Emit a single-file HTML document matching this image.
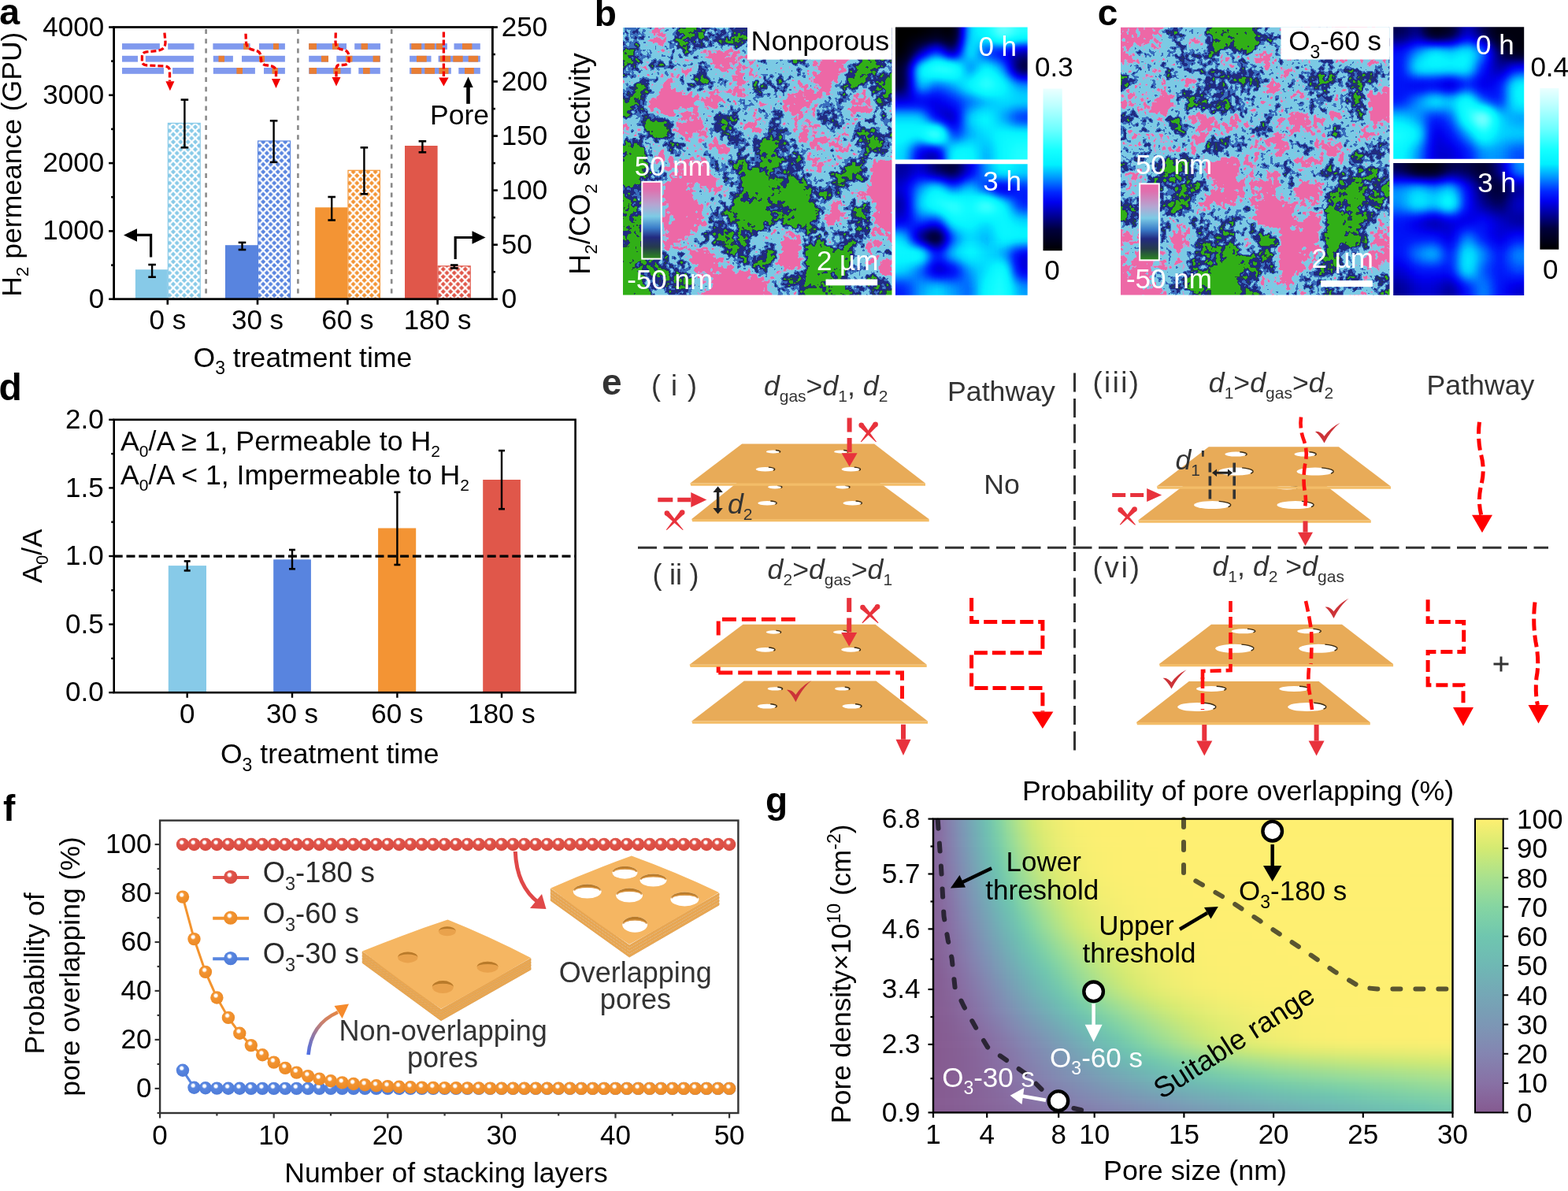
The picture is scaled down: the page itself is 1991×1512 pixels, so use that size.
<!DOCTYPE html>
<html><head><meta charset="utf-8"><title>Figure</title>
<style>html,body{margin:0;padding:0;background:#fff;} svg{display:block;} text{font-family:"Liberation Sans", Arial, sans-serif;}</style>
</head><body>
<svg width="1991" height="1512" viewBox="0 0 1991 1512">
<defs>
<pattern id="hLB" patternUnits="userSpaceOnUse" width="9.33" height="9.5" x="220.00" y="379.70"><rect width="9.33" height="9.5" fill="#fff"/><path d="M-3.15,0.00 L0.00,-3.05 L3.15,0.00 L0.00,3.05 Z M6.18,0.00 L9.33,-3.05 L12.48,0.00 L9.33,3.05 Z M-3.15,9.50 L0.00,6.45 L3.15,9.50 L0.00,12.55 Z M6.18,9.50 L9.33,6.45 L12.48,9.50 L9.33,12.55 Z M1.52,4.75 L4.67,1.70 L7.81,4.75 L4.67,7.80 Z" fill="#87cae8"/></pattern><pattern id="hBL" patternUnits="userSpaceOnUse" width="9.33" height="9.5" x="334.20" y="379.70"><rect width="9.33" height="9.5" fill="#fff"/><path d="M-3.15,0.00 L0.00,-3.05 L3.15,0.00 L0.00,3.05 Z M6.18,0.00 L9.33,-3.05 L12.48,0.00 L9.33,3.05 Z M-3.15,9.50 L0.00,6.45 L3.15,9.50 L0.00,12.55 Z M6.18,9.50 L9.33,6.45 L12.48,9.50 L9.33,12.55 Z M1.52,4.75 L4.67,1.70 L7.81,4.75 L4.67,7.80 Z" fill="#5884df"/></pattern><pattern id="hOR" patternUnits="userSpaceOnUse" width="9.33" height="9.5" x="448.60" y="379.70"><rect width="9.33" height="9.5" fill="#fff"/><path d="M-3.15,0.00 L0.00,-3.05 L3.15,0.00 L0.00,3.05 Z M6.18,0.00 L9.33,-3.05 L12.48,0.00 L9.33,3.05 Z M-3.15,9.50 L0.00,6.45 L3.15,9.50 L0.00,12.55 Z M6.18,9.50 L9.33,6.45 L12.48,9.50 L9.33,12.55 Z M1.52,4.75 L4.67,1.70 L7.81,4.75 L4.67,7.80 Z" fill="#f39434"/></pattern><pattern id="hRD" patternUnits="userSpaceOnUse" width="9.33" height="9.5" x="562.80" y="379.70"><rect width="9.33" height="9.5" fill="#fff"/><path d="M-3.15,0.00 L0.00,-3.05 L3.15,0.00 L0.00,3.05 Z M6.18,0.00 L9.33,-3.05 L12.48,0.00 L9.33,3.05 Z M-3.15,9.50 L0.00,6.45 L3.15,9.50 L0.00,12.55 Z M6.18,9.50 L9.33,6.45 L12.48,9.50 L9.33,12.55 Z M1.52,4.75 L4.67,1.70 L7.81,4.75 L4.67,7.80 Z" fill="#e0574a"/></pattern><filter id="afmb" filterUnits="userSpaceOnUse" x="791" y="35" width="341.5" height="339.5" color-interpolation-filters="sRGB">
<feGaussianBlur in="SourceGraphic" stdDeviation="7" result="base"/>
<feTurbulence type="fractalNoise" baseFrequency="0.035" numOctaves="3" seed="7" result="n0"/>
<feColorMatrix in="n0" type="matrix" values="1 0 0 0 0  0 1 0 0 0  0 0 1 0 0  0 0 0 0 1" result="n1"/>
<feComposite in="base" in2="n1" operator="arithmetic" k1="0" k2="1" k3="0.45" k4="-0.225" result="h1"/>
<feTurbulence type="fractalNoise" baseFrequency="0.16" numOctaves="2" seed="12" result="m0"/>
<feColorMatrix in="m0" type="matrix" values="1 0 0 0 0  0 1 0 0 0  0 0 1 0 0  0 0 0 0 1" result="m1"/>
<feComposite in="h1" in2="m1" operator="arithmetic" k1="0" k2="1" k3="0.3" k4="-0.15" result="hh"/>
<feColorMatrix in="hh" type="matrix" values="1 0 0 0 0  1 0 0 0 0  1 0 0 0 0  0 0 0 0 1"/>
<feComponentTransfer>
<feFuncR type="discrete" tableValues="0.196 0.196 0.196 0.196 0.196 0.196 0.196 0.196 0.196 0.196 0.196 0.196 0.196 0.196 0.196 0.196 0.133 0.129 0.129 0.129 0.227 0.227 0.486 0.486 0.486 0.486 0.486 0.769 0.933 0.933 0.933 0.933 0.933 0.933 0.933 0.933 0.933 0.933 0.933 0.933 0.933 0.933 0.933 0.933 0.933 0.933 0.933 0.933 0.933 0.933"/>
<feFuncG type="discrete" tableValues="0.690 0.690 0.690 0.690 0.690 0.690 0.690 0.690 0.690 0.690 0.690 0.690 0.690 0.690 0.690 0.690 0.275 0.165 0.165 0.165 0.431 0.431 0.796 0.796 0.796 0.796 0.796 0.627 0.408 0.408 0.408 0.408 0.408 0.408 0.408 0.408 0.408 0.408 0.408 0.408 0.408 0.408 0.408 0.408 0.408 0.408 0.408 0.408 0.408 0.408"/>
<feFuncB type="discrete" tableValues="0.094 0.094 0.094 0.094 0.094 0.094 0.094 0.094 0.094 0.094 0.094 0.094 0.094 0.094 0.094 0.094 0.275 0.510 0.510 0.510 0.745 0.745 0.898 0.898 0.898 0.898 0.898 0.824 0.651 0.651 0.651 0.651 0.651 0.651 0.651 0.651 0.651 0.651 0.651 0.651 0.651 0.651 0.651 0.651 0.651 0.651 0.651 0.651 0.651 0.651"/>
</feComponentTransfer>
</filter><clipPath id="afmb_clip"><rect x="791" y="35" width="341.5" height="339.5"/></clipPath><filter id="afmc" filterUnits="userSpaceOnUse" x="1423" y="34.7" width="341.5" height="339.7" color-interpolation-filters="sRGB">
<feGaussianBlur in="SourceGraphic" stdDeviation="7" result="base"/>
<feTurbulence type="fractalNoise" baseFrequency="0.035" numOctaves="3" seed="11" result="n0"/>
<feColorMatrix in="n0" type="matrix" values="1 0 0 0 0  0 1 0 0 0  0 0 1 0 0  0 0 0 0 1" result="n1"/>
<feComposite in="base" in2="n1" operator="arithmetic" k1="0" k2="1" k3="0.45" k4="-0.225" result="h1"/>
<feTurbulence type="fractalNoise" baseFrequency="0.16" numOctaves="2" seed="16" result="m0"/>
<feColorMatrix in="m0" type="matrix" values="1 0 0 0 0  0 1 0 0 0  0 0 1 0 0  0 0 0 0 1" result="m1"/>
<feComposite in="h1" in2="m1" operator="arithmetic" k1="0" k2="1" k3="0.3" k4="-0.15" result="hh"/>
<feColorMatrix in="hh" type="matrix" values="1 0 0 0 0  1 0 0 0 0  1 0 0 0 0  0 0 0 0 1"/>
<feComponentTransfer>
<feFuncR type="discrete" tableValues="0.196 0.196 0.196 0.196 0.196 0.196 0.196 0.196 0.196 0.196 0.196 0.196 0.196 0.196 0.196 0.196 0.133 0.129 0.129 0.129 0.227 0.227 0.486 0.486 0.486 0.486 0.486 0.769 0.933 0.933 0.933 0.933 0.933 0.933 0.933 0.933 0.933 0.933 0.933 0.933 0.933 0.933 0.933 0.933 0.933 0.933 0.933 0.933 0.933 0.933"/>
<feFuncG type="discrete" tableValues="0.690 0.690 0.690 0.690 0.690 0.690 0.690 0.690 0.690 0.690 0.690 0.690 0.690 0.690 0.690 0.690 0.275 0.165 0.165 0.165 0.431 0.431 0.796 0.796 0.796 0.796 0.796 0.627 0.408 0.408 0.408 0.408 0.408 0.408 0.408 0.408 0.408 0.408 0.408 0.408 0.408 0.408 0.408 0.408 0.408 0.408 0.408 0.408 0.408 0.408"/>
<feFuncB type="discrete" tableValues="0.094 0.094 0.094 0.094 0.094 0.094 0.094 0.094 0.094 0.094 0.094 0.094 0.094 0.094 0.094 0.094 0.275 0.510 0.510 0.510 0.745 0.745 0.898 0.898 0.898 0.898 0.898 0.824 0.651 0.651 0.651 0.651 0.651 0.651 0.651 0.651 0.651 0.651 0.651 0.651 0.651 0.651 0.651 0.651 0.651 0.651 0.651 0.651 0.651 0.651"/>
</feComponentTransfer>
</filter><clipPath id="afmc_clip"><rect x="1423" y="34.7" width="341.5" height="339.7"/></clipPath><filter id="k0b" filterUnits="userSpaceOnUse" x="1137" y="34.6" width="167.7" height="167.8" color-interpolation-filters="sRGB">
<feGaussianBlur in="SourceGraphic" stdDeviation="8.5"/>
<feComponentTransfer>
<feFuncR type="table" tableValues="0.000 0.000 0.000 0.000 0.000 0.000 0.000 0.000 0.000 0.000 0.000 0.017 0.061 0.160 0.296 0.431 0.536 0.641 0.745 0.833 0.922"/>
<feFuncG type="table" tableValues="0.000 0.000 0.000 0.000 0.000 0.000 0.000 0.131 0.349 0.588 0.809 0.954 0.987 1.000 1.000 1.000 1.000 1.000 1.000 1.000 1.000"/>
<feFuncB type="table" tableValues="0.000 0.090 0.181 0.318 0.526 0.734 0.941 0.990 1.000 1.000 1.000 1.000 1.000 1.000 1.000 1.000 1.000 1.000 1.000 1.000 1.000"/>
</feComponentTransfer>
</filter><clipPath id="k0b_clip"><rect x="1137" y="34.6" width="167.7" height="167.8"/></clipPath><filter id="k3b" filterUnits="userSpaceOnUse" x="1137" y="208.2" width="167.7" height="166.5" color-interpolation-filters="sRGB">
<feGaussianBlur in="SourceGraphic" stdDeviation="8.5"/>
<feComponentTransfer>
<feFuncR type="table" tableValues="0.000 0.000 0.000 0.000 0.000 0.000 0.000 0.000 0.000 0.000 0.000 0.017 0.061 0.160 0.296 0.431 0.536 0.641 0.745 0.833 0.922"/>
<feFuncG type="table" tableValues="0.000 0.000 0.000 0.000 0.000 0.000 0.000 0.131 0.349 0.588 0.809 0.954 0.987 1.000 1.000 1.000 1.000 1.000 1.000 1.000 1.000"/>
<feFuncB type="table" tableValues="0.000 0.090 0.181 0.318 0.526 0.734 0.941 0.990 1.000 1.000 1.000 1.000 1.000 1.000 1.000 1.000 1.000 1.000 1.000 1.000 1.000"/>
</feComponentTransfer>
</filter><clipPath id="k3b_clip"><rect x="1137" y="208.2" width="167.7" height="166.5"/></clipPath><filter id="k0c" filterUnits="userSpaceOnUse" x="1769.2" y="34.2" width="166" height="167.6" color-interpolation-filters="sRGB">
<feGaussianBlur in="SourceGraphic" stdDeviation="8.5"/>
<feComponentTransfer>
<feFuncR type="table" tableValues="0.000 0.000 0.000 0.000 0.000 0.000 0.000 0.000 0.000 0.000 0.000 0.017 0.061 0.160 0.296 0.431 0.536 0.641 0.745 0.833 0.922"/>
<feFuncG type="table" tableValues="0.000 0.000 0.000 0.000 0.000 0.000 0.000 0.131 0.349 0.588 0.809 0.954 0.987 1.000 1.000 1.000 1.000 1.000 1.000 1.000 1.000"/>
<feFuncB type="table" tableValues="0.000 0.090 0.181 0.318 0.526 0.734 0.941 0.990 1.000 1.000 1.000 1.000 1.000 1.000 1.000 1.000 1.000 1.000 1.000 1.000 1.000"/>
</feComponentTransfer>
</filter><clipPath id="k0c_clip"><rect x="1769.2" y="34.2" width="166" height="167.6"/></clipPath><filter id="k3c" filterUnits="userSpaceOnUse" x="1769.2" y="207.1" width="166" height="167.9" color-interpolation-filters="sRGB">
<feGaussianBlur in="SourceGraphic" stdDeviation="8.5"/>
<feComponentTransfer>
<feFuncR type="table" tableValues="0.000 0.000 0.000 0.000 0.000 0.000 0.000 0.000 0.000 0.000 0.000 0.017 0.061 0.160 0.296 0.431 0.536 0.641 0.745 0.833 0.922"/>
<feFuncG type="table" tableValues="0.000 0.000 0.000 0.000 0.000 0.000 0.000 0.131 0.349 0.588 0.809 0.954 0.987 1.000 1.000 1.000 1.000 1.000 1.000 1.000 1.000"/>
<feFuncB type="table" tableValues="0.000 0.090 0.181 0.318 0.526 0.734 0.941 0.990 1.000 1.000 1.000 1.000 1.000 1.000 1.000 1.000 1.000 1.000 1.000 1.000 1.000"/>
</feComponentTransfer>
</filter><clipPath id="k3c_clip"><rect x="1769.2" y="207.1" width="166" height="167.9"/></clipPath><linearGradient id="afmcb" x1="0" y1="0" x2="0" y2="1"><stop offset="0" stop-color="#ee68a6"/><stop offset="0.1" stop-color="#e06fae"/><stop offset="0.3" stop-color="#b4a6d2"/><stop offset="0.45" stop-color="#7ccbe5"/><stop offset="0.6" stop-color="#3a7cc8"/><stop offset="0.72" stop-color="#222a80"/><stop offset="0.85" stop-color="#263c4c"/><stop offset="1" stop-color="#2c8a1e"/></linearGradient><linearGradient id="kcb" x1="0" y1="0" x2="0" y2="1"><stop offset="0.000" stop-color="#ebffff"/><stop offset="0.100" stop-color="#beffff"/><stop offset="0.250" stop-color="#6effff"/><stop offset="0.380" stop-color="#14ffff"/><stop offset="0.470" stop-color="#00f0ff"/><stop offset="0.550" stop-color="#0096ff"/><stop offset="0.640" stop-color="#0028ff"/><stop offset="0.700" stop-color="#0000f0"/><stop offset="0.870" stop-color="#00003c"/><stop offset="1.000" stop-color="#000000"/></linearGradient><linearGradient id="kfade" x1="0" y1="0" x2="0" y2="1"><stop offset="0" stop-color="#fff" stop-opacity="1"/><stop offset="0.08" stop-color="#fff" stop-opacity="0"/></linearGradient><radialGradient id="sR" cx="0.42" cy="0.36" r="0.62" fx="0.42" fy="0.34"><stop offset="0" stop-color="#fff"/><stop offset="0.16" stop-color="#fff" stop-opacity="0.95"/><stop offset="0.34" stop-color="#e0554b"/><stop offset="1" stop-color="#d84a40"/></radialGradient><radialGradient id="sO" cx="0.42" cy="0.36" r="0.62" fx="0.42" fy="0.34"><stop offset="0" stop-color="#fff"/><stop offset="0.16" stop-color="#fff" stop-opacity="0.95"/><stop offset="0.34" stop-color="#f39431"/><stop offset="1" stop-color="#ec8a26"/></radialGradient><radialGradient id="sB" cx="0.42" cy="0.36" r="0.62" fx="0.42" fy="0.34"><stop offset="0" stop-color="#fff"/><stop offset="0.16" stop-color="#fff" stop-opacity="0.95"/><stop offset="0.34" stop-color="#5886e0"/><stop offset="1" stop-color="#4e7bd8"/></radialGradient><linearGradient id="garr" gradientUnits="userSpaceOnUse" x1="391" y1="1340" x2="440" y2="1278"><stop offset="0" stop-color="#4a6ee8"/><stop offset="0.55" stop-color="#c88070"/><stop offset="1" stop-color="#f58a2c"/></linearGradient><filter id="hblur" filterUnits="userSpaceOnUse" x="1185.0" y="1039.6" width="659.5" height="372.8000000000002" color-interpolation-filters="sRGB"><feGaussianBlur stdDeviation="6"/></filter><clipPath id="hclip"><rect x="1185.0" y="1039.6" width="659.5" height="372.8000000000002"/></clipPath><linearGradient id="vcb" x1="0" y1="0" x2="0" y2="1"><stop offset="0.000" stop-color="#feef71"/><stop offset="0.050" stop-color="#e9ed72"/><stop offset="0.100" stop-color="#d4ea72"/><stop offset="0.150" stop-color="#bee680"/><stop offset="0.200" stop-color="#a9e18e"/><stop offset="0.250" stop-color="#97db98"/><stop offset="0.300" stop-color="#85d5a2"/><stop offset="0.350" stop-color="#7acea9"/><stop offset="0.400" stop-color="#6fc6af"/><stop offset="0.450" stop-color="#6fbfb2"/><stop offset="0.500" stop-color="#6fb8b4"/><stop offset="0.550" stop-color="#72afb5"/><stop offset="0.600" stop-color="#75a7b6"/><stop offset="0.650" stop-color="#789fb5"/><stop offset="0.700" stop-color="#7c97b5"/><stop offset="0.750" stop-color="#808eb3"/><stop offset="0.800" stop-color="#8485b1"/><stop offset="0.850" stop-color="#867bab"/><stop offset="0.900" stop-color="#8871a5"/><stop offset="0.950" stop-color="#87659b"/><stop offset="1.000" stop-color="#855a90"/></linearGradient>
</defs>
<rect width="1991" height="1512" fill="#fff"/>
<line x1="261.6" y1="37.0" x2="261.6" y2="378.0" stroke="#8a8a8a" stroke-width="2.6" stroke-dasharray="6,6.2"/>
<line x1="378.4" y1="37.0" x2="378.4" y2="378.0" stroke="#8a8a8a" stroke-width="2.6" stroke-dasharray="6,6.2"/>
<line x1="497.2" y1="37.0" x2="497.2" y2="378.0" stroke="#8a8a8a" stroke-width="2.6" stroke-dasharray="6,6.2"/>
<rect x="171.9" y="342.2" width="40.9" height="37.5" fill="#87cae8" />
<rect x="213.4" y="156.4" width="40.8" height="223.3" fill="url(#hLB)" stroke="#87cae8" stroke-width="1.2"/>
<rect x="286.0" y="311.2" width="41.0" height="68.5" fill="#5884df" />
<rect x="327.6" y="179.0" width="40.9" height="200.7" fill="url(#hBL)" stroke="#5884df" stroke-width="1.2"/>
<rect x="400.2" y="263.3" width="41.2" height="116.4" fill="#f39434" />
<rect x="442.0" y="216.3" width="40.4" height="163.4" fill="url(#hOR)" stroke="#f39434" stroke-width="1.2"/>
<rect x="514.0" y="185.0" width="41.6" height="194.7" fill="#e0574a" />
<rect x="556.2" y="337.8" width="41.0" height="41.9" fill="url(#hRD)" stroke="#e0574a" stroke-width="1.2"/>
<line x1="193.1" y1="336.0" x2="193.1" y2="351.7" stroke="#000" stroke-width="2.4" />
<line x1="188.3" y1="336.0" x2="197.9" y2="336.0" stroke="#000" stroke-width="2.6" />
<line x1="188.3" y1="351.7" x2="197.9" y2="351.7" stroke="#000" stroke-width="2.6" />
<line x1="234.4" y1="126.6" x2="234.4" y2="187.3" stroke="#000" stroke-width="2.4" />
<line x1="229.6" y1="126.6" x2="239.2" y2="126.6" stroke="#000" stroke-width="2.6" />
<line x1="229.6" y1="187.3" x2="239.2" y2="187.3" stroke="#000" stroke-width="2.6" />
<line x1="307.5" y1="307.9" x2="307.5" y2="317.0" stroke="#000" stroke-width="2.4" />
<line x1="302.7" y1="307.9" x2="312.3" y2="307.9" stroke="#000" stroke-width="2.6" />
<line x1="302.7" y1="317.0" x2="312.3" y2="317.0" stroke="#000" stroke-width="2.6" />
<line x1="347.6" y1="153.3" x2="347.6" y2="205.9" stroke="#000" stroke-width="2.4" />
<line x1="342.8" y1="153.3" x2="352.4" y2="153.3" stroke="#000" stroke-width="2.6" />
<line x1="342.8" y1="205.9" x2="352.4" y2="205.9" stroke="#000" stroke-width="2.6" />
<line x1="421.2" y1="250.0" x2="421.2" y2="279.5" stroke="#000" stroke-width="2.4" />
<line x1="416.4" y1="250.0" x2="426.0" y2="250.0" stroke="#000" stroke-width="2.6" />
<line x1="416.4" y1="279.5" x2="426.0" y2="279.5" stroke="#000" stroke-width="2.6" />
<line x1="462.4" y1="187.3" x2="462.4" y2="246.3" stroke="#000" stroke-width="2.4" />
<line x1="457.6" y1="187.3" x2="467.2" y2="187.3" stroke="#000" stroke-width="2.6" />
<line x1="457.6" y1="246.3" x2="467.2" y2="246.3" stroke="#000" stroke-width="2.6" />
<line x1="536.4" y1="179.3" x2="536.4" y2="193.3" stroke="#000" stroke-width="2.4" />
<line x1="531.6" y1="179.3" x2="541.2" y2="179.3" stroke="#000" stroke-width="2.6" />
<line x1="531.6" y1="193.3" x2="541.2" y2="193.3" stroke="#000" stroke-width="2.6" />
<line x1="576.8" y1="336.5" x2="576.8" y2="340.4" stroke="#000" stroke-width="2.4" />
<line x1="572.0" y1="336.5" x2="581.6" y2="336.5" stroke="#000" stroke-width="2.6" />
<line x1="572.0" y1="340.4" x2="581.6" y2="340.4" stroke="#000" stroke-width="2.6" />
<rect x="144.6" y="34.5" width="480.79999999999995" height="345.2" fill="none" stroke="#000" stroke-width="2.8"/>
<line x1="138.1" y1="379.7" x2="144.6" y2="379.7" stroke="#000" stroke-width="2.6" />
<text x="132.2" y="390.7" font-size="35" text-anchor="end" fill="#000" font-weight="normal" >0</text>
<line x1="141.1" y1="336.6" x2="144.6" y2="336.6" stroke="#000" stroke-width="2.6" />
<line x1="138.1" y1="293.4" x2="144.6" y2="293.4" stroke="#000" stroke-width="2.6" />
<text x="132.2" y="304.4" font-size="35" text-anchor="end" fill="#000" font-weight="normal" >1000</text>
<line x1="141.1" y1="250.2" x2="144.6" y2="250.2" stroke="#000" stroke-width="2.6" />
<line x1="138.1" y1="207.1" x2="144.6" y2="207.1" stroke="#000" stroke-width="2.6" />
<text x="132.2" y="218.1" font-size="35" text-anchor="end" fill="#000" font-weight="normal" >2000</text>
<line x1="141.1" y1="163.9" x2="144.6" y2="163.9" stroke="#000" stroke-width="2.6" />
<line x1="138.1" y1="120.8" x2="144.6" y2="120.8" stroke="#000" stroke-width="2.6" />
<text x="132.2" y="131.8" font-size="35" text-anchor="end" fill="#000" font-weight="normal" >3000</text>
<line x1="141.1" y1="77.6" x2="144.6" y2="77.6" stroke="#000" stroke-width="2.6" />
<line x1="138.1" y1="34.5" x2="144.6" y2="34.5" stroke="#000" stroke-width="2.6" />
<text x="132.2" y="45.5" font-size="35" text-anchor="end" fill="#000" font-weight="normal" >4000</text>
<line x1="625.4" y1="379.7" x2="631.9" y2="379.7" stroke="#000" stroke-width="2.6" />
<text x="636.8" y="390.7" font-size="35" text-anchor="start" fill="#000" font-weight="normal" >0</text>
<line x1="625.4" y1="345.2" x2="628.9" y2="345.2" stroke="#000" stroke-width="2.6" />
<line x1="625.4" y1="310.7" x2="631.9" y2="310.7" stroke="#000" stroke-width="2.6" />
<text x="636.8" y="321.7" font-size="35" text-anchor="start" fill="#000" font-weight="normal" >50</text>
<line x1="625.4" y1="276.1" x2="628.9" y2="276.1" stroke="#000" stroke-width="2.6" />
<line x1="625.4" y1="241.6" x2="631.9" y2="241.6" stroke="#000" stroke-width="2.6" />
<text x="636.8" y="252.6" font-size="35" text-anchor="start" fill="#000" font-weight="normal" >100</text>
<line x1="625.4" y1="207.1" x2="628.9" y2="207.1" stroke="#000" stroke-width="2.6" />
<line x1="625.4" y1="172.6" x2="631.9" y2="172.6" stroke="#000" stroke-width="2.6" />
<text x="636.8" y="183.6" font-size="35" text-anchor="start" fill="#000" font-weight="normal" >150</text>
<line x1="625.4" y1="138.1" x2="628.9" y2="138.1" stroke="#000" stroke-width="2.6" />
<line x1="625.4" y1="103.5" x2="631.9" y2="103.5" stroke="#000" stroke-width="2.6" />
<text x="636.8" y="114.5" font-size="35" text-anchor="start" fill="#000" font-weight="normal" >200</text>
<line x1="625.4" y1="69.0" x2="628.9" y2="69.0" stroke="#000" stroke-width="2.6" />
<line x1="625.4" y1="34.5" x2="631.9" y2="34.5" stroke="#000" stroke-width="2.6" />
<text x="636.8" y="45.5" font-size="35" text-anchor="start" fill="#000" font-weight="normal" >250</text>
<line x1="212.8" y1="379.7" x2="212.8" y2="386.7" stroke="#000" stroke-width="2.6" />
<text x="212.8" y="417.8" font-size="35" text-anchor="middle" fill="#000" font-weight="normal" >0 s</text>
<line x1="327.0" y1="379.7" x2="327.0" y2="386.7" stroke="#000" stroke-width="2.6" />
<text x="327.0" y="417.8" font-size="35" text-anchor="middle" fill="#000" font-weight="normal" >30 s</text>
<line x1="441.4" y1="379.7" x2="441.4" y2="386.7" stroke="#000" stroke-width="2.6" />
<text x="441.4" y="417.8" font-size="35" text-anchor="middle" fill="#000" font-weight="normal" >60 s</text>
<line x1="555.6" y1="379.7" x2="555.6" y2="386.7" stroke="#000" stroke-width="2.6" />
<text x="555.6" y="417.8" font-size="35" text-anchor="middle" fill="#000" font-weight="normal" >180 s</text>
<text x="245.5" y="465.7" font-size="35.6" text-anchor="start" fill="#000" font-weight="normal" >O<tspan dy="9.5" font-size="23">3</tspan><tspan dy="-9.5">​</tspan> treatment time</text>
<text transform="translate(26.5,208.75) rotate(-90)" font-size="35.5" text-anchor="middle">H<tspan dy="9.5" font-size="22.8">2</tspan><tspan dy="-9.5">​</tspan> permeance (GPU)</text>
<text transform="translate(748.6,208) rotate(-90)" font-size="36" text-anchor="middle">H<tspan dy="9.5" font-size="22.8">2</tspan><tspan dy="-9.5">​</tspan>/CO<tspan dy="9.5" font-size="22.8">2</tspan><tspan dy="-9.5">​</tspan> selectivity</text>
<text x="-0.8" y="30.9" font-size="46.5" text-anchor="start" fill="#000" font-weight="bold" >a</text>
<path d="M191.6,326.5 V298.3 H172" fill="none" stroke="#000" stroke-width="3.2"/>
<path d="M157,298.5 L174,290.2 L174,306.8 Z" fill="#000"/>
<path d="M578.2,329 V301.5 H600" fill="none" stroke="#000" stroke-width="3.2"/>
<path d="M616.5,301.5 L599.5,293.2 L599.5,309.8 Z" fill="#000"/>
<text x="546.0" y="158.2" font-size="35.5" text-anchor="start" fill="#000" font-weight="normal" >Pore</text>
<path d="M594.5,131.8 V108" stroke="#000" stroke-width="4.6"/>
<path d="M594.5,97.5 L588.3,111 L600.7,111 Z" fill="#000"/>
<rect x="155.0" y="55.1" width="47.9" height="7.7" fill="#8099ee" />
<rect x="213.2" y="55.1" width="33.3" height="7.7" fill="#8099ee" />
<rect x="155.0" y="70.8" width="20.0" height="7.8" fill="#8099ee" />
<rect x="184.8" y="70.8" width="61.1" height="7.8" fill="#8099ee" />
<rect x="155.0" y="86.0" width="53.0" height="7.8" fill="#8099ee" />
<rect x="219.1" y="86.0" width="26.8" height="7.8" fill="#8099ee" />
<rect x="270.4" y="55.1" width="47.2" height="7.7" fill="#8099ee" />
<rect x="309.2" y="55.1" width="6.9" height="7.7" fill="#e87e34" />
<rect x="329.0" y="55.1" width="32.9" height="7.7" fill="#8099ee" />
<rect x="347.0" y="55.1" width="7.0" height="7.7" fill="#e87e34" />
<rect x="270.8" y="70.8" width="25.1" height="7.8" fill="#8099ee" />
<rect x="277.5" y="70.8" width="7.5" height="7.8" fill="#e87e34" />
<rect x="307.0" y="70.8" width="54.9" height="7.8" fill="#8099ee" />
<rect x="329.0" y="70.8" width="7.0" height="7.8" fill="#e87e34" />
<rect x="270.8" y="86.0" width="53.1" height="7.8" fill="#8099ee" />
<rect x="300.4" y="86.0" width="7.6" height="7.8" fill="#e87e34" />
<rect x="335.0" y="86.0" width="26.9" height="7.8" fill="#8099ee" />
<rect x="345.6" y="86.0" width="7.2" height="7.8" fill="#e87e34" />
<rect x="392.2" y="55.1" width="47.8" height="7.7" fill="#8099ee" />
<rect x="392.2" y="55.1" width="9.8" height="7.7" fill="#e87e34" />
<rect x="422.0" y="55.1" width="8.0" height="7.7" fill="#e87e34" />
<rect x="450.2" y="55.1" width="32.8" height="7.7" fill="#8099ee" />
<rect x="458.6" y="55.1" width="8.4" height="7.7" fill="#e87e34" />
<rect x="392.2" y="70.8" width="24.8" height="7.8" fill="#8099ee" />
<rect x="408.0" y="70.8" width="9.0" height="7.8" fill="#e87e34" />
<rect x="427.3" y="70.8" width="55.7" height="7.8" fill="#8099ee" />
<rect x="439.0" y="70.8" width="8.4" height="7.8" fill="#e87e34" />
<rect x="473.6" y="70.8" width="8.8" height="7.8" fill="#e87e34" />
<rect x="392.2" y="86.0" width="53.4" height="7.8" fill="#8099ee" />
<rect x="392.6" y="86.0" width="9.4" height="7.8" fill="#e87e34" />
<rect x="423.3" y="86.0" width="9.1" height="7.8" fill="#e87e34" />
<rect x="455.3" y="86.0" width="27.5" height="7.8" fill="#8099ee" />
<rect x="461.0" y="86.0" width="8.7" height="7.8" fill="#e87e34" />
<rect x="520.1" y="55.1" width="47.8" height="7.7" fill="#8099ee" />
<rect x="522.3" y="55.1" width="12.9" height="7.7" fill="#e87e34" />
<rect x="539.3" y="55.1" width="12.5" height="7.7" fill="#e87e34" />
<rect x="554.1" y="55.1" width="7.9" height="7.7" fill="#e87e34" />
<rect x="576.5" y="55.1" width="33.3" height="7.7" fill="#8099ee" />
<rect x="587.0" y="55.1" width="12.4" height="7.7" fill="#e87e34" />
<rect x="520.1" y="70.8" width="27.4" height="7.8" fill="#8099ee" />
<rect x="529.0" y="70.8" width="12.7" height="7.8" fill="#e87e34" />
<rect x="556.6" y="70.8" width="53.2" height="7.8" fill="#8099ee" />
<rect x="558.7" y="70.8" width="13.3" height="7.8" fill="#e87e34" />
<rect x="575.3" y="70.8" width="12.4" height="7.8" fill="#e87e34" />
<rect x="594.7" y="70.8" width="12.4" height="7.8" fill="#e87e34" />
<rect x="520.1" y="86.0" width="52.7" height="7.8" fill="#8099ee" />
<rect x="522.3" y="86.0" width="12.9" height="7.8" fill="#e87e34" />
<rect x="539.3" y="86.0" width="12.7" height="7.8" fill="#e87e34" />
<rect x="557.4" y="86.0" width="12.1" height="7.8" fill="#e87e34" />
<rect x="582.3" y="86.0" width="27.5" height="7.8" fill="#8099ee" />
<rect x="590.0" y="86.0" width="11.8" height="7.8" fill="#e87e34" />
<path d="M208.9,41.7 L210,53 Q210.5,63 200,64.5 L186,65.8 Q180.4,66.5 180.4,72 L180.4,78 Q180.4,83 188,83 L209,84 Q215.5,84.5 215.5,90 L215.5,103" fill="none" stroke="#f20000" stroke-width="3.3" stroke-dasharray="7,3" stroke-linejoin="round"/>
<path d="M210.4,103.2 L221.4,103.2 L215.9,115.3 Z" fill="#f20000"/>
<path d="M312,42.7 L312.5,54 Q313,62 322,63.5 Q331,64.5 331,72 L332,78 Q333,83 340,83 Q350,83.5 350.5,90 L350.5,100" fill="none" stroke="#f20000" stroke-width="3.3" stroke-dasharray="7,3" stroke-linejoin="round"/>
<path d="M345.0,100.0 L356.0,100.0 L350.5,112.0 Z" fill="#f20000"/>
<path d="M426.3,41.5 L426,53 Q426,62 435,63 Q443,64 443,72 L443,78 Q443,82.5 435,82.5 L430,82.5 Q427,83 427,88 L427,98" fill="none" stroke="#f20000" stroke-width="3.3" stroke-dasharray="7,3" stroke-linejoin="round"/>
<path d="M421.5,98.0 L432.5,98.0 L427.0,109.6 Z" fill="#f20000"/>
<path d="M563.4,40.6 L563.4,97" fill="none" stroke="#f20000" stroke-width="3.3" stroke-dasharray="7,3" stroke-linejoin="round"/>
<path d="M557.2,98.6 L569.6,98.6 L563.4,109.4 Z" fill="#f20000"/>
<g clip-path="url(#afmb_clip)"><g filter="url(#afmb)"><rect x="762.5" y="6.7" width="29.1" height="28.9" fill="rgb(107,107,107)"/><rect x="791.0" y="6.7" width="29.1" height="28.9" fill="rgb(107,107,107)"/><rect x="819.5" y="6.7" width="29.1" height="28.9" fill="rgb(133,133,133)"/><rect x="847.9" y="6.7" width="29.1" height="28.9" fill="rgb(102,102,102)"/><rect x="876.4" y="6.7" width="29.1" height="28.9" fill="rgb(97,97,97)"/><rect x="904.8" y="6.7" width="29.1" height="28.9" fill="rgb(102,102,102)"/><rect x="933.3" y="6.7" width="29.1" height="28.9" fill="rgb(89,89,89)"/><rect x="961.8" y="6.7" width="29.1" height="28.9" fill="rgb(115,115,115)"/><rect x="990.2" y="6.7" width="29.1" height="28.9" fill="rgb(128,128,128)"/><rect x="1018.7" y="6.7" width="29.1" height="28.9" fill="rgb(128,128,128)"/><rect x="1047.1" y="6.7" width="29.1" height="28.9" fill="rgb(128,128,128)"/><rect x="1075.6" y="6.7" width="29.1" height="28.9" fill="rgb(102,102,102)"/><rect x="1104.0" y="6.7" width="29.1" height="28.9" fill="rgb(89,89,89)"/><rect x="1132.5" y="6.7" width="29.1" height="28.9" fill="rgb(89,89,89)"/><rect x="762.5" y="35.0" width="29.1" height="28.9" fill="rgb(107,107,107)"/><rect x="791.0" y="35.0" width="29.1" height="28.9" fill="rgb(107,107,107)"/><rect x="819.5" y="35.0" width="29.1" height="28.9" fill="rgb(133,133,133)"/><rect x="847.9" y="35.0" width="29.1" height="28.9" fill="rgb(102,102,102)"/><rect x="876.4" y="35.0" width="29.1" height="28.9" fill="rgb(97,97,97)"/><rect x="904.8" y="35.0" width="29.1" height="28.9" fill="rgb(102,102,102)"/><rect x="933.3" y="35.0" width="29.1" height="28.9" fill="rgb(89,89,89)"/><rect x="961.8" y="35.0" width="29.1" height="28.9" fill="rgb(115,115,115)"/><rect x="990.2" y="35.0" width="29.1" height="28.9" fill="rgb(128,128,128)"/><rect x="1018.7" y="35.0" width="29.1" height="28.9" fill="rgb(128,128,128)"/><rect x="1047.1" y="35.0" width="29.1" height="28.9" fill="rgb(128,128,128)"/><rect x="1075.6" y="35.0" width="29.1" height="28.9" fill="rgb(102,102,102)"/><rect x="1104.0" y="35.0" width="29.1" height="28.9" fill="rgb(89,89,89)"/><rect x="1132.5" y="35.0" width="29.1" height="28.9" fill="rgb(89,89,89)"/><rect x="762.5" y="63.3" width="29.1" height="28.9" fill="rgb(102,102,102)"/><rect x="791.0" y="63.3" width="29.1" height="28.9" fill="rgb(102,102,102)"/><rect x="819.5" y="63.3" width="29.1" height="28.9" fill="rgb(107,107,107)"/><rect x="847.9" y="63.3" width="29.1" height="28.9" fill="rgb(122,122,122)"/><rect x="876.4" y="63.3" width="29.1" height="28.9" fill="rgb(115,115,115)"/><rect x="904.8" y="63.3" width="29.1" height="28.9" fill="rgb(153,153,153)"/><rect x="933.3" y="63.3" width="29.1" height="28.9" fill="rgb(140,140,140)"/><rect x="961.8" y="63.3" width="29.1" height="28.9" fill="rgb(122,122,122)"/><rect x="990.2" y="63.3" width="29.1" height="28.9" fill="rgb(140,140,140)"/><rect x="1018.7" y="63.3" width="29.1" height="28.9" fill="rgb(115,115,115)"/><rect x="1047.1" y="63.3" width="29.1" height="28.9" fill="rgb(166,166,166)"/><rect x="1075.6" y="63.3" width="29.1" height="28.9" fill="rgb(89,89,89)"/><rect x="1104.0" y="63.3" width="29.1" height="28.9" fill="rgb(89,89,89)"/><rect x="1132.5" y="63.3" width="29.1" height="28.9" fill="rgb(89,89,89)"/><rect x="762.5" y="91.6" width="29.1" height="28.9" fill="rgb(102,102,102)"/><rect x="791.0" y="91.6" width="29.1" height="28.9" fill="rgb(102,102,102)"/><rect x="819.5" y="91.6" width="29.1" height="28.9" fill="rgb(117,117,117)"/><rect x="847.9" y="91.6" width="29.1" height="28.9" fill="rgb(133,133,133)"/><rect x="876.4" y="91.6" width="29.1" height="28.9" fill="rgb(107,107,107)"/><rect x="904.8" y="91.6" width="29.1" height="28.9" fill="rgb(140,140,140)"/><rect x="933.3" y="91.6" width="29.1" height="28.9" fill="rgb(148,148,148)"/><rect x="961.8" y="91.6" width="29.1" height="28.9" fill="rgb(97,97,97)"/><rect x="990.2" y="91.6" width="29.1" height="28.9" fill="rgb(115,115,115)"/><rect x="1018.7" y="91.6" width="29.1" height="28.9" fill="rgb(148,148,148)"/><rect x="1047.1" y="91.6" width="29.1" height="28.9" fill="rgb(140,140,140)"/><rect x="1075.6" y="91.6" width="29.1" height="28.9" fill="rgb(84,84,84)"/><rect x="1104.0" y="91.6" width="29.1" height="28.9" fill="rgb(84,84,84)"/><rect x="1132.5" y="91.6" width="29.1" height="28.9" fill="rgb(84,84,84)"/><rect x="762.5" y="119.9" width="29.1" height="28.9" fill="rgb(76,76,76)"/><rect x="791.0" y="119.9" width="29.1" height="28.9" fill="rgb(76,76,76)"/><rect x="819.5" y="119.9" width="29.1" height="28.9" fill="rgb(148,148,148)"/><rect x="847.9" y="119.9" width="29.1" height="28.9" fill="rgb(153,153,153)"/><rect x="876.4" y="119.9" width="29.1" height="28.9" fill="rgb(140,140,140)"/><rect x="904.8" y="119.9" width="29.1" height="28.9" fill="rgb(115,115,115)"/><rect x="933.3" y="119.9" width="29.1" height="28.9" fill="rgb(122,122,122)"/><rect x="961.8" y="119.9" width="29.1" height="28.9" fill="rgb(115,115,115)"/><rect x="990.2" y="119.9" width="29.1" height="28.9" fill="rgb(133,133,133)"/><rect x="1018.7" y="119.9" width="29.1" height="28.9" fill="rgb(140,140,140)"/><rect x="1047.1" y="119.9" width="29.1" height="28.9" fill="rgb(102,102,102)"/><rect x="1075.6" y="119.9" width="29.1" height="28.9" fill="rgb(153,153,153)"/><rect x="1104.0" y="119.9" width="29.1" height="28.9" fill="rgb(115,115,115)"/><rect x="1132.5" y="119.9" width="29.1" height="28.9" fill="rgb(115,115,115)"/><rect x="762.5" y="148.2" width="29.1" height="28.9" fill="rgb(140,140,140)"/><rect x="791.0" y="148.2" width="29.1" height="28.9" fill="rgb(140,140,140)"/><rect x="819.5" y="148.2" width="29.1" height="28.9" fill="rgb(64,64,64)"/><rect x="847.9" y="148.2" width="29.1" height="28.9" fill="rgb(128,128,128)"/><rect x="876.4" y="148.2" width="29.1" height="28.9" fill="rgb(140,140,140)"/><rect x="904.8" y="148.2" width="29.1" height="28.9" fill="rgb(102,102,102)"/><rect x="933.3" y="148.2" width="29.1" height="28.9" fill="rgb(115,115,115)"/><rect x="961.8" y="148.2" width="29.1" height="28.9" fill="rgb(128,128,128)"/><rect x="990.2" y="148.2" width="29.1" height="28.9" fill="rgb(115,115,115)"/><rect x="1018.7" y="148.2" width="29.1" height="28.9" fill="rgb(148,148,148)"/><rect x="1047.1" y="148.2" width="29.1" height="28.9" fill="rgb(122,122,122)"/><rect x="1075.6" y="148.2" width="29.1" height="28.9" fill="rgb(107,107,107)"/><rect x="1104.0" y="148.2" width="29.1" height="28.9" fill="rgb(89,89,89)"/><rect x="1132.5" y="148.2" width="29.1" height="28.9" fill="rgb(89,89,89)"/><rect x="762.5" y="176.5" width="29.1" height="28.9" fill="rgb(76,76,76)"/><rect x="791.0" y="176.5" width="29.1" height="28.9" fill="rgb(76,76,76)"/><rect x="819.5" y="176.5" width="29.1" height="28.9" fill="rgb(140,140,140)"/><rect x="847.9" y="176.5" width="29.1" height="28.9" fill="rgb(115,115,115)"/><rect x="876.4" y="176.5" width="29.1" height="28.9" fill="rgb(133,133,133)"/><rect x="904.8" y="176.5" width="29.1" height="28.9" fill="rgb(128,128,128)"/><rect x="933.3" y="176.5" width="29.1" height="28.9" fill="rgb(97,97,97)"/><rect x="961.8" y="176.5" width="29.1" height="28.9" fill="rgb(76,76,76)"/><rect x="990.2" y="176.5" width="29.1" height="28.9" fill="rgb(107,107,107)"/><rect x="1018.7" y="176.5" width="29.1" height="28.9" fill="rgb(140,140,140)"/><rect x="1047.1" y="176.5" width="29.1" height="28.9" fill="rgb(133,133,133)"/><rect x="1075.6" y="176.5" width="29.1" height="28.9" fill="rgb(115,115,115)"/><rect x="1104.0" y="176.5" width="29.1" height="28.9" fill="rgb(102,102,102)"/><rect x="1132.5" y="176.5" width="29.1" height="28.9" fill="rgb(102,102,102)"/><rect x="762.5" y="204.8" width="29.1" height="28.9" fill="rgb(56,56,56)"/><rect x="791.0" y="204.8" width="29.1" height="28.9" fill="rgb(56,56,56)"/><rect x="819.5" y="204.8" width="29.1" height="28.9" fill="rgb(115,115,115)"/><rect x="847.9" y="204.8" width="29.1" height="28.9" fill="rgb(153,153,153)"/><rect x="876.4" y="204.8" width="29.1" height="28.9" fill="rgb(178,178,178)"/><rect x="904.8" y="204.8" width="29.1" height="28.9" fill="rgb(115,115,115)"/><rect x="933.3" y="204.8" width="29.1" height="28.9" fill="rgb(76,76,76)"/><rect x="961.8" y="204.8" width="29.1" height="28.9" fill="rgb(56,56,56)"/><rect x="990.2" y="204.8" width="29.1" height="28.9" fill="rgb(97,97,97)"/><rect x="1018.7" y="204.8" width="29.1" height="28.9" fill="rgb(115,115,115)"/><rect x="1047.1" y="204.8" width="29.1" height="28.9" fill="rgb(89,89,89)"/><rect x="1075.6" y="204.8" width="29.1" height="28.9" fill="rgb(89,89,89)"/><rect x="1104.0" y="204.8" width="29.1" height="28.9" fill="rgb(178,178,178)"/><rect x="1132.5" y="204.8" width="29.1" height="28.9" fill="rgb(178,178,178)"/><rect x="762.5" y="233.0" width="29.1" height="28.9" fill="rgb(76,76,76)"/><rect x="791.0" y="233.0" width="29.1" height="28.9" fill="rgb(76,76,76)"/><rect x="819.5" y="233.0" width="29.1" height="28.9" fill="rgb(115,115,115)"/><rect x="847.9" y="233.0" width="29.1" height="28.9" fill="rgb(184,184,184)"/><rect x="876.4" y="233.0" width="29.1" height="28.9" fill="rgb(140,140,140)"/><rect x="904.8" y="233.0" width="29.1" height="28.9" fill="rgb(115,115,115)"/><rect x="933.3" y="233.0" width="29.1" height="28.9" fill="rgb(76,76,76)"/><rect x="961.8" y="233.0" width="29.1" height="28.9" fill="rgb(64,64,64)"/><rect x="990.2" y="233.0" width="29.1" height="28.9" fill="rgb(76,76,76)"/><rect x="1018.7" y="233.0" width="29.1" height="28.9" fill="rgb(82,82,82)"/><rect x="1047.1" y="233.0" width="29.1" height="28.9" fill="rgb(128,128,128)"/><rect x="1075.6" y="233.0" width="29.1" height="28.9" fill="rgb(115,115,115)"/><rect x="1104.0" y="233.0" width="29.1" height="28.9" fill="rgb(178,178,178)"/><rect x="1132.5" y="233.0" width="29.1" height="28.9" fill="rgb(178,178,178)"/><rect x="762.5" y="261.3" width="29.1" height="28.9" fill="rgb(76,76,76)"/><rect x="791.0" y="261.3" width="29.1" height="28.9" fill="rgb(76,76,76)"/><rect x="819.5" y="261.3" width="29.1" height="28.9" fill="rgb(115,115,115)"/><rect x="847.9" y="261.3" width="29.1" height="28.9" fill="rgb(184,184,184)"/><rect x="876.4" y="261.3" width="29.1" height="28.9" fill="rgb(153,153,153)"/><rect x="904.8" y="261.3" width="29.1" height="28.9" fill="rgb(97,97,97)"/><rect x="933.3" y="261.3" width="29.1" height="28.9" fill="rgb(76,76,76)"/><rect x="961.8" y="261.3" width="29.1" height="28.9" fill="rgb(76,76,76)"/><rect x="990.2" y="261.3" width="29.1" height="28.9" fill="rgb(64,64,64)"/><rect x="1018.7" y="261.3" width="29.1" height="28.9" fill="rgb(76,76,76)"/><rect x="1047.1" y="261.3" width="29.1" height="28.9" fill="rgb(148,148,148)"/><rect x="1075.6" y="261.3" width="29.1" height="28.9" fill="rgb(107,107,107)"/><rect x="1104.0" y="261.3" width="29.1" height="28.9" fill="rgb(158,158,158)"/><rect x="1132.5" y="261.3" width="29.1" height="28.9" fill="rgb(158,158,158)"/><rect x="762.5" y="289.6" width="29.1" height="28.9" fill="rgb(76,76,76)"/><rect x="791.0" y="289.6" width="29.1" height="28.9" fill="rgb(76,76,76)"/><rect x="819.5" y="289.6" width="29.1" height="28.9" fill="rgb(115,115,115)"/><rect x="847.9" y="289.6" width="29.1" height="28.9" fill="rgb(153,153,153)"/><rect x="876.4" y="289.6" width="29.1" height="28.9" fill="rgb(115,115,115)"/><rect x="904.8" y="289.6" width="29.1" height="28.9" fill="rgb(97,97,97)"/><rect x="933.3" y="289.6" width="29.1" height="28.9" fill="rgb(76,76,76)"/><rect x="961.8" y="289.6" width="29.1" height="28.9" fill="rgb(115,115,115)"/><rect x="990.2" y="289.6" width="29.1" height="28.9" fill="rgb(173,173,173)"/><rect x="1018.7" y="289.6" width="29.1" height="28.9" fill="rgb(76,76,76)"/><rect x="1047.1" y="289.6" width="29.1" height="28.9" fill="rgb(107,107,107)"/><rect x="1075.6" y="289.6" width="29.1" height="28.9" fill="rgb(89,89,89)"/><rect x="1104.0" y="289.6" width="29.1" height="28.9" fill="rgb(140,140,140)"/><rect x="1132.5" y="289.6" width="29.1" height="28.9" fill="rgb(140,140,140)"/><rect x="762.5" y="317.9" width="29.1" height="28.9" fill="rgb(56,56,56)"/><rect x="791.0" y="317.9" width="29.1" height="28.9" fill="rgb(56,56,56)"/><rect x="819.5" y="317.9" width="29.1" height="28.9" fill="rgb(76,76,76)"/><rect x="847.9" y="317.9" width="29.1" height="28.9" fill="rgb(107,107,107)"/><rect x="876.4" y="317.9" width="29.1" height="28.9" fill="rgb(166,166,166)"/><rect x="904.8" y="317.9" width="29.1" height="28.9" fill="rgb(128,128,128)"/><rect x="933.3" y="317.9" width="29.1" height="28.9" fill="rgb(107,107,107)"/><rect x="961.8" y="317.9" width="29.1" height="28.9" fill="rgb(76,76,76)"/><rect x="990.2" y="317.9" width="29.1" height="28.9" fill="rgb(166,166,166)"/><rect x="1018.7" y="317.9" width="29.1" height="28.9" fill="rgb(56,56,56)"/><rect x="1047.1" y="317.9" width="29.1" height="28.9" fill="rgb(76,76,76)"/><rect x="1075.6" y="317.9" width="29.1" height="28.9" fill="rgb(115,115,115)"/><rect x="1104.0" y="317.9" width="29.1" height="28.9" fill="rgb(148,148,148)"/><rect x="1132.5" y="317.9" width="29.1" height="28.9" fill="rgb(148,148,148)"/><rect x="762.5" y="346.2" width="29.1" height="28.9" fill="rgb(64,64,64)"/><rect x="791.0" y="346.2" width="29.1" height="28.9" fill="rgb(64,64,64)"/><rect x="819.5" y="346.2" width="29.1" height="28.9" fill="rgb(102,102,102)"/><rect x="847.9" y="346.2" width="29.1" height="28.9" fill="rgb(107,107,107)"/><rect x="876.4" y="346.2" width="29.1" height="28.9" fill="rgb(128,128,128)"/><rect x="904.8" y="346.2" width="29.1" height="28.9" fill="rgb(184,184,184)"/><rect x="933.3" y="346.2" width="29.1" height="28.9" fill="rgb(178,178,178)"/><rect x="961.8" y="346.2" width="29.1" height="28.9" fill="rgb(153,153,153)"/><rect x="990.2" y="346.2" width="29.1" height="28.9" fill="rgb(102,102,102)"/><rect x="1018.7" y="346.2" width="29.1" height="28.9" fill="rgb(64,64,64)"/><rect x="1047.1" y="346.2" width="29.1" height="28.9" fill="rgb(76,76,76)"/><rect x="1075.6" y="346.2" width="29.1" height="28.9" fill="rgb(102,102,102)"/><rect x="1104.0" y="346.2" width="29.1" height="28.9" fill="rgb(97,97,97)"/><rect x="1132.5" y="346.2" width="29.1" height="28.9" fill="rgb(97,97,97)"/><rect x="762.5" y="374.5" width="29.1" height="28.9" fill="rgb(64,64,64)"/><rect x="791.0" y="374.5" width="29.1" height="28.9" fill="rgb(64,64,64)"/><rect x="819.5" y="374.5" width="29.1" height="28.9" fill="rgb(102,102,102)"/><rect x="847.9" y="374.5" width="29.1" height="28.9" fill="rgb(107,107,107)"/><rect x="876.4" y="374.5" width="29.1" height="28.9" fill="rgb(128,128,128)"/><rect x="904.8" y="374.5" width="29.1" height="28.9" fill="rgb(184,184,184)"/><rect x="933.3" y="374.5" width="29.1" height="28.9" fill="rgb(178,178,178)"/><rect x="961.8" y="374.5" width="29.1" height="28.9" fill="rgb(153,153,153)"/><rect x="990.2" y="374.5" width="29.1" height="28.9" fill="rgb(102,102,102)"/><rect x="1018.7" y="374.5" width="29.1" height="28.9" fill="rgb(64,64,64)"/><rect x="1047.1" y="374.5" width="29.1" height="28.9" fill="rgb(76,76,76)"/><rect x="1075.6" y="374.5" width="29.1" height="28.9" fill="rgb(102,102,102)"/><rect x="1104.0" y="374.5" width="29.1" height="28.9" fill="rgb(97,97,97)"/><rect x="1132.5" y="374.5" width="29.1" height="28.9" fill="rgb(97,97,97)"/></g></g>
<g clip-path="url(#afmc_clip)"><g filter="url(#afmc)"><rect x="1394.5" y="6.4" width="29.1" height="28.9" fill="rgb(156,156,156)"/><rect x="1423.0" y="6.4" width="29.1" height="28.9" fill="rgb(156,156,156)"/><rect x="1451.5" y="6.4" width="29.1" height="28.9" fill="rgb(135,135,135)"/><rect x="1479.9" y="6.4" width="29.1" height="28.9" fill="rgb(125,125,125)"/><rect x="1508.4" y="6.4" width="29.1" height="28.9" fill="rgb(143,143,143)"/><rect x="1536.8" y="6.4" width="29.1" height="28.9" fill="rgb(46,46,46)"/><rect x="1565.3" y="6.4" width="29.1" height="28.9" fill="rgb(51,51,51)"/><rect x="1593.8" y="6.4" width="29.1" height="28.9" fill="rgb(111,111,111)"/><rect x="1622.2" y="6.4" width="29.1" height="28.9" fill="rgb(130,130,130)"/><rect x="1650.7" y="6.4" width="29.1" height="28.9" fill="rgb(130,130,130)"/><rect x="1679.1" y="6.4" width="29.1" height="28.9" fill="rgb(130,130,130)"/><rect x="1707.6" y="6.4" width="29.1" height="28.9" fill="rgb(130,130,130)"/><rect x="1736.0" y="6.4" width="29.1" height="28.9" fill="rgb(130,130,130)"/><rect x="1764.5" y="6.4" width="29.1" height="28.9" fill="rgb(130,130,130)"/><rect x="1394.5" y="34.7" width="29.1" height="28.9" fill="rgb(156,156,156)"/><rect x="1423.0" y="34.7" width="29.1" height="28.9" fill="rgb(156,156,156)"/><rect x="1451.5" y="34.7" width="29.1" height="28.9" fill="rgb(135,135,135)"/><rect x="1479.9" y="34.7" width="29.1" height="28.9" fill="rgb(125,125,125)"/><rect x="1508.4" y="34.7" width="29.1" height="28.9" fill="rgb(143,143,143)"/><rect x="1536.8" y="34.7" width="29.1" height="28.9" fill="rgb(46,46,46)"/><rect x="1565.3" y="34.7" width="29.1" height="28.9" fill="rgb(51,51,51)"/><rect x="1593.8" y="34.7" width="29.1" height="28.9" fill="rgb(111,111,111)"/><rect x="1622.2" y="34.7" width="29.1" height="28.9" fill="rgb(130,130,130)"/><rect x="1650.7" y="34.7" width="29.1" height="28.9" fill="rgb(130,130,130)"/><rect x="1679.1" y="34.7" width="29.1" height="28.9" fill="rgb(130,130,130)"/><rect x="1707.6" y="34.7" width="29.1" height="28.9" fill="rgb(130,130,130)"/><rect x="1736.0" y="34.7" width="29.1" height="28.9" fill="rgb(130,130,130)"/><rect x="1764.5" y="34.7" width="29.1" height="28.9" fill="rgb(130,130,130)"/><rect x="1394.5" y="63.0" width="29.1" height="28.9" fill="rgb(135,135,135)"/><rect x="1423.0" y="63.0" width="29.1" height="28.9" fill="rgb(135,135,135)"/><rect x="1451.5" y="63.0" width="29.1" height="28.9" fill="rgb(125,125,125)"/><rect x="1479.9" y="63.0" width="29.1" height="28.9" fill="rgb(110,110,110)"/><rect x="1508.4" y="63.0" width="29.1" height="28.9" fill="rgb(110,110,110)"/><rect x="1536.8" y="63.0" width="29.1" height="28.9" fill="rgb(111,111,111)"/><rect x="1565.3" y="63.0" width="29.1" height="28.9" fill="rgb(117,117,117)"/><rect x="1593.8" y="63.0" width="29.1" height="28.9" fill="rgb(125,125,125)"/><rect x="1622.2" y="63.0" width="29.1" height="28.9" fill="rgb(130,130,130)"/><rect x="1650.7" y="63.0" width="29.1" height="28.9" fill="rgb(130,130,130)"/><rect x="1679.1" y="63.0" width="29.1" height="28.9" fill="rgb(98,98,98)"/><rect x="1707.6" y="63.0" width="29.1" height="28.9" fill="rgb(110,110,110)"/><rect x="1736.0" y="63.0" width="29.1" height="28.9" fill="rgb(143,143,143)"/><rect x="1764.5" y="63.0" width="29.1" height="28.9" fill="rgb(143,143,143)"/><rect x="1394.5" y="91.3" width="29.1" height="28.9" fill="rgb(110,110,110)"/><rect x="1423.0" y="91.3" width="29.1" height="28.9" fill="rgb(110,110,110)"/><rect x="1451.5" y="91.3" width="29.1" height="28.9" fill="rgb(130,130,130)"/><rect x="1479.9" y="91.3" width="29.1" height="28.9" fill="rgb(117,117,117)"/><rect x="1508.4" y="91.3" width="29.1" height="28.9" fill="rgb(111,111,111)"/><rect x="1536.8" y="91.3" width="29.1" height="28.9" fill="rgb(101,101,101)"/><rect x="1565.3" y="91.3" width="29.1" height="28.9" fill="rgb(110,110,110)"/><rect x="1593.8" y="91.3" width="29.1" height="28.9" fill="rgb(125,125,125)"/><rect x="1622.2" y="91.3" width="29.1" height="28.9" fill="rgb(130,130,130)"/><rect x="1650.7" y="91.3" width="29.1" height="28.9" fill="rgb(125,125,125)"/><rect x="1679.1" y="91.3" width="29.1" height="28.9" fill="rgb(93,93,93)"/><rect x="1707.6" y="91.3" width="29.1" height="28.9" fill="rgb(106,106,106)"/><rect x="1736.0" y="91.3" width="29.1" height="28.9" fill="rgb(117,117,117)"/><rect x="1764.5" y="91.3" width="29.1" height="28.9" fill="rgb(117,117,117)"/><rect x="1394.5" y="119.6" width="29.1" height="28.9" fill="rgb(117,117,117)"/><rect x="1423.0" y="119.6" width="29.1" height="28.9" fill="rgb(117,117,117)"/><rect x="1451.5" y="119.6" width="29.1" height="28.9" fill="rgb(143,143,143)"/><rect x="1479.9" y="119.6" width="29.1" height="28.9" fill="rgb(122,122,122)"/><rect x="1508.4" y="119.6" width="29.1" height="28.9" fill="rgb(106,106,106)"/><rect x="1536.8" y="119.6" width="29.1" height="28.9" fill="rgb(93,93,93)"/><rect x="1565.3" y="119.6" width="29.1" height="28.9" fill="rgb(117,117,117)"/><rect x="1593.8" y="119.6" width="29.1" height="28.9" fill="rgb(130,130,130)"/><rect x="1622.2" y="119.6" width="29.1" height="28.9" fill="rgb(125,125,125)"/><rect x="1650.7" y="119.6" width="29.1" height="28.9" fill="rgb(130,130,130)"/><rect x="1679.1" y="119.6" width="29.1" height="28.9" fill="rgb(122,122,122)"/><rect x="1707.6" y="119.6" width="29.1" height="28.9" fill="rgb(106,106,106)"/><rect x="1736.0" y="119.6" width="29.1" height="28.9" fill="rgb(168,168,168)"/><rect x="1764.5" y="119.6" width="29.1" height="28.9" fill="rgb(168,168,168)"/><rect x="1394.5" y="147.9" width="29.1" height="28.9" fill="rgb(110,110,110)"/><rect x="1423.0" y="147.9" width="29.1" height="28.9" fill="rgb(110,110,110)"/><rect x="1451.5" y="147.9" width="29.1" height="28.9" fill="rgb(135,135,135)"/><rect x="1479.9" y="147.9" width="29.1" height="28.9" fill="rgb(117,117,117)"/><rect x="1508.4" y="147.9" width="29.1" height="28.9" fill="rgb(143,143,143)"/><rect x="1536.8" y="147.9" width="29.1" height="28.9" fill="rgb(125,125,125)"/><rect x="1565.3" y="147.9" width="29.1" height="28.9" fill="rgb(117,117,117)"/><rect x="1593.8" y="147.9" width="29.1" height="28.9" fill="rgb(111,111,111)"/><rect x="1622.2" y="147.9" width="29.1" height="28.9" fill="rgb(143,143,143)"/><rect x="1650.7" y="147.9" width="29.1" height="28.9" fill="rgb(122,122,122)"/><rect x="1679.1" y="147.9" width="29.1" height="28.9" fill="rgb(117,117,117)"/><rect x="1707.6" y="147.9" width="29.1" height="28.9" fill="rgb(130,130,130)"/><rect x="1736.0" y="147.9" width="29.1" height="28.9" fill="rgb(150,150,150)"/><rect x="1764.5" y="147.9" width="29.1" height="28.9" fill="rgb(150,150,150)"/><rect x="1394.5" y="176.2" width="29.1" height="28.9" fill="rgb(117,117,117)"/><rect x="1423.0" y="176.2" width="29.1" height="28.9" fill="rgb(117,117,117)"/><rect x="1451.5" y="176.2" width="29.1" height="28.9" fill="rgb(110,110,110)"/><rect x="1479.9" y="176.2" width="29.1" height="28.9" fill="rgb(117,117,117)"/><rect x="1508.4" y="176.2" width="29.1" height="28.9" fill="rgb(111,111,111)"/><rect x="1536.8" y="176.2" width="29.1" height="28.9" fill="rgb(117,117,117)"/><rect x="1565.3" y="176.2" width="29.1" height="28.9" fill="rgb(130,130,130)"/><rect x="1593.8" y="176.2" width="29.1" height="28.9" fill="rgb(117,117,117)"/><rect x="1622.2" y="176.2" width="29.1" height="28.9" fill="rgb(143,143,143)"/><rect x="1650.7" y="176.2" width="29.1" height="28.9" fill="rgb(130,130,130)"/><rect x="1679.1" y="176.2" width="29.1" height="28.9" fill="rgb(135,135,135)"/><rect x="1707.6" y="176.2" width="29.1" height="28.9" fill="rgb(106,106,106)"/><rect x="1736.0" y="176.2" width="29.1" height="28.9" fill="rgb(106,106,106)"/><rect x="1764.5" y="176.2" width="29.1" height="28.9" fill="rgb(106,106,106)"/><rect x="1394.5" y="204.6" width="29.1" height="28.9" fill="rgb(128,128,128)"/><rect x="1423.0" y="204.6" width="29.1" height="28.9" fill="rgb(128,128,128)"/><rect x="1451.5" y="204.6" width="29.1" height="28.9" fill="rgb(115,115,115)"/><rect x="1479.9" y="204.6" width="29.1" height="28.9" fill="rgb(82,82,82)"/><rect x="1508.4" y="204.6" width="29.1" height="28.9" fill="rgb(107,107,107)"/><rect x="1536.8" y="204.6" width="29.1" height="28.9" fill="rgb(153,153,153)"/><rect x="1565.3" y="204.6" width="29.1" height="28.9" fill="rgb(153,153,153)"/><rect x="1593.8" y="204.6" width="29.1" height="28.9" fill="rgb(133,133,133)"/><rect x="1622.2" y="204.6" width="29.1" height="28.9" fill="rgb(107,107,107)"/><rect x="1650.7" y="204.6" width="29.1" height="28.9" fill="rgb(140,140,140)"/><rect x="1679.1" y="204.6" width="29.1" height="28.9" fill="rgb(115,115,115)"/><rect x="1707.6" y="204.6" width="29.1" height="28.9" fill="rgb(97,97,97)"/><rect x="1736.0" y="204.6" width="29.1" height="28.9" fill="rgb(89,89,89)"/><rect x="1764.5" y="204.6" width="29.1" height="28.9" fill="rgb(89,89,89)"/><rect x="1394.5" y="232.9" width="29.1" height="28.9" fill="rgb(97,97,97)"/><rect x="1423.0" y="232.9" width="29.1" height="28.9" fill="rgb(97,97,97)"/><rect x="1451.5" y="232.9" width="29.1" height="28.9" fill="rgb(107,107,107)"/><rect x="1479.9" y="232.9" width="29.1" height="28.9" fill="rgb(76,76,76)"/><rect x="1508.4" y="232.9" width="29.1" height="28.9" fill="rgb(115,115,115)"/><rect x="1536.8" y="232.9" width="29.1" height="28.9" fill="rgb(166,166,166)"/><rect x="1565.3" y="232.9" width="29.1" height="28.9" fill="rgb(153,153,153)"/><rect x="1593.8" y="232.9" width="29.1" height="28.9" fill="rgb(153,153,153)"/><rect x="1622.2" y="232.9" width="29.1" height="28.9" fill="rgb(133,133,133)"/><rect x="1650.7" y="232.9" width="29.1" height="28.9" fill="rgb(148,148,148)"/><rect x="1679.1" y="232.9" width="29.1" height="28.9" fill="rgb(76,76,76)"/><rect x="1707.6" y="232.9" width="29.1" height="28.9" fill="rgb(76,76,76)"/><rect x="1736.0" y="232.9" width="29.1" height="28.9" fill="rgb(89,89,89)"/><rect x="1764.5" y="232.9" width="29.1" height="28.9" fill="rgb(89,89,89)"/><rect x="1394.5" y="261.2" width="29.1" height="28.9" fill="rgb(107,107,107)"/><rect x="1423.0" y="261.2" width="29.1" height="28.9" fill="rgb(107,107,107)"/><rect x="1451.5" y="261.2" width="29.1" height="28.9" fill="rgb(115,115,115)"/><rect x="1479.9" y="261.2" width="29.1" height="28.9" fill="rgb(102,102,102)"/><rect x="1508.4" y="261.2" width="29.1" height="28.9" fill="rgb(115,115,115)"/><rect x="1536.8" y="261.2" width="29.1" height="28.9" fill="rgb(133,133,133)"/><rect x="1565.3" y="261.2" width="29.1" height="28.9" fill="rgb(102,102,102)"/><rect x="1593.8" y="261.2" width="29.1" height="28.9" fill="rgb(153,153,153)"/><rect x="1622.2" y="261.2" width="29.1" height="28.9" fill="rgb(178,178,178)"/><rect x="1650.7" y="261.2" width="29.1" height="28.9" fill="rgb(153,153,153)"/><rect x="1679.1" y="261.2" width="29.1" height="28.9" fill="rgb(76,76,76)"/><rect x="1707.6" y="261.2" width="29.1" height="28.9" fill="rgb(64,64,64)"/><rect x="1736.0" y="261.2" width="29.1" height="28.9" fill="rgb(115,115,115)"/><rect x="1764.5" y="261.2" width="29.1" height="28.9" fill="rgb(115,115,115)"/><rect x="1394.5" y="289.5" width="29.1" height="28.9" fill="rgb(133,133,133)"/><rect x="1423.0" y="289.5" width="29.1" height="28.9" fill="rgb(133,133,133)"/><rect x="1451.5" y="289.5" width="29.1" height="28.9" fill="rgb(128,128,128)"/><rect x="1479.9" y="289.5" width="29.1" height="28.9" fill="rgb(133,133,133)"/><rect x="1508.4" y="289.5" width="29.1" height="28.9" fill="rgb(107,107,107)"/><rect x="1536.8" y="289.5" width="29.1" height="28.9" fill="rgb(89,89,89)"/><rect x="1565.3" y="289.5" width="29.1" height="28.9" fill="rgb(115,115,115)"/><rect x="1593.8" y="289.5" width="29.1" height="28.9" fill="rgb(97,97,97)"/><rect x="1622.2" y="289.5" width="29.1" height="28.9" fill="rgb(178,178,178)"/><rect x="1650.7" y="289.5" width="29.1" height="28.9" fill="rgb(148,148,148)"/><rect x="1679.1" y="289.5" width="29.1" height="28.9" fill="rgb(76,76,76)"/><rect x="1707.6" y="289.5" width="29.1" height="28.9" fill="rgb(82,82,82)"/><rect x="1736.0" y="289.5" width="29.1" height="28.9" fill="rgb(140,140,140)"/><rect x="1764.5" y="289.5" width="29.1" height="28.9" fill="rgb(140,140,140)"/><rect x="1394.5" y="317.8" width="29.1" height="28.9" fill="rgb(140,140,140)"/><rect x="1423.0" y="317.8" width="29.1" height="28.9" fill="rgb(140,140,140)"/><rect x="1451.5" y="317.8" width="29.1" height="28.9" fill="rgb(153,153,153)"/><rect x="1479.9" y="317.8" width="29.1" height="28.9" fill="rgb(128,128,128)"/><rect x="1508.4" y="317.8" width="29.1" height="28.9" fill="rgb(89,89,89)"/><rect x="1536.8" y="317.8" width="29.1" height="28.9" fill="rgb(64,64,64)"/><rect x="1565.3" y="317.8" width="29.1" height="28.9" fill="rgb(56,56,56)"/><rect x="1593.8" y="317.8" width="29.1" height="28.9" fill="rgb(107,107,107)"/><rect x="1622.2" y="317.8" width="29.1" height="28.9" fill="rgb(173,173,173)"/><rect x="1650.7" y="317.8" width="29.1" height="28.9" fill="rgb(140,140,140)"/><rect x="1679.1" y="317.8" width="29.1" height="28.9" fill="rgb(64,64,64)"/><rect x="1707.6" y="317.8" width="29.1" height="28.9" fill="rgb(115,115,115)"/><rect x="1736.0" y="317.8" width="29.1" height="28.9" fill="rgb(153,153,153)"/><rect x="1764.5" y="317.8" width="29.1" height="28.9" fill="rgb(153,153,153)"/><rect x="1394.5" y="346.1" width="29.1" height="28.9" fill="rgb(173,173,173)"/><rect x="1423.0" y="346.1" width="29.1" height="28.9" fill="rgb(173,173,173)"/><rect x="1451.5" y="346.1" width="29.1" height="28.9" fill="rgb(153,153,153)"/><rect x="1479.9" y="346.1" width="29.1" height="28.9" fill="rgb(115,115,115)"/><rect x="1508.4" y="346.1" width="29.1" height="28.9" fill="rgb(82,82,82)"/><rect x="1536.8" y="346.1" width="29.1" height="28.9" fill="rgb(64,64,64)"/><rect x="1565.3" y="346.1" width="29.1" height="28.9" fill="rgb(76,76,76)"/><rect x="1593.8" y="346.1" width="29.1" height="28.9" fill="rgb(102,102,102)"/><rect x="1622.2" y="346.1" width="29.1" height="28.9" fill="rgb(133,133,133)"/><rect x="1650.7" y="346.1" width="29.1" height="28.9" fill="rgb(122,122,122)"/><rect x="1679.1" y="346.1" width="29.1" height="28.9" fill="rgb(89,89,89)"/><rect x="1707.6" y="346.1" width="29.1" height="28.9" fill="rgb(128,128,128)"/><rect x="1736.0" y="346.1" width="29.1" height="28.9" fill="rgb(115,115,115)"/><rect x="1764.5" y="346.1" width="29.1" height="28.9" fill="rgb(115,115,115)"/><rect x="1394.5" y="374.4" width="29.1" height="28.9" fill="rgb(173,173,173)"/><rect x="1423.0" y="374.4" width="29.1" height="28.9" fill="rgb(173,173,173)"/><rect x="1451.5" y="374.4" width="29.1" height="28.9" fill="rgb(153,153,153)"/><rect x="1479.9" y="374.4" width="29.1" height="28.9" fill="rgb(115,115,115)"/><rect x="1508.4" y="374.4" width="29.1" height="28.9" fill="rgb(82,82,82)"/><rect x="1536.8" y="374.4" width="29.1" height="28.9" fill="rgb(64,64,64)"/><rect x="1565.3" y="374.4" width="29.1" height="28.9" fill="rgb(76,76,76)"/><rect x="1593.8" y="374.4" width="29.1" height="28.9" fill="rgb(102,102,102)"/><rect x="1622.2" y="374.4" width="29.1" height="28.9" fill="rgb(133,133,133)"/><rect x="1650.7" y="374.4" width="29.1" height="28.9" fill="rgb(122,122,122)"/><rect x="1679.1" y="374.4" width="29.1" height="28.9" fill="rgb(89,89,89)"/><rect x="1707.6" y="374.4" width="29.1" height="28.9" fill="rgb(128,128,128)"/><rect x="1736.0" y="374.4" width="29.1" height="28.9" fill="rgb(115,115,115)"/><rect x="1764.5" y="374.4" width="29.1" height="28.9" fill="rgb(115,115,115)"/></g></g>
<g clip-path="url(#k0b_clip)"><g filter="url(#k0b)"><rect x="1116.0" y="13.6" width="21.6" height="21.6" fill="rgb(0,0,0)"/><rect x="1137.0" y="13.6" width="21.6" height="21.6" fill="rgb(0,0,0)"/><rect x="1158.0" y="13.6" width="21.6" height="21.6" fill="rgb(0,0,0)"/><rect x="1178.9" y="13.6" width="21.6" height="21.6" fill="rgb(10,10,10)"/><rect x="1199.9" y="13.6" width="21.6" height="21.6" fill="rgb(0,0,0)"/><rect x="1220.8" y="13.6" width="21.6" height="21.6" fill="rgb(133,133,133)"/><rect x="1241.8" y="13.6" width="21.6" height="21.6" fill="rgb(148,148,148)"/><rect x="1262.8" y="13.6" width="21.6" height="21.6" fill="rgb(194,194,194)"/><rect x="1283.7" y="13.6" width="21.6" height="21.6" fill="rgb(163,163,163)"/><rect x="1304.7" y="13.6" width="21.6" height="21.6" fill="rgb(163,163,163)"/><rect x="1116.0" y="34.6" width="21.6" height="21.6" fill="rgb(0,0,0)"/><rect x="1137.0" y="34.6" width="21.6" height="21.6" fill="rgb(0,0,0)"/><rect x="1158.0" y="34.6" width="21.6" height="21.6" fill="rgb(0,0,0)"/><rect x="1178.9" y="34.6" width="21.6" height="21.6" fill="rgb(10,10,10)"/><rect x="1199.9" y="34.6" width="21.6" height="21.6" fill="rgb(0,0,0)"/><rect x="1220.8" y="34.6" width="21.6" height="21.6" fill="rgb(133,133,133)"/><rect x="1241.8" y="34.6" width="21.6" height="21.6" fill="rgb(148,148,148)"/><rect x="1262.8" y="34.6" width="21.6" height="21.6" fill="rgb(194,194,194)"/><rect x="1283.7" y="34.6" width="21.6" height="21.6" fill="rgb(163,163,163)"/><rect x="1304.7" y="34.6" width="21.6" height="21.6" fill="rgb(163,163,163)"/><rect x="1116.0" y="55.6" width="21.6" height="21.6" fill="rgb(0,0,0)"/><rect x="1137.0" y="55.6" width="21.6" height="21.6" fill="rgb(0,0,0)"/><rect x="1158.0" y="55.6" width="21.6" height="21.6" fill="rgb(56,56,56)"/><rect x="1178.9" y="55.6" width="21.6" height="21.6" fill="rgb(102,102,102)"/><rect x="1199.9" y="55.6" width="21.6" height="21.6" fill="rgb(41,41,41)"/><rect x="1220.8" y="55.6" width="21.6" height="21.6" fill="rgb(148,148,148)"/><rect x="1241.8" y="55.6" width="21.6" height="21.6" fill="rgb(87,87,87)"/><rect x="1262.8" y="55.6" width="21.6" height="21.6" fill="rgb(71,71,71)"/><rect x="1283.7" y="55.6" width="21.6" height="21.6" fill="rgb(56,56,56)"/><rect x="1304.7" y="55.6" width="21.6" height="21.6" fill="rgb(56,56,56)"/><rect x="1116.0" y="76.6" width="21.6" height="21.6" fill="rgb(26,26,26)"/><rect x="1137.0" y="76.6" width="21.6" height="21.6" fill="rgb(26,26,26)"/><rect x="1158.0" y="76.6" width="21.6" height="21.6" fill="rgb(148,148,148)"/><rect x="1178.9" y="76.6" width="21.6" height="21.6" fill="rgb(178,178,178)"/><rect x="1199.9" y="76.6" width="21.6" height="21.6" fill="rgb(178,178,178)"/><rect x="1220.8" y="76.6" width="21.6" height="21.6" fill="rgb(102,102,102)"/><rect x="1241.8" y="76.6" width="21.6" height="21.6" fill="rgb(148,148,148)"/><rect x="1262.8" y="76.6" width="21.6" height="21.6" fill="rgb(117,117,117)"/><rect x="1283.7" y="76.6" width="21.6" height="21.6" fill="rgb(26,26,26)"/><rect x="1304.7" y="76.6" width="21.6" height="21.6" fill="rgb(26,26,26)"/><rect x="1116.0" y="97.5" width="21.6" height="21.6" fill="rgb(26,26,26)"/><rect x="1137.0" y="97.5" width="21.6" height="21.6" fill="rgb(26,26,26)"/><rect x="1158.0" y="97.5" width="21.6" height="21.6" fill="rgb(133,133,133)"/><rect x="1178.9" y="97.5" width="21.6" height="21.6" fill="rgb(102,102,102)"/><rect x="1199.9" y="97.5" width="21.6" height="21.6" fill="rgb(117,117,117)"/><rect x="1220.8" y="97.5" width="21.6" height="21.6" fill="rgb(148,148,148)"/><rect x="1241.8" y="97.5" width="21.6" height="21.6" fill="rgb(178,178,178)"/><rect x="1262.8" y="97.5" width="21.6" height="21.6" fill="rgb(148,148,148)"/><rect x="1283.7" y="97.5" width="21.6" height="21.6" fill="rgb(117,117,117)"/><rect x="1304.7" y="97.5" width="21.6" height="21.6" fill="rgb(117,117,117)"/><rect x="1116.0" y="118.5" width="21.6" height="21.6" fill="rgb(71,71,71)"/><rect x="1137.0" y="118.5" width="21.6" height="21.6" fill="rgb(71,71,71)"/><rect x="1158.0" y="118.5" width="21.6" height="21.6" fill="rgb(71,71,71)"/><rect x="1178.9" y="118.5" width="21.6" height="21.6" fill="rgb(71,71,71)"/><rect x="1199.9" y="118.5" width="21.6" height="21.6" fill="rgb(87,87,87)"/><rect x="1220.8" y="118.5" width="21.6" height="21.6" fill="rgb(102,102,102)"/><rect x="1241.8" y="118.5" width="21.6" height="21.6" fill="rgb(117,117,117)"/><rect x="1262.8" y="118.5" width="21.6" height="21.6" fill="rgb(133,133,133)"/><rect x="1283.7" y="118.5" width="21.6" height="21.6" fill="rgb(133,133,133)"/><rect x="1304.7" y="118.5" width="21.6" height="21.6" fill="rgb(133,133,133)"/><rect x="1116.0" y="139.5" width="21.6" height="21.6" fill="rgb(133,133,133)"/><rect x="1137.0" y="139.5" width="21.6" height="21.6" fill="rgb(133,133,133)"/><rect x="1158.0" y="139.5" width="21.6" height="21.6" fill="rgb(133,133,133)"/><rect x="1178.9" y="139.5" width="21.6" height="21.6" fill="rgb(71,71,71)"/><rect x="1199.9" y="139.5" width="21.6" height="21.6" fill="rgb(56,56,56)"/><rect x="1220.8" y="139.5" width="21.6" height="21.6" fill="rgb(133,133,133)"/><rect x="1241.8" y="139.5" width="21.6" height="21.6" fill="rgb(148,148,148)"/><rect x="1262.8" y="139.5" width="21.6" height="21.6" fill="rgb(117,117,117)"/><rect x="1283.7" y="139.5" width="21.6" height="21.6" fill="rgb(87,87,87)"/><rect x="1304.7" y="139.5" width="21.6" height="21.6" fill="rgb(87,87,87)"/><rect x="1116.0" y="160.5" width="21.6" height="21.6" fill="rgb(148,148,148)"/><rect x="1137.0" y="160.5" width="21.6" height="21.6" fill="rgb(148,148,148)"/><rect x="1158.0" y="160.5" width="21.6" height="21.6" fill="rgb(148,148,148)"/><rect x="1178.9" y="160.5" width="21.6" height="21.6" fill="rgb(209,209,209)"/><rect x="1199.9" y="160.5" width="21.6" height="21.6" fill="rgb(87,87,87)"/><rect x="1220.8" y="160.5" width="21.6" height="21.6" fill="rgb(117,117,117)"/><rect x="1241.8" y="160.5" width="21.6" height="21.6" fill="rgb(133,133,133)"/><rect x="1262.8" y="160.5" width="21.6" height="21.6" fill="rgb(148,148,148)"/><rect x="1283.7" y="160.5" width="21.6" height="21.6" fill="rgb(148,148,148)"/><rect x="1304.7" y="160.5" width="21.6" height="21.6" fill="rgb(148,148,148)"/><rect x="1116.0" y="181.4" width="21.6" height="21.6" fill="rgb(133,133,133)"/><rect x="1137.0" y="181.4" width="21.6" height="21.6" fill="rgb(133,133,133)"/><rect x="1158.0" y="181.4" width="21.6" height="21.6" fill="rgb(71,71,71)"/><rect x="1178.9" y="181.4" width="21.6" height="21.6" fill="rgb(56,56,56)"/><rect x="1199.9" y="181.4" width="21.6" height="21.6" fill="rgb(148,148,148)"/><rect x="1220.8" y="181.4" width="21.6" height="21.6" fill="rgb(148,148,148)"/><rect x="1241.8" y="181.4" width="21.6" height="21.6" fill="rgb(117,117,117)"/><rect x="1262.8" y="181.4" width="21.6" height="21.6" fill="rgb(148,148,148)"/><rect x="1283.7" y="181.4" width="21.6" height="21.6" fill="rgb(163,163,163)"/><rect x="1304.7" y="181.4" width="21.6" height="21.6" fill="rgb(163,163,163)"/><rect x="1116.0" y="202.4" width="21.6" height="21.6" fill="rgb(133,133,133)"/><rect x="1137.0" y="202.4" width="21.6" height="21.6" fill="rgb(133,133,133)"/><rect x="1158.0" y="202.4" width="21.6" height="21.6" fill="rgb(71,71,71)"/><rect x="1178.9" y="202.4" width="21.6" height="21.6" fill="rgb(56,56,56)"/><rect x="1199.9" y="202.4" width="21.6" height="21.6" fill="rgb(148,148,148)"/><rect x="1220.8" y="202.4" width="21.6" height="21.6" fill="rgb(148,148,148)"/><rect x="1241.8" y="202.4" width="21.6" height="21.6" fill="rgb(117,117,117)"/><rect x="1262.8" y="202.4" width="21.6" height="21.6" fill="rgb(148,148,148)"/><rect x="1283.7" y="202.4" width="21.6" height="21.6" fill="rgb(163,163,163)"/><rect x="1304.7" y="202.4" width="21.6" height="21.6" fill="rgb(163,163,163)"/></g></g>
<g clip-path="url(#k3b_clip)"><g filter="url(#k3b)"><rect x="1116.0" y="187.4" width="21.6" height="21.4" fill="rgb(56,56,56)"/><rect x="1137.0" y="187.4" width="21.6" height="21.4" fill="rgb(56,56,56)"/><rect x="1158.0" y="187.4" width="21.6" height="21.4" fill="rgb(71,71,71)"/><rect x="1178.9" y="187.4" width="21.6" height="21.4" fill="rgb(41,41,41)"/><rect x="1199.9" y="187.4" width="21.6" height="21.4" fill="rgb(26,26,26)"/><rect x="1220.8" y="187.4" width="21.6" height="21.4" fill="rgb(71,71,71)"/><rect x="1241.8" y="187.4" width="21.6" height="21.4" fill="rgb(117,117,117)"/><rect x="1262.8" y="187.4" width="21.6" height="21.4" fill="rgb(148,148,148)"/><rect x="1283.7" y="187.4" width="21.6" height="21.4" fill="rgb(133,133,133)"/><rect x="1304.7" y="187.4" width="21.6" height="21.4" fill="rgb(133,133,133)"/><rect x="1116.0" y="208.2" width="21.6" height="21.4" fill="rgb(56,56,56)"/><rect x="1137.0" y="208.2" width="21.6" height="21.4" fill="rgb(56,56,56)"/><rect x="1158.0" y="208.2" width="21.6" height="21.4" fill="rgb(71,71,71)"/><rect x="1178.9" y="208.2" width="21.6" height="21.4" fill="rgb(41,41,41)"/><rect x="1199.9" y="208.2" width="21.6" height="21.4" fill="rgb(26,26,26)"/><rect x="1220.8" y="208.2" width="21.6" height="21.4" fill="rgb(71,71,71)"/><rect x="1241.8" y="208.2" width="21.6" height="21.4" fill="rgb(117,117,117)"/><rect x="1262.8" y="208.2" width="21.6" height="21.4" fill="rgb(148,148,148)"/><rect x="1283.7" y="208.2" width="21.6" height="21.4" fill="rgb(133,133,133)"/><rect x="1304.7" y="208.2" width="21.6" height="21.4" fill="rgb(133,133,133)"/><rect x="1116.0" y="229.0" width="21.6" height="21.4" fill="rgb(71,71,71)"/><rect x="1137.0" y="229.0" width="21.6" height="21.4" fill="rgb(71,71,71)"/><rect x="1158.0" y="229.0" width="21.6" height="21.4" fill="rgb(117,117,117)"/><rect x="1178.9" y="229.0" width="21.6" height="21.4" fill="rgb(148,148,148)"/><rect x="1199.9" y="229.0" width="21.6" height="21.4" fill="rgb(102,102,102)"/><rect x="1220.8" y="229.0" width="21.6" height="21.4" fill="rgb(133,133,133)"/><rect x="1241.8" y="229.0" width="21.6" height="21.4" fill="rgb(87,87,87)"/><rect x="1262.8" y="229.0" width="21.6" height="21.4" fill="rgb(56,56,56)"/><rect x="1283.7" y="229.0" width="21.6" height="21.4" fill="rgb(87,87,87)"/><rect x="1304.7" y="229.0" width="21.6" height="21.4" fill="rgb(87,87,87)"/><rect x="1116.0" y="249.8" width="21.6" height="21.4" fill="rgb(56,56,56)"/><rect x="1137.0" y="249.8" width="21.6" height="21.4" fill="rgb(56,56,56)"/><rect x="1158.0" y="249.8" width="21.6" height="21.4" fill="rgb(133,133,133)"/><rect x="1178.9" y="249.8" width="21.6" height="21.4" fill="rgb(163,163,163)"/><rect x="1199.9" y="249.8" width="21.6" height="21.4" fill="rgb(178,178,178)"/><rect x="1220.8" y="249.8" width="21.6" height="21.4" fill="rgb(148,148,148)"/><rect x="1241.8" y="249.8" width="21.6" height="21.4" fill="rgb(194,194,194)"/><rect x="1262.8" y="249.8" width="21.6" height="21.4" fill="rgb(148,148,148)"/><rect x="1283.7" y="249.8" width="21.6" height="21.4" fill="rgb(87,87,87)"/><rect x="1304.7" y="249.8" width="21.6" height="21.4" fill="rgb(87,87,87)"/><rect x="1116.0" y="270.6" width="21.6" height="21.4" fill="rgb(71,71,71)"/><rect x="1137.0" y="270.6" width="21.6" height="21.4" fill="rgb(71,71,71)"/><rect x="1158.0" y="270.6" width="21.6" height="21.4" fill="rgb(102,102,102)"/><rect x="1178.9" y="270.6" width="21.6" height="21.4" fill="rgb(87,87,87)"/><rect x="1199.9" y="270.6" width="21.6" height="21.4" fill="rgb(148,148,148)"/><rect x="1220.8" y="270.6" width="21.6" height="21.4" fill="rgb(148,148,148)"/><rect x="1241.8" y="270.6" width="21.6" height="21.4" fill="rgb(133,133,133)"/><rect x="1262.8" y="270.6" width="21.6" height="21.4" fill="rgb(148,148,148)"/><rect x="1283.7" y="270.6" width="21.6" height="21.4" fill="rgb(133,133,133)"/><rect x="1304.7" y="270.6" width="21.6" height="21.4" fill="rgb(133,133,133)"/><rect x="1116.0" y="291.4" width="21.6" height="21.4" fill="rgb(133,133,133)"/><rect x="1137.0" y="291.4" width="21.6" height="21.4" fill="rgb(133,133,133)"/><rect x="1158.0" y="291.4" width="21.6" height="21.4" fill="rgb(41,41,41)"/><rect x="1178.9" y="291.4" width="21.6" height="21.4" fill="rgb(0,0,0)"/><rect x="1199.9" y="291.4" width="21.6" height="21.4" fill="rgb(102,102,102)"/><rect x="1220.8" y="291.4" width="21.6" height="21.4" fill="rgb(133,133,133)"/><rect x="1241.8" y="291.4" width="21.6" height="21.4" fill="rgb(117,117,117)"/><rect x="1262.8" y="291.4" width="21.6" height="21.4" fill="rgb(148,148,148)"/><rect x="1283.7" y="291.4" width="21.6" height="21.4" fill="rgb(148,148,148)"/><rect x="1304.7" y="291.4" width="21.6" height="21.4" fill="rgb(148,148,148)"/><rect x="1116.0" y="312.3" width="21.6" height="21.4" fill="rgb(148,148,148)"/><rect x="1137.0" y="312.3" width="21.6" height="21.4" fill="rgb(148,148,148)"/><rect x="1158.0" y="312.3" width="21.6" height="21.4" fill="rgb(163,163,163)"/><rect x="1178.9" y="312.3" width="21.6" height="21.4" fill="rgb(87,87,87)"/><rect x="1199.9" y="312.3" width="21.6" height="21.4" fill="rgb(133,133,133)"/><rect x="1220.8" y="312.3" width="21.6" height="21.4" fill="rgb(148,148,148)"/><rect x="1241.8" y="312.3" width="21.6" height="21.4" fill="rgb(133,133,133)"/><rect x="1262.8" y="312.3" width="21.6" height="21.4" fill="rgb(117,117,117)"/><rect x="1283.7" y="312.3" width="21.6" height="21.4" fill="rgb(71,71,71)"/><rect x="1304.7" y="312.3" width="21.6" height="21.4" fill="rgb(71,71,71)"/><rect x="1116.0" y="333.1" width="21.6" height="21.4" fill="rgb(133,133,133)"/><rect x="1137.0" y="333.1" width="21.6" height="21.4" fill="rgb(133,133,133)"/><rect x="1158.0" y="333.1" width="21.6" height="21.4" fill="rgb(102,102,102)"/><rect x="1178.9" y="333.1" width="21.6" height="21.4" fill="rgb(56,56,56)"/><rect x="1199.9" y="333.1" width="21.6" height="21.4" fill="rgb(71,71,71)"/><rect x="1220.8" y="333.1" width="21.6" height="21.4" fill="rgb(117,117,117)"/><rect x="1241.8" y="333.1" width="21.6" height="21.4" fill="rgb(133,133,133)"/><rect x="1262.8" y="333.1" width="21.6" height="21.4" fill="rgb(163,163,163)"/><rect x="1283.7" y="333.1" width="21.6" height="21.4" fill="rgb(71,71,71)"/><rect x="1304.7" y="333.1" width="21.6" height="21.4" fill="rgb(71,71,71)"/><rect x="1116.0" y="353.9" width="21.6" height="21.4" fill="rgb(87,87,87)"/><rect x="1137.0" y="353.9" width="21.6" height="21.4" fill="rgb(87,87,87)"/><rect x="1158.0" y="353.9" width="21.6" height="21.4" fill="rgb(117,117,117)"/><rect x="1178.9" y="353.9" width="21.6" height="21.4" fill="rgb(133,133,133)"/><rect x="1199.9" y="353.9" width="21.6" height="21.4" fill="rgb(117,117,117)"/><rect x="1220.8" y="353.9" width="21.6" height="21.4" fill="rgb(102,102,102)"/><rect x="1241.8" y="353.9" width="21.6" height="21.4" fill="rgb(148,148,148)"/><rect x="1262.8" y="353.9" width="21.6" height="21.4" fill="rgb(163,163,163)"/><rect x="1283.7" y="353.9" width="21.6" height="21.4" fill="rgb(117,117,117)"/><rect x="1304.7" y="353.9" width="21.6" height="21.4" fill="rgb(117,117,117)"/><rect x="1116.0" y="374.7" width="21.6" height="21.4" fill="rgb(87,87,87)"/><rect x="1137.0" y="374.7" width="21.6" height="21.4" fill="rgb(87,87,87)"/><rect x="1158.0" y="374.7" width="21.6" height="21.4" fill="rgb(117,117,117)"/><rect x="1178.9" y="374.7" width="21.6" height="21.4" fill="rgb(133,133,133)"/><rect x="1199.9" y="374.7" width="21.6" height="21.4" fill="rgb(117,117,117)"/><rect x="1220.8" y="374.7" width="21.6" height="21.4" fill="rgb(102,102,102)"/><rect x="1241.8" y="374.7" width="21.6" height="21.4" fill="rgb(148,148,148)"/><rect x="1262.8" y="374.7" width="21.6" height="21.4" fill="rgb(163,163,163)"/><rect x="1283.7" y="374.7" width="21.6" height="21.4" fill="rgb(117,117,117)"/><rect x="1304.7" y="374.7" width="21.6" height="21.4" fill="rgb(117,117,117)"/></g></g>
<g clip-path="url(#k0c_clip)"><g filter="url(#k0c)"><rect x="1748.5" y="13.3" width="21.4" height="21.6" fill="rgb(38,38,38)"/><rect x="1769.2" y="13.3" width="21.4" height="21.6" fill="rgb(38,38,38)"/><rect x="1790.0" y="13.3" width="21.4" height="21.6" fill="rgb(54,54,54)"/><rect x="1810.7" y="13.3" width="21.4" height="21.6" fill="rgb(8,8,8)"/><rect x="1831.5" y="13.3" width="21.4" height="21.6" fill="rgb(23,23,23)"/><rect x="1852.2" y="13.3" width="21.4" height="21.6" fill="rgb(69,69,69)"/><rect x="1873.0" y="13.3" width="21.4" height="21.6" fill="rgb(38,38,38)"/><rect x="1893.7" y="13.3" width="21.4" height="21.6" fill="rgb(8,8,8)"/><rect x="1914.5" y="13.3" width="21.4" height="21.6" fill="rgb(8,8,8)"/><rect x="1935.2" y="13.3" width="21.4" height="21.6" fill="rgb(8,8,8)"/><rect x="1748.5" y="34.2" width="21.4" height="21.6" fill="rgb(38,38,38)"/><rect x="1769.2" y="34.2" width="21.4" height="21.6" fill="rgb(38,38,38)"/><rect x="1790.0" y="34.2" width="21.4" height="21.6" fill="rgb(54,54,54)"/><rect x="1810.7" y="34.2" width="21.4" height="21.6" fill="rgb(8,8,8)"/><rect x="1831.5" y="34.2" width="21.4" height="21.6" fill="rgb(23,23,23)"/><rect x="1852.2" y="34.2" width="21.4" height="21.6" fill="rgb(69,69,69)"/><rect x="1873.0" y="34.2" width="21.4" height="21.6" fill="rgb(38,38,38)"/><rect x="1893.7" y="34.2" width="21.4" height="21.6" fill="rgb(8,8,8)"/><rect x="1914.5" y="34.2" width="21.4" height="21.6" fill="rgb(8,8,8)"/><rect x="1935.2" y="34.2" width="21.4" height="21.6" fill="rgb(8,8,8)"/><rect x="1748.5" y="55.2" width="21.4" height="21.6" fill="rgb(84,84,84)"/><rect x="1769.2" y="55.2" width="21.4" height="21.6" fill="rgb(84,84,84)"/><rect x="1790.0" y="55.2" width="21.4" height="21.6" fill="rgb(115,115,115)"/><rect x="1810.7" y="55.2" width="21.4" height="21.6" fill="rgb(145,145,145)"/><rect x="1831.5" y="55.2" width="21.4" height="21.6" fill="rgb(130,130,130)"/><rect x="1852.2" y="55.2" width="21.4" height="21.6" fill="rgb(145,145,145)"/><rect x="1873.0" y="55.2" width="21.4" height="21.6" fill="rgb(115,115,115)"/><rect x="1893.7" y="55.2" width="21.4" height="21.6" fill="rgb(38,38,38)"/><rect x="1914.5" y="55.2" width="21.4" height="21.6" fill="rgb(8,8,8)"/><rect x="1935.2" y="55.2" width="21.4" height="21.6" fill="rgb(8,8,8)"/><rect x="1748.5" y="76.1" width="21.4" height="21.6" fill="rgb(84,84,84)"/><rect x="1769.2" y="76.1" width="21.4" height="21.6" fill="rgb(84,84,84)"/><rect x="1790.0" y="76.1" width="21.4" height="21.6" fill="rgb(145,145,145)"/><rect x="1810.7" y="76.1" width="21.4" height="21.6" fill="rgb(145,145,145)"/><rect x="1831.5" y="76.1" width="21.4" height="21.6" fill="rgb(145,145,145)"/><rect x="1852.2" y="76.1" width="21.4" height="21.6" fill="rgb(145,145,145)"/><rect x="1873.0" y="76.1" width="21.4" height="21.6" fill="rgb(84,84,84)"/><rect x="1893.7" y="76.1" width="21.4" height="21.6" fill="rgb(54,54,54)"/><rect x="1914.5" y="76.1" width="21.4" height="21.6" fill="rgb(84,84,84)"/><rect x="1935.2" y="76.1" width="21.4" height="21.6" fill="rgb(84,84,84)"/><rect x="1748.5" y="97.0" width="21.4" height="21.6" fill="rgb(84,84,84)"/><rect x="1769.2" y="97.0" width="21.4" height="21.6" fill="rgb(84,84,84)"/><rect x="1790.0" y="97.0" width="21.4" height="21.6" fill="rgb(69,69,69)"/><rect x="1810.7" y="97.0" width="21.4" height="21.6" fill="rgb(69,69,69)"/><rect x="1831.5" y="97.0" width="21.4" height="21.6" fill="rgb(54,54,54)"/><rect x="1852.2" y="97.0" width="21.4" height="21.6" fill="rgb(84,84,84)"/><rect x="1873.0" y="97.0" width="21.4" height="21.6" fill="rgb(69,69,69)"/><rect x="1893.7" y="97.0" width="21.4" height="21.6" fill="rgb(84,84,84)"/><rect x="1914.5" y="97.0" width="21.4" height="21.6" fill="rgb(145,145,145)"/><rect x="1935.2" y="97.0" width="21.4" height="21.6" fill="rgb(145,145,145)"/><rect x="1748.5" y="118.0" width="21.4" height="21.6" fill="rgb(84,84,84)"/><rect x="1769.2" y="118.0" width="21.4" height="21.6" fill="rgb(84,84,84)"/><rect x="1790.0" y="118.0" width="21.4" height="21.6" fill="rgb(115,115,115)"/><rect x="1810.7" y="118.0" width="21.4" height="21.6" fill="rgb(145,145,145)"/><rect x="1831.5" y="118.0" width="21.4" height="21.6" fill="rgb(130,130,130)"/><rect x="1852.2" y="118.0" width="21.4" height="21.6" fill="rgb(161,161,161)"/><rect x="1873.0" y="118.0" width="21.4" height="21.6" fill="rgb(99,99,99)"/><rect x="1893.7" y="118.0" width="21.4" height="21.6" fill="rgb(84,84,84)"/><rect x="1914.5" y="118.0" width="21.4" height="21.6" fill="rgb(145,145,145)"/><rect x="1935.2" y="118.0" width="21.4" height="21.6" fill="rgb(145,145,145)"/><rect x="1748.5" y="138.9" width="21.4" height="21.6" fill="rgb(130,130,130)"/><rect x="1769.2" y="138.9" width="21.4" height="21.6" fill="rgb(130,130,130)"/><rect x="1790.0" y="138.9" width="21.4" height="21.6" fill="rgb(115,115,115)"/><rect x="1810.7" y="138.9" width="21.4" height="21.6" fill="rgb(84,84,84)"/><rect x="1831.5" y="138.9" width="21.4" height="21.6" fill="rgb(99,99,99)"/><rect x="1852.2" y="138.9" width="21.4" height="21.6" fill="rgb(161,161,161)"/><rect x="1873.0" y="138.9" width="21.4" height="21.6" fill="rgb(222,222,222)"/><rect x="1893.7" y="138.9" width="21.4" height="21.6" fill="rgb(130,130,130)"/><rect x="1914.5" y="138.9" width="21.4" height="21.6" fill="rgb(115,115,115)"/><rect x="1935.2" y="138.9" width="21.4" height="21.6" fill="rgb(115,115,115)"/><rect x="1748.5" y="159.9" width="21.4" height="21.6" fill="rgb(161,161,161)"/><rect x="1769.2" y="159.9" width="21.4" height="21.6" fill="rgb(161,161,161)"/><rect x="1790.0" y="159.9" width="21.4" height="21.6" fill="rgb(145,145,145)"/><rect x="1810.7" y="159.9" width="21.4" height="21.6" fill="rgb(69,69,69)"/><rect x="1831.5" y="159.9" width="21.4" height="21.6" fill="rgb(84,84,84)"/><rect x="1852.2" y="159.9" width="21.4" height="21.6" fill="rgb(115,115,115)"/><rect x="1873.0" y="159.9" width="21.4" height="21.6" fill="rgb(161,161,161)"/><rect x="1893.7" y="159.9" width="21.4" height="21.6" fill="rgb(130,130,130)"/><rect x="1914.5" y="159.9" width="21.4" height="21.6" fill="rgb(130,130,130)"/><rect x="1935.2" y="159.9" width="21.4" height="21.6" fill="rgb(130,130,130)"/><rect x="1748.5" y="180.9" width="21.4" height="21.6" fill="rgb(145,145,145)"/><rect x="1769.2" y="180.9" width="21.4" height="21.6" fill="rgb(145,145,145)"/><rect x="1790.0" y="180.9" width="21.4" height="21.6" fill="rgb(115,115,115)"/><rect x="1810.7" y="180.9" width="21.4" height="21.6" fill="rgb(69,69,69)"/><rect x="1831.5" y="180.9" width="21.4" height="21.6" fill="rgb(69,69,69)"/><rect x="1852.2" y="180.9" width="21.4" height="21.6" fill="rgb(84,84,84)"/><rect x="1873.0" y="180.9" width="21.4" height="21.6" fill="rgb(115,115,115)"/><rect x="1893.7" y="180.9" width="21.4" height="21.6" fill="rgb(115,115,115)"/><rect x="1914.5" y="180.9" width="21.4" height="21.6" fill="rgb(99,99,99)"/><rect x="1935.2" y="180.9" width="21.4" height="21.6" fill="rgb(99,99,99)"/><rect x="1748.5" y="201.8" width="21.4" height="21.6" fill="rgb(145,145,145)"/><rect x="1769.2" y="201.8" width="21.4" height="21.6" fill="rgb(145,145,145)"/><rect x="1790.0" y="201.8" width="21.4" height="21.6" fill="rgb(115,115,115)"/><rect x="1810.7" y="201.8" width="21.4" height="21.6" fill="rgb(69,69,69)"/><rect x="1831.5" y="201.8" width="21.4" height="21.6" fill="rgb(69,69,69)"/><rect x="1852.2" y="201.8" width="21.4" height="21.6" fill="rgb(84,84,84)"/><rect x="1873.0" y="201.8" width="21.4" height="21.6" fill="rgb(115,115,115)"/><rect x="1893.7" y="201.8" width="21.4" height="21.6" fill="rgb(115,115,115)"/><rect x="1914.5" y="201.8" width="21.4" height="21.6" fill="rgb(99,99,99)"/><rect x="1935.2" y="201.8" width="21.4" height="21.6" fill="rgb(99,99,99)"/></g></g>
<g clip-path="url(#k3c_clip)"><g filter="url(#k3c)"><rect x="1748.5" y="186.1" width="21.4" height="21.6" fill="rgb(38,38,38)"/><rect x="1769.2" y="186.1" width="21.4" height="21.6" fill="rgb(38,38,38)"/><rect x="1790.0" y="186.1" width="21.4" height="21.6" fill="rgb(8,8,8)"/><rect x="1810.7" y="186.1" width="21.4" height="21.6" fill="rgb(8,8,8)"/><rect x="1831.5" y="186.1" width="21.4" height="21.6" fill="rgb(38,38,38)"/><rect x="1852.2" y="186.1" width="21.4" height="21.6" fill="rgb(38,38,38)"/><rect x="1873.0" y="186.1" width="21.4" height="21.6" fill="rgb(23,23,23)"/><rect x="1893.7" y="186.1" width="21.4" height="21.6" fill="rgb(54,54,54)"/><rect x="1914.5" y="186.1" width="21.4" height="21.6" fill="rgb(115,115,115)"/><rect x="1935.2" y="186.1" width="21.4" height="21.6" fill="rgb(115,115,115)"/><rect x="1748.5" y="207.1" width="21.4" height="21.6" fill="rgb(38,38,38)"/><rect x="1769.2" y="207.1" width="21.4" height="21.6" fill="rgb(38,38,38)"/><rect x="1790.0" y="207.1" width="21.4" height="21.6" fill="rgb(8,8,8)"/><rect x="1810.7" y="207.1" width="21.4" height="21.6" fill="rgb(8,8,8)"/><rect x="1831.5" y="207.1" width="21.4" height="21.6" fill="rgb(38,38,38)"/><rect x="1852.2" y="207.1" width="21.4" height="21.6" fill="rgb(38,38,38)"/><rect x="1873.0" y="207.1" width="21.4" height="21.6" fill="rgb(23,23,23)"/><rect x="1893.7" y="207.1" width="21.4" height="21.6" fill="rgb(54,54,54)"/><rect x="1914.5" y="207.1" width="21.4" height="21.6" fill="rgb(115,115,115)"/><rect x="1935.2" y="207.1" width="21.4" height="21.6" fill="rgb(115,115,115)"/><rect x="1748.5" y="228.1" width="21.4" height="21.6" fill="rgb(115,115,115)"/><rect x="1769.2" y="228.1" width="21.4" height="21.6" fill="rgb(115,115,115)"/><rect x="1790.0" y="228.1" width="21.4" height="21.6" fill="rgb(130,130,130)"/><rect x="1810.7" y="228.1" width="21.4" height="21.6" fill="rgb(115,115,115)"/><rect x="1831.5" y="228.1" width="21.4" height="21.6" fill="rgb(130,130,130)"/><rect x="1852.2" y="228.1" width="21.4" height="21.6" fill="rgb(84,84,84)"/><rect x="1873.0" y="228.1" width="21.4" height="21.6" fill="rgb(38,38,38)"/><rect x="1893.7" y="228.1" width="21.4" height="21.6" fill="rgb(23,23,23)"/><rect x="1914.5" y="228.1" width="21.4" height="21.6" fill="rgb(54,54,54)"/><rect x="1935.2" y="228.1" width="21.4" height="21.6" fill="rgb(54,54,54)"/><rect x="1748.5" y="249.1" width="21.4" height="21.6" fill="rgb(115,115,115)"/><rect x="1769.2" y="249.1" width="21.4" height="21.6" fill="rgb(115,115,115)"/><rect x="1790.0" y="249.1" width="21.4" height="21.6" fill="rgb(145,145,145)"/><rect x="1810.7" y="249.1" width="21.4" height="21.6" fill="rgb(130,130,130)"/><rect x="1831.5" y="249.1" width="21.4" height="21.6" fill="rgb(161,161,161)"/><rect x="1852.2" y="249.1" width="21.4" height="21.6" fill="rgb(84,84,84)"/><rect x="1873.0" y="249.1" width="21.4" height="21.6" fill="rgb(54,54,54)"/><rect x="1893.7" y="249.1" width="21.4" height="21.6" fill="rgb(38,38,38)"/><rect x="1914.5" y="249.1" width="21.4" height="21.6" fill="rgb(69,69,69)"/><rect x="1935.2" y="249.1" width="21.4" height="21.6" fill="rgb(69,69,69)"/><rect x="1748.5" y="270.1" width="21.4" height="21.6" fill="rgb(84,84,84)"/><rect x="1769.2" y="270.1" width="21.4" height="21.6" fill="rgb(84,84,84)"/><rect x="1790.0" y="270.1" width="21.4" height="21.6" fill="rgb(69,69,69)"/><rect x="1810.7" y="270.1" width="21.4" height="21.6" fill="rgb(54,54,54)"/><rect x="1831.5" y="270.1" width="21.4" height="21.6" fill="rgb(69,69,69)"/><rect x="1852.2" y="270.1" width="21.4" height="21.6" fill="rgb(69,69,69)"/><rect x="1873.0" y="270.1" width="21.4" height="21.6" fill="rgb(84,84,84)"/><rect x="1893.7" y="270.1" width="21.4" height="21.6" fill="rgb(69,69,69)"/><rect x="1914.5" y="270.1" width="21.4" height="21.6" fill="rgb(54,54,54)"/><rect x="1935.2" y="270.1" width="21.4" height="21.6" fill="rgb(54,54,54)"/><rect x="1748.5" y="291.1" width="21.4" height="21.6" fill="rgb(84,84,84)"/><rect x="1769.2" y="291.1" width="21.4" height="21.6" fill="rgb(84,84,84)"/><rect x="1790.0" y="291.1" width="21.4" height="21.6" fill="rgb(84,84,84)"/><rect x="1810.7" y="291.1" width="21.4" height="21.6" fill="rgb(84,84,84)"/><rect x="1831.5" y="291.1" width="21.4" height="21.6" fill="rgb(69,69,69)"/><rect x="1852.2" y="291.1" width="21.4" height="21.6" fill="rgb(115,115,115)"/><rect x="1873.0" y="291.1" width="21.4" height="21.6" fill="rgb(84,84,84)"/><rect x="1893.7" y="291.1" width="21.4" height="21.6" fill="rgb(69,69,69)"/><rect x="1914.5" y="291.1" width="21.4" height="21.6" fill="rgb(84,84,84)"/><rect x="1935.2" y="291.1" width="21.4" height="21.6" fill="rgb(84,84,84)"/><rect x="1748.5" y="312.0" width="21.4" height="21.6" fill="rgb(84,84,84)"/><rect x="1769.2" y="312.0" width="21.4" height="21.6" fill="rgb(84,84,84)"/><rect x="1790.0" y="312.0" width="21.4" height="21.6" fill="rgb(115,115,115)"/><rect x="1810.7" y="312.0" width="21.4" height="21.6" fill="rgb(130,130,130)"/><rect x="1831.5" y="312.0" width="21.4" height="21.6" fill="rgb(84,84,84)"/><rect x="1852.2" y="312.0" width="21.4" height="21.6" fill="rgb(145,145,145)"/><rect x="1873.0" y="312.0" width="21.4" height="21.6" fill="rgb(115,115,115)"/><rect x="1893.7" y="312.0" width="21.4" height="21.6" fill="rgb(84,84,84)"/><rect x="1914.5" y="312.0" width="21.4" height="21.6" fill="rgb(115,115,115)"/><rect x="1935.2" y="312.0" width="21.4" height="21.6" fill="rgb(115,115,115)"/><rect x="1748.5" y="333.0" width="21.4" height="21.6" fill="rgb(69,69,69)"/><rect x="1769.2" y="333.0" width="21.4" height="21.6" fill="rgb(69,69,69)"/><rect x="1790.0" y="333.0" width="21.4" height="21.6" fill="rgb(84,84,84)"/><rect x="1810.7" y="333.0" width="21.4" height="21.6" fill="rgb(84,84,84)"/><rect x="1831.5" y="333.0" width="21.4" height="21.6" fill="rgb(84,84,84)"/><rect x="1852.2" y="333.0" width="21.4" height="21.6" fill="rgb(145,145,145)"/><rect x="1873.0" y="333.0" width="21.4" height="21.6" fill="rgb(99,99,99)"/><rect x="1893.7" y="333.0" width="21.4" height="21.6" fill="rgb(84,84,84)"/><rect x="1914.5" y="333.0" width="21.4" height="21.6" fill="rgb(99,99,99)"/><rect x="1935.2" y="333.0" width="21.4" height="21.6" fill="rgb(99,99,99)"/><rect x="1748.5" y="354.0" width="21.4" height="21.6" fill="rgb(54,54,54)"/><rect x="1769.2" y="354.0" width="21.4" height="21.6" fill="rgb(54,54,54)"/><rect x="1790.0" y="354.0" width="21.4" height="21.6" fill="rgb(69,69,69)"/><rect x="1810.7" y="354.0" width="21.4" height="21.6" fill="rgb(69,69,69)"/><rect x="1831.5" y="354.0" width="21.4" height="21.6" fill="rgb(54,54,54)"/><rect x="1852.2" y="354.0" width="21.4" height="21.6" fill="rgb(84,84,84)"/><rect x="1873.0" y="354.0" width="21.4" height="21.6" fill="rgb(115,115,115)"/><rect x="1893.7" y="354.0" width="21.4" height="21.6" fill="rgb(84,84,84)"/><rect x="1914.5" y="354.0" width="21.4" height="21.6" fill="rgb(69,69,69)"/><rect x="1935.2" y="354.0" width="21.4" height="21.6" fill="rgb(69,69,69)"/><rect x="1748.5" y="375.0" width="21.4" height="21.6" fill="rgb(54,54,54)"/><rect x="1769.2" y="375.0" width="21.4" height="21.6" fill="rgb(54,54,54)"/><rect x="1790.0" y="375.0" width="21.4" height="21.6" fill="rgb(69,69,69)"/><rect x="1810.7" y="375.0" width="21.4" height="21.6" fill="rgb(69,69,69)"/><rect x="1831.5" y="375.0" width="21.4" height="21.6" fill="rgb(54,54,54)"/><rect x="1852.2" y="375.0" width="21.4" height="21.6" fill="rgb(84,84,84)"/><rect x="1873.0" y="375.0" width="21.4" height="21.6" fill="rgb(115,115,115)"/><rect x="1893.7" y="375.0" width="21.4" height="21.6" fill="rgb(84,84,84)"/><rect x="1914.5" y="375.0" width="21.4" height="21.6" fill="rgb(69,69,69)"/><rect x="1935.2" y="375.0" width="21.4" height="21.6" fill="rgb(69,69,69)"/></g></g>
<rect x="949.0" y="35.0" width="183.5" height="40.6" fill="#fff" />
<text x="953.5" y="64.3" font-size="35.9" text-anchor="start" fill="#000" font-weight="normal" >Nonporous</text>
<rect x="1626.4" y="34.7" width="138.1" height="40.8" fill="#fff" />
<text x="1636.2" y="64.4" font-size="35" text-anchor="start" fill="#000" font-weight="normal" >O<tspan dy="9.3" font-size="23">3</tspan><tspan dy="-9.3">​</tspan>-60 s</text>
<rect x="815.3" y="230.8" width="24.5" height="97.80000000000001" fill="url(#afmcb)" stroke="#fff" stroke-width="2"/>
<rect x="1447.2" y="233.3" width="24.59999999999991" height="97.0" fill="url(#afmcb)" stroke="#fff" stroke-width="2"/>
<text x="805.7" y="222.9" font-size="35" text-anchor="start" fill="#fff" font-weight="normal" >50 nm</text>
<text x="796.2" y="366.9" font-size="35" text-anchor="start" fill="#fff" font-weight="normal" >-50 nm</text>
<text x="1441.9" y="221.0" font-size="35" text-anchor="start" fill="#fff" font-weight="normal" >50 nm</text>
<text x="1429.9" y="365.8" font-size="35" text-anchor="start" fill="#fff" font-weight="normal" >-50 nm</text>
<text x="1036.9" y="342.6" font-size="35" text-anchor="start" fill="#fff" font-weight="normal" >2 µm</text>
<rect x="1048.5" y="354.5" width="65.7" height="7.9" fill="#fff" />
<text x="1665.5" y="339.7" font-size="35" text-anchor="start" fill="#fff" font-weight="normal" >2 µm</text>
<rect x="1677.1" y="356.1" width="65.7" height="8.0" fill="#fff" />
<text x="1242.4" y="71.2" font-size="35" text-anchor="start" fill="#fff" font-weight="normal" >0 h</text>
<text x="1248.2" y="241.7" font-size="35" text-anchor="start" fill="#fff" font-weight="normal" >3 h</text>
<text x="1874.0" y="69.4" font-size="35" text-anchor="start" fill="#fff" font-weight="normal" >0 h</text>
<text x="1876.3" y="244.2" font-size="35" text-anchor="start" fill="#fff" font-weight="normal" >3 h</text>
<rect x="1324.5" y="112.5" width="24.2" height="205.7" fill="url(#kcb)" />
<rect x="1955.4" y="112.0" width="23.9" height="204.7" fill="url(#kcb)" />
<text x="1314.0" y="97.1" font-size="35" text-anchor="start" fill="#000" font-weight="normal" >0.3</text>
<text x="1326.3" y="355.1" font-size="35" text-anchor="start" fill="#000" font-weight="normal" >0</text>
<text x="1943.4" y="97.1" font-size="35" text-anchor="start" fill="#000" font-weight="normal" >0.4</text>
<text x="1959.1" y="354.0" font-size="35" text-anchor="start" fill="#000" font-weight="normal" >0</text>
<text x="754.8" y="33.4" font-size="46" text-anchor="start" fill="#000" font-weight="bold" >b</text>
<text x="1393.7" y="32.2" font-size="46" text-anchor="start" fill="#000" font-weight="bold" >c</text>
<rect x="213.8" y="718.1" width="48.2" height="161.1" fill="#87cae8" />
<rect x="347.2" y="710.3" width="47.7" height="168.9" fill="#5884df" />
<rect x="480.1" y="670.5" width="48.1" height="208.7" fill="#f39434" />
<rect x="613.2" y="609.0" width="47.7" height="270.2" fill="#e0574a" />
<line x1="144.7" y1="706.1" x2="730.6" y2="706.1" stroke="#000" stroke-width="3.4" stroke-dasharray="11,4.8"/>
<line x1="237.7" y1="712.4" x2="237.7" y2="724.4" stroke="#000" stroke-width="2.4" />
<line x1="233.7" y1="712.4" x2="241.7" y2="712.4" stroke="#000" stroke-width="2.6" />
<line x1="233.7" y1="724.4" x2="241.7" y2="724.4" stroke="#000" stroke-width="2.6" />
<line x1="371.0" y1="698.0" x2="371.0" y2="722.3" stroke="#000" stroke-width="2.4" />
<line x1="367.0" y1="698.0" x2="375.0" y2="698.0" stroke="#000" stroke-width="2.6" />
<line x1="367.0" y1="722.3" x2="375.0" y2="722.3" stroke="#000" stroke-width="2.6" />
<line x1="504.4" y1="624.8" x2="504.4" y2="717.0" stroke="#000" stroke-width="2.4" />
<line x1="500.4" y1="624.8" x2="508.4" y2="624.8" stroke="#000" stroke-width="2.6" />
<line x1="500.4" y1="717.0" x2="508.4" y2="717.0" stroke="#000" stroke-width="2.6" />
<line x1="637.0" y1="572.1" x2="637.0" y2="646.2" stroke="#000" stroke-width="2.4" />
<line x1="633.0" y1="572.1" x2="641.0" y2="572.1" stroke="#000" stroke-width="2.6" />
<line x1="633.0" y1="646.2" x2="641.0" y2="646.2" stroke="#000" stroke-width="2.6" />
<rect x="144.7" y="532.8" width="585.9000000000001" height="346.4000000000001" fill="none" stroke="#000" stroke-width="2.6"/>
<line x1="138.2" y1="879.2" x2="144.7" y2="879.2" stroke="#000" stroke-width="2.4" />
<text x="131.6" y="890.4" font-size="35" text-anchor="end" fill="#000" font-weight="normal" >0.0</text>
<line x1="141.2" y1="835.9" x2="144.7" y2="835.9" stroke="#000" stroke-width="2.4" />
<line x1="138.2" y1="792.6" x2="144.7" y2="792.6" stroke="#000" stroke-width="2.4" />
<text x="131.6" y="803.8" font-size="35" text-anchor="end" fill="#000" font-weight="normal" >0.5</text>
<line x1="141.2" y1="749.3" x2="144.7" y2="749.3" stroke="#000" stroke-width="2.4" />
<line x1="138.2" y1="706.0" x2="144.7" y2="706.0" stroke="#000" stroke-width="2.4" />
<text x="131.6" y="717.2" font-size="35" text-anchor="end" fill="#000" font-weight="normal" >1.0</text>
<line x1="141.2" y1="662.7" x2="144.7" y2="662.7" stroke="#000" stroke-width="2.4" />
<line x1="138.2" y1="619.4" x2="144.7" y2="619.4" stroke="#000" stroke-width="2.4" />
<text x="131.6" y="630.6" font-size="35" text-anchor="end" fill="#000" font-weight="normal" >1.5</text>
<line x1="141.2" y1="576.1" x2="144.7" y2="576.1" stroke="#000" stroke-width="2.4" />
<line x1="138.2" y1="532.8" x2="144.7" y2="532.8" stroke="#000" stroke-width="2.4" />
<text x="131.6" y="544.0" font-size="35" text-anchor="end" fill="#000" font-weight="normal" >2.0</text>
<line x1="237.7" y1="879.2" x2="237.7" y2="885.8" stroke="#000" stroke-width="2.4" />
<text x="237.7" y="918.2" font-size="35" text-anchor="middle" fill="#000" font-weight="normal" >0</text>
<line x1="371.0" y1="879.2" x2="371.0" y2="885.8" stroke="#000" stroke-width="2.4" />
<text x="371.0" y="918.2" font-size="35" text-anchor="middle" fill="#000" font-weight="normal" >30 s</text>
<line x1="504.4" y1="879.2" x2="504.4" y2="885.8" stroke="#000" stroke-width="2.4" />
<text x="504.4" y="918.2" font-size="35" text-anchor="middle" fill="#000" font-weight="normal" >60 s</text>
<line x1="637.0" y1="879.2" x2="637.0" y2="885.8" stroke="#000" stroke-width="2.4" />
<text x="637.0" y="918.2" font-size="35" text-anchor="middle" fill="#000" font-weight="normal" >180 s</text>
<text x="279.9" y="969.0" font-size="35.6" text-anchor="start" fill="#000" font-weight="normal" >O<tspan dy="9.5" font-size="23">3</tspan><tspan dy="-9.5">​</tspan> treatment time</text>
<text transform="translate(52.5,706) rotate(-90)" font-size="35" text-anchor="middle">A<tspan dy="8" font-size="22">0</tspan><tspan dy="-8">​</tspan>/A</text>
<text x="153.0" y="572.0" font-size="35.7" text-anchor="start" fill="#000" font-weight="normal" >A<tspan dy="8.3" font-size="21">0</tspan><tspan dy="-8.3">​</tspan>/A ≥ 1, Permeable to H<tspan dy="8.3" font-size="21">2</tspan><tspan dy="-8.3">​</tspan></text>
<text x="153.0" y="614.8" font-size="35.7" text-anchor="start" fill="#000" font-weight="normal" >A<tspan dy="8.3" font-size="21">0</tspan><tspan dy="-8.3">​</tspan>/A &lt; 1, Impermeable to H<tspan dy="8.3" font-size="21">2</tspan><tspan dy="-8.3">​</tspan></text>
<text x="-1.5" y="508.3" font-size="48" text-anchor="start" fill="#000" font-weight="bold" >d</text>
<line x1="810.0" y1="695.3" x2="1966.0" y2="695.3" stroke="#333333" stroke-width="3" stroke-dasharray="24,8.5"/>
<line x1="1364.5" y1="473.5" x2="1364.5" y2="958.0" stroke="#333333" stroke-width="3" stroke-dasharray="24,8.5"/>
<text x="764.0" y="500.8" font-size="46" text-anchor="start" fill="#333333" font-weight="bold" >e</text>
<text x="827.0" y="502.2" font-size="36" text-anchor="start" fill="#333333" font-weight="normal" textLength="58" lengthAdjust="spacing">( i )</text>
<text x="969.9" y="502.2" font-size="35.7" text-anchor="start" fill="#333333" font-weight="normal" ><tspan font-style="italic">d</tspan><tspan dy="8" font-size="21">gas</tspan><tspan dy="-8">​</tspan>&gt;<tspan font-style="italic">d</tspan><tspan dy="8" font-size="21">1</tspan><tspan dy="-8">​</tspan>, <tspan font-style="italic">d</tspan><tspan dy="8" font-size="21">2</tspan><tspan dy="-8">​</tspan></text>
<text x="1203.0" y="509.0" font-size="35.7" text-anchor="start" fill="#333333" font-weight="normal" >Pathway</text>
<text x="1249.2" y="627.0" font-size="35.7" text-anchor="start" fill="#333333" font-weight="normal" >No</text>
<text x="828.5" y="742.0" font-size="36" text-anchor="start" fill="#333333" font-weight="normal" textLength="59" lengthAdjust="spacing">( ii )</text>
<text x="974.6" y="735.3" font-size="35.7" text-anchor="start" fill="#333333" font-weight="normal" ><tspan font-style="italic">d</tspan><tspan dy="8" font-size="21">2</tspan><tspan dy="-8">​</tspan>&gt;<tspan font-style="italic">d</tspan><tspan dy="8" font-size="21">gas</tspan><tspan dy="-8">​</tspan>&gt;<tspan font-style="italic">d</tspan><tspan dy="8" font-size="21">1</tspan><tspan dy="-8">​</tspan></text>
<text x="1387.5" y="498.0" font-size="36.5" text-anchor="start" fill="#333333" font-weight="normal" textLength="58.5" lengthAdjust="spacing">(iii)</text>
<text x="1534.8" y="498.0" font-size="35.7" text-anchor="start" fill="#333333" font-weight="normal" ><tspan font-style="italic">d</tspan><tspan dy="8" font-size="21">1</tspan><tspan dy="-8">​</tspan>&gt;<tspan font-style="italic">d</tspan><tspan dy="8" font-size="21">gas</tspan><tspan dy="-8">​</tspan>&gt;<tspan font-style="italic">d</tspan><tspan dy="8" font-size="21">2</tspan><tspan dy="-8">​</tspan></text>
<text x="1811.5" y="501.2" font-size="35.7" text-anchor="start" fill="#333333" font-weight="normal" >Pathway</text>
<text x="1387.5" y="733.0" font-size="36.5" text-anchor="start" fill="#333333" font-weight="normal" textLength="59.5" lengthAdjust="spacing">(vi)</text>
<text x="1539.5" y="731.4" font-size="35.7" text-anchor="start" fill="#333333" font-weight="normal" ><tspan font-style="italic">d</tspan><tspan dy="8" font-size="21">1</tspan><tspan dy="-8">​</tspan>, <tspan font-style="italic">d</tspan><tspan dy="8" font-size="21">2</tspan><tspan dy="-8">​</tspan> &gt;<tspan font-style="italic">d</tspan><tspan dy="8" font-size="21">gas</tspan><tspan dy="-8">​</tspan></text>
<path d="M940.6,609.0 L1111.6,609.0 L1179.7,659.0 L878.2,659.0 Z" fill="#e8ab58"/>
<path d="M878.2,659.0 L1179.7,659.0 L1179.7,662.2 L879.2,662.2 Z" fill="#f3bd68"/>
<ellipse cx="984.0" cy="618.3" rx="9.0" ry="2.2" fill="#fff"/>
<path d="M987.1,616.2 A9.0,2.2 0 0 1 991.6,619.4" fill="none" stroke="#3a2a10" stroke-width="1.4"/>
<ellipse cx="1070.0" cy="618.3" rx="9.0" ry="2.2" fill="#fff"/>
<path d="M1073.2,616.2 A9.0,2.2 0 0 1 1077.7,619.4" fill="none" stroke="#3a2a10" stroke-width="1.4"/>
<ellipse cx="974.2" cy="638.7" rx="12.0" ry="2.8" fill="#fff"/>
<path d="M978.4,636.0 A12.0,2.8 0 0 1 984.4,640.1" fill="none" stroke="#3a2a10" stroke-width="1.4"/>
<ellipse cx="1082.4" cy="638.7" rx="12.0" ry="2.8" fill="#fff"/>
<path d="M1086.6,636.0 A12.0,2.8 0 0 1 1092.6,640.1" fill="none" stroke="#3a2a10" stroke-width="1.4"/>
<path d="M942.1,563.5 L1110.1,563.5 L1175.0,613.5 L876.3,613.5 Z" fill="#e8ab58"/>
<path d="M876.3,613.5 L1175.0,613.5 L1175.0,616.7 L877.3,616.7 Z" fill="#f3bd68"/>
<ellipse cx="981.8" cy="573.4" rx="9.0" ry="2.0" fill="#fff"/>
<path d="M984.9,571.5 A9.0,2.0 0 0 1 989.4,574.4" fill="none" stroke="#3a2a10" stroke-width="1.4"/>
<ellipse cx="1068.0" cy="573.4" rx="9.0" ry="2.0" fill="#fff"/>
<path d="M1071.2,571.5 A9.0,2.0 0 0 1 1075.7,574.4" fill="none" stroke="#3a2a10" stroke-width="1.4"/>
<ellipse cx="971.7" cy="595.8" rx="12.0" ry="2.8" fill="#fff"/>
<path d="M975.9,593.1 A12.0,2.8 0 0 1 981.9,597.2" fill="none" stroke="#3a2a10" stroke-width="1.4"/>
<ellipse cx="1080.5" cy="595.8" rx="12.0" ry="2.8" fill="#fff"/>
<path d="M1084.7,593.1 A12.0,2.8 0 0 1 1090.7,597.2" fill="none" stroke="#3a2a10" stroke-width="1.4"/>
<path d="M1078.6,530.5 L1078.6,575.3" stroke="#e8323c" stroke-width="6" fill="none" stroke-dasharray="18,7.5"/>
<path d="M1068.6,575.3 L1088.6,575.3 L1078.6,592.5 Z" fill="#e8323c"/>
<path d="M1091.2,541.8 L1112.2,561.3 L1112.9,560.7 L1096.0,537.5 Z" fill="#e8323c"/>
<circle cx="1093.6" cy="539.7" r="3.2" fill="#e8323c"/>
<path d="M1109.2,536.6 L1092.8,560.7 L1093.6,561.3 L1114.1,540.7 Z" fill="#e8323c"/>
<circle cx="1111.7" cy="538.7" r="3.2" fill="#e8323c"/>
<path d="M844.4,653.6 L866.9,673.0 L867.6,672.4 L849.1,649.2 Z" fill="#e8323c"/>
<circle cx="846.8" cy="651.4" r="3.2" fill="#e8323c"/>
<path d="M863.9,648.2 L845.9,672.4 L846.7,673.0 L868.7,652.5 Z" fill="#e8323c"/>
<circle cx="866.3" cy="650.4" r="3.2" fill="#e8323c"/>
<path d="M835.3,634.5 L877.3,634.5" stroke="#e8323c" stroke-width="5.6" stroke-dasharray="19,6"/>
<path d="M877.3,625 L897.3,634.5 L877.3,644 Z" fill="#e8323c"/>
<path d="M911.6,622 L911.6,648" stroke="#222" stroke-width="3.4"/>
<path d="M905.4,625 L911.6,617.5 L917.8,625 Z M905.4,645 L911.6,652.5 L917.8,645 Z" fill="#222"/>
<text x="924.0" y="651.7" font-size="35.7" text-anchor="start" fill="#333333" font-weight="normal" ><tspan font-style="italic">d</tspan><tspan dy="8" font-size="21">2</tspan><tspan dy="-8">​</tspan></text>
<path d="M944.8,864.6 L1112.4,864.6 L1178.0,915.6 L878.3,915.6 Z" fill="#e8ab58"/>
<path d="M878.3,915.6 L1178.0,915.6 L1178.0,918.8 L879.3,918.8 Z" fill="#f3bd68"/>
<ellipse cx="984.1" cy="874.4" rx="9.5" ry="2.2" fill="#fff"/>
<path d="M987.4,872.3 A9.5,2.2 0 0 1 992.2,875.5" fill="none" stroke="#3a2a10" stroke-width="1.4"/>
<ellipse cx="1069.5" cy="874.4" rx="9.5" ry="2.2" fill="#fff"/>
<path d="M1072.8,872.3 A9.5,2.2 0 0 1 1077.6,875.5" fill="none" stroke="#3a2a10" stroke-width="1.4"/>
<ellipse cx="974.0" cy="896.6" rx="12.2" ry="2.9" fill="#fff"/>
<path d="M978.3,893.8 A12.2,2.9 0 0 1 984.4,898.1" fill="none" stroke="#3a2a10" stroke-width="1.4"/>
<ellipse cx="1081.7" cy="896.6" rx="12.2" ry="2.9" fill="#fff"/>
<path d="M1086.0,893.8 A12.2,2.9 0 0 1 1092.1,898.1" fill="none" stroke="#3a2a10" stroke-width="1.4"/>
<path d="M912.2,854 L1145.5,854 L1145.5,887" stroke="#ff1010" stroke-width="5" fill="none" stroke-dasharray="18,7"/>
<path d="M943.4,792.8 L1111.6,792.8 L1176.7,843.7 L875.6,843.7 Z" fill="#e8ab58"/>
<path d="M875.6,843.7 L1176.7,843.7 L1176.7,846.9 L876.6,846.9 Z" fill="#f3bd68"/>
<ellipse cx="982.2" cy="802.5" rx="9.5" ry="2.2" fill="#fff"/>
<path d="M985.5,800.4 A9.5,2.2 0 0 1 990.3,803.6" fill="none" stroke="#3a2a10" stroke-width="1.4"/>
<ellipse cx="1067.4" cy="802.5" rx="9.5" ry="2.2" fill="#fff"/>
<path d="M1070.7,800.4 A9.5,2.2 0 0 1 1075.5,803.6" fill="none" stroke="#3a2a10" stroke-width="1.4"/>
<ellipse cx="971.9" cy="824.8" rx="12.2" ry="2.9" fill="#fff"/>
<path d="M976.2,822.0 A12.2,2.9 0 0 1 982.3,826.2" fill="none" stroke="#3a2a10" stroke-width="1.4"/>
<ellipse cx="1080.4" cy="824.8" rx="12.2" ry="2.9" fill="#fff"/>
<path d="M1084.7,822.0 A12.2,2.9 0 0 1 1090.8,826.2" fill="none" stroke="#3a2a10" stroke-width="1.4"/>
<path d="M1009.9,786.2 L912.2,786.2 L912.2,808.5" stroke="#ff1010" stroke-width="5" fill="none" stroke-dasharray="18,7"/>
<path d="M912.2,846.5 L912.2,854" stroke="#ff1010" stroke-width="5" fill="none"/>
<path d="M1078.2,759.1 L1078.2,803.0" stroke="#e8323c" stroke-width="6" fill="none" stroke-dasharray="18,7.5"/>
<path d="M1068.2,803.0 L1088.2,803.0 L1078.2,820.7 Z" fill="#e8323c"/>
<path d="M1093.1,773.3 L1114.8,791.3 L1115.5,790.5 L1097.6,768.8 Z" fill="#e8323c"/>
<circle cx="1095.4" cy="771.0" r="3.2" fill="#e8323c"/>
<path d="M1111.9,767.9 L1094.5,790.6 L1095.3,791.2 L1116.6,772.3 Z" fill="#e8323c"/>
<circle cx="1114.2" cy="770.1" r="3.2" fill="#e8323c"/>
<path d="M999.0,875.8 Q1005.2,874.9 1010.4,882.0 Q1017.7,870.8 1030.2,864.0 Q1018.3,874.3 1010.4,891.2 Q1005.2,880.9 999.0,875.8 Z" fill="#cc3338"/>
<path d="M1147.0,919.7 L1147.0,938.7" stroke="#e8323c" stroke-width="6" fill="none" stroke-dasharray="30,0"/>
<path d="M1137.5,938.7 L1156.5,938.7 L1147.0,959.0 Z" fill="#e8323c"/>
<path d="M1233.6,759.1 L1233.6,789.5 L1323.9,789.5 L1323.9,828.8 L1233.6,828.8 L1233.6,873.6 L1323.9,873.6 L1323.9,903.4" stroke="#ff0000" stroke-width="5" fill="none" stroke-dasharray="17,6"/>
<path d="M1310.4,903.4 L1337.4,903.4 L1323.9,925.1 Z" fill="#ff0000"/>
<path d="M1510.8,610.6 L1676.0,610.6 L1740.8,660.6 L1445.2,660.6 Z" fill="#e8ab58"/>
<path d="M1445.2,660.6 L1740.8,660.6 L1740.8,663.8 L1446.2,663.8 Z" fill="#f3bd68"/>
<ellipse cx="1634.0" cy="619.0" rx="14.0" ry="2.5" fill="#fff"/>
<path d="M1638.9,616.6 A14.0,2.5 0 0 1 1645.9,620.2" fill="none" stroke="#3a2a10" stroke-width="1.4"/>
<ellipse cx="1539.5" cy="641.1" rx="23.5" ry="5.0" fill="#fff"/>
<path d="M1547.7,636.4 A23.5,5.0 0 0 1 1559.5,643.6" fill="none" stroke="#3a2a10" stroke-width="1.4"/>
<ellipse cx="1644.9" cy="641.1" rx="23.5" ry="5.0" fill="#fff"/>
<path d="M1653.1,636.4 A23.5,5.0 0 0 1 1664.9,643.6" fill="none" stroke="#3a2a10" stroke-width="1.4"/>
<path d="M1534.8,567.2 L1699.9,567.2 L1766.0,617.5 L1468.8,617.5 Z" fill="#e8ab58"/>
<path d="M1468.8,617.5 L1766.0,617.5 L1766.0,620.7 L1469.8,620.7 Z" fill="#f3bd68"/>
<ellipse cx="1569.4" cy="576.6" rx="14.0" ry="3.0" fill="#fff"/>
<path d="M1574.3,573.8 A14.0,3.0 0 0 1 1581.3,578.1" fill="none" stroke="#3a2a10" stroke-width="1.4"/>
<ellipse cx="1657.5" cy="576.6" rx="14.0" ry="3.0" fill="#fff"/>
<path d="M1662.4,573.8 A14.0,3.0 0 0 1 1669.4,578.1" fill="none" stroke="#3a2a10" stroke-width="1.4"/>
<ellipse cx="1569.4" cy="598.6" rx="22.0" ry="5.0" fill="#fff"/>
<path d="M1577.1,593.9 A22.0,5.0 0 0 1 1588.1,601.1" fill="none" stroke="#3a2a10" stroke-width="1.4"/>
<ellipse cx="1670.0" cy="598.6" rx="23.5" ry="5.0" fill="#fff"/>
<path d="M1678.2,593.9 A23.5,5.0 0 0 1 1690.0,601.1" fill="none" stroke="#3a2a10" stroke-width="1.4"/>
<path d="M1652,529.5 Q1650,545 1656,560 Q1661,575 1657,590 Q1654,610 1657,625 Q1659,635 1657,644" stroke="#ff1010" stroke-width="4.6" fill="none" stroke-dasharray="14,6"/>
<path d="M1657.5,661.5 L1657.5,675.7" stroke="#e8323c" stroke-width="6" fill="none" stroke-dasharray="30,0"/>
<path d="M1648.0,675.7 L1667.0,675.7 L1657.5,693.0 Z" fill="#e8323c"/>
<path d="M1670.0,547.9 Q1676.3,547.0 1681.5,553.7 Q1688.9,543.2 1701.5,536.7 Q1689.5,546.5 1681.5,562.5 Q1676.3,552.7 1670.0,547.9 Z" fill="#cc3338"/>
<path d="M1420.4,649.6 L1441.2,666.7 L1441.9,665.9 L1424.9,645.0 Z" fill="#e8323c"/>
<circle cx="1422.6" cy="647.3" r="3.2" fill="#e8323c"/>
<path d="M1438.3,644.2 L1421.8,666.0 L1422.6,666.6 L1443.0,648.6 Z" fill="#e8323c"/>
<circle cx="1440.7" cy="646.4" r="3.2" fill="#e8323c"/>
<path d="M1412.2,628.5 L1456.2,628.5" stroke="#e8323c" stroke-width="5.2" stroke-dasharray="17,6"/>
<path d="M1456.2,620 L1475.1,628.5 L1456.2,637 Z" fill="#e8323c"/>
<path d="M1536.4,587.6 L1536.4,638 M1567.2,587.6 L1567.2,638" stroke="#333" stroke-width="3.6" stroke-dasharray="12,5"/>
<path d="M1543,600.2 L1561,600.2" stroke="#222" stroke-width="3"/><path d="M1539,600.2 L1545,595.5 L1545,604.9 Z M1565,600.2 L1559,595.5 L1559,604.9 Z" fill="#222"/>
<text x="1492.4" y="595.5" font-size="35.7" text-anchor="start" fill="#333333" font-weight="normal" ><tspan font-style="italic">d</tspan><tspan dy="8" font-size="21">1</tspan><tspan dy="-8">​</tspan>'</text>
<path d="M1878.5,535.8 Q1876,555 1880,575 Q1886,595 1881,615 Q1876,635 1880.7,653.7" stroke="#ff0000" stroke-width="5" fill="none" stroke-dasharray="15,6"/>
<path d="M1869,653.7 L1895,653.7 L1882,676.3 Z" fill="#ff0000"/>
<path d="M1509.7,865.1 L1674.7,865.1 L1739.8,917.0 L1443.0,917.0 Z" fill="#e8ab58"/>
<path d="M1443.0,917.0 L1739.8,917.0 L1739.8,920.2 L1444.0,920.2 Z" fill="#f3bd68"/>
<ellipse cx="1538.0" cy="874.5" rx="19.0" ry="3.5" fill="#fff"/>
<path d="M1544.7,871.2 A19.0,3.5 0 0 1 1554.2,876.2" fill="none" stroke="#3a2a10" stroke-width="1.4"/>
<ellipse cx="1643.3" cy="874.5" rx="19.0" ry="3.5" fill="#fff"/>
<path d="M1650.0,871.2 A19.0,3.5 0 0 1 1659.5,876.2" fill="none" stroke="#3a2a10" stroke-width="1.4"/>
<ellipse cx="1519.7" cy="897.5" rx="24.5" ry="5.5" fill="#fff"/>
<path d="M1528.3,892.3 A24.5,5.5 0 0 1 1540.5,900.2" fill="none" stroke="#3a2a10" stroke-width="1.4"/>
<ellipse cx="1659.7" cy="897.5" rx="24.5" ry="5.5" fill="#fff"/>
<path d="M1668.3,892.3 A24.5,5.5 0 0 1 1680.5,900.2" fill="none" stroke="#3a2a10" stroke-width="1.4"/>
<path d="M1527,860 L1527,901" stroke="#ff1010" stroke-width="4.6" fill="none" stroke-dasharray="14,6"/>
<path d="M1662,848 Q1660,870 1664,885 L1666,901" stroke="#ff1010" stroke-width="4.6" fill="none" stroke-dasharray="14,6"/>
<path d="M1538.0,792.8 L1704.0,792.8 L1769.1,843.1 L1471.9,843.1 Z" fill="#e8ab58"/>
<path d="M1471.9,843.1 L1769.1,843.1 L1769.1,846.3 L1472.9,846.3 Z" fill="#f3bd68"/>
<ellipse cx="1578.8" cy="801.3" rx="15.0" ry="3.0" fill="#fff"/>
<path d="M1584.0,798.4 A15.0,3.0 0 0 1 1591.5,802.8" fill="none" stroke="#3a2a10" stroke-width="1.4"/>
<ellipse cx="1662.2" cy="801.3" rx="15.0" ry="3.0" fill="#fff"/>
<path d="M1667.5,798.4 A15.0,3.0 0 0 1 1675.0,802.8" fill="none" stroke="#3a2a10" stroke-width="1.4"/>
<ellipse cx="1567.8" cy="823.3" rx="24.5" ry="5.5" fill="#fff"/>
<path d="M1576.4,818.1 A24.5,5.5 0 0 1 1588.6,826.0" fill="none" stroke="#3a2a10" stroke-width="1.4"/>
<ellipse cx="1673.8" cy="823.3" rx="24.5" ry="5.5" fill="#fff"/>
<path d="M1682.4,818.1 A24.5,5.5 0 0 1 1694.6,826.0" fill="none" stroke="#3a2a10" stroke-width="1.4"/>
<path d="M1562.5,762.9 L1562.5,851 L1527,852 L1527,862" stroke="#ff1010" stroke-width="4.6" fill="none" stroke-dasharray="14,6"/>
<path d="M1658,762.9 Q1662,780 1665,800 Q1666,820 1664.5,843" stroke="#ff1010" stroke-width="4.6" fill="none" stroke-dasharray="14,6"/>
<path d="M1529.3,920.0 L1529.3,940.6" stroke="#e8323c" stroke-width="6" fill="none" stroke-dasharray="30,0"/>
<path d="M1519.3,940.6 L1539.3,940.6 L1529.3,959.4 Z" fill="#e8323c"/>
<path d="M1671.6,920.0 L1671.6,940.6" stroke="#e8323c" stroke-width="6" fill="none" stroke-dasharray="30,0"/>
<path d="M1661.6,940.6 L1681.6,940.6 L1671.6,959.4 Z" fill="#e8323c"/>
<path d="M1682.6,770.6 Q1688.6,769.8 1693.5,776.3 Q1700.5,766.0 1712.5,759.7 Q1701.1,769.3 1693.5,784.9 Q1688.6,775.3 1682.6,770.6 Z" fill="#cc3338"/>
<path d="M1476.6,860.8 Q1482.6,860.0 1487.5,866.3 Q1494.5,856.3 1506.5,850.3 Q1495.1,859.5 1487.5,874.5 Q1482.6,865.3 1476.6,860.8 Z" fill="#cc3338"/>
<path d="M1813.1,761.3 L1813.1,789.6 L1858.7,789.6 L1858.7,827.4 L1813.1,827.4 L1813.1,869.8 L1858,869.8 L1858,898.1" stroke="#ff0000" stroke-width="5" fill="none" stroke-dasharray="15,6"/>
<path d="M1845,898.1 L1871,898.1 L1858,921.7 Z" fill="#ff0000"/>
<path d="M1896.5,843.1 L1915.5,843.1 M1906,833.6 L1906,852.6" stroke="#333" stroke-width="3"/>
<path d="M1949,764.5 Q1946,790 1950,815 Q1955,840 1951,860 Q1949,880 1952.5,895" stroke="#ff0000" stroke-width="5" fill="none" stroke-dasharray="15,6"/>
<path d="M1940.5,895 L1966.5,895 L1953.5,918.6 Z" fill="#ff0000"/>
<rect x="203.1" y="1041.6" width="734.3" height="371.4000000000001" fill="none" stroke="#333333" stroke-width="2.4"/>
<line x1="199.6" y1="1413.0" x2="203.1" y2="1413.0" stroke="#333333" stroke-width="2.2" />
<line x1="196.6" y1="1381.9" x2="203.1" y2="1381.9" stroke="#333333" stroke-width="2.2" />
<text x="192.5" y="1393.1" font-size="35" text-anchor="end" fill="#000" font-weight="normal" >0</text>
<line x1="199.6" y1="1350.9" x2="203.1" y2="1350.9" stroke="#333333" stroke-width="2.2" />
<line x1="196.6" y1="1319.9" x2="203.1" y2="1319.9" stroke="#333333" stroke-width="2.2" />
<text x="192.5" y="1331.1" font-size="35" text-anchor="end" fill="#000" font-weight="normal" >20</text>
<line x1="199.6" y1="1288.9" x2="203.1" y2="1288.9" stroke="#333333" stroke-width="2.2" />
<line x1="196.6" y1="1257.9" x2="203.1" y2="1257.9" stroke="#333333" stroke-width="2.2" />
<text x="192.5" y="1269.1" font-size="35" text-anchor="end" fill="#000" font-weight="normal" >40</text>
<line x1="199.6" y1="1227.0" x2="203.1" y2="1227.0" stroke="#333333" stroke-width="2.2" />
<line x1="196.6" y1="1196.0" x2="203.1" y2="1196.0" stroke="#333333" stroke-width="2.2" />
<text x="192.5" y="1207.2" font-size="35" text-anchor="end" fill="#000" font-weight="normal" >60</text>
<line x1="199.6" y1="1165.0" x2="203.1" y2="1165.0" stroke="#333333" stroke-width="2.2" />
<line x1="196.6" y1="1134.0" x2="203.1" y2="1134.0" stroke="#333333" stroke-width="2.2" />
<text x="192.5" y="1145.2" font-size="35" text-anchor="end" fill="#000" font-weight="normal" >80</text>
<line x1="199.6" y1="1103.0" x2="203.1" y2="1103.0" stroke="#333333" stroke-width="2.2" />
<line x1="196.6" y1="1072.0" x2="203.1" y2="1072.0" stroke="#333333" stroke-width="2.2" />
<text x="192.5" y="1083.2" font-size="35" text-anchor="end" fill="#000" font-weight="normal" >100</text>
<line x1="203.1" y1="1413.0" x2="203.1" y2="1419.5" stroke="#333333" stroke-width="2.2" />
<text x="203.1" y="1453.0" font-size="35" text-anchor="middle" fill="#000" font-weight="normal" >0</text>
<line x1="275.4" y1="1413.0" x2="275.4" y2="1416.5" stroke="#333333" stroke-width="2.2" />
<line x1="347.7" y1="1413.0" x2="347.7" y2="1419.5" stroke="#333333" stroke-width="2.2" />
<text x="347.7" y="1453.0" font-size="35" text-anchor="middle" fill="#000" font-weight="normal" >10</text>
<line x1="420.0" y1="1413.0" x2="420.0" y2="1416.5" stroke="#333333" stroke-width="2.2" />
<line x1="492.3" y1="1413.0" x2="492.3" y2="1419.5" stroke="#333333" stroke-width="2.2" />
<text x="492.3" y="1453.0" font-size="35" text-anchor="middle" fill="#000" font-weight="normal" >20</text>
<line x1="564.6" y1="1413.0" x2="564.6" y2="1416.5" stroke="#333333" stroke-width="2.2" />
<line x1="636.9" y1="1413.0" x2="636.9" y2="1419.5" stroke="#333333" stroke-width="2.2" />
<text x="636.9" y="1453.0" font-size="35" text-anchor="middle" fill="#000" font-weight="normal" >30</text>
<line x1="709.2" y1="1413.0" x2="709.2" y2="1416.5" stroke="#333333" stroke-width="2.2" />
<line x1="781.5" y1="1413.0" x2="781.5" y2="1419.5" stroke="#333333" stroke-width="2.2" />
<text x="781.5" y="1453.0" font-size="35" text-anchor="middle" fill="#000" font-weight="normal" >40</text>
<line x1="853.8" y1="1413.0" x2="853.8" y2="1416.5" stroke="#333333" stroke-width="2.2" />
<line x1="926.1" y1="1413.0" x2="926.1" y2="1419.5" stroke="#333333" stroke-width="2.2" />
<text x="926.1" y="1453.0" font-size="35" text-anchor="middle" fill="#000" font-weight="normal" >50</text>
<text x="566.5" y="1501.4" font-size="35.5" text-anchor="middle" fill="#000" font-weight="normal" >Number of stacking layers</text>
<text transform="translate(55.5,1236) rotate(-90)" font-size="35.5" text-anchor="middle">Probability of</text>
<text transform="translate(101,1227) rotate(-90)" font-size="35.5" text-anchor="middle">pore overlapping (%)</text>
<text x="4.0" y="1042.3" font-size="46" text-anchor="start" fill="#000" font-weight="bold" >f</text>
<polyline points="232.0,1072.0 246.5,1072.0 260.9,1072.0 275.4,1072.0 289.9,1072.0 304.3,1072.0 318.8,1072.0 333.2,1072.0 347.7,1072.0 362.2,1072.0 376.6,1072.0 391.1,1072.0 405.5,1072.0 420.0,1072.0 434.5,1072.0 448.9,1072.0 463.4,1072.0 477.8,1072.0 492.3,1072.0 506.8,1072.0 521.2,1072.0 535.7,1072.0 550.1,1072.0 564.6,1072.0 579.1,1072.0 593.5,1072.0 608.0,1072.0 622.4,1072.0 636.9,1072.0 651.4,1072.0 665.8,1072.0 680.3,1072.0 694.7,1072.0 709.2,1072.0 723.7,1072.0 738.1,1072.0 752.6,1072.0 767.0,1072.0 781.5,1072.0 796.0,1072.0 810.4,1072.0 824.9,1072.0 839.3,1072.0 853.8,1072.0 868.3,1072.0 882.7,1072.0 897.2,1072.0 911.6,1072.0 926.1,1072.0" fill="none" stroke="#e0524a" stroke-width="3"/>
<circle cx="232.0" cy="1072.0" r="8.2" fill="url(#sR)"/>
<circle cx="246.5" cy="1072.0" r="8.2" fill="url(#sR)"/>
<circle cx="260.9" cy="1072.0" r="8.2" fill="url(#sR)"/>
<circle cx="275.4" cy="1072.0" r="8.2" fill="url(#sR)"/>
<circle cx="289.9" cy="1072.0" r="8.2" fill="url(#sR)"/>
<circle cx="304.3" cy="1072.0" r="8.2" fill="url(#sR)"/>
<circle cx="318.8" cy="1072.0" r="8.2" fill="url(#sR)"/>
<circle cx="333.2" cy="1072.0" r="8.2" fill="url(#sR)"/>
<circle cx="347.7" cy="1072.0" r="8.2" fill="url(#sR)"/>
<circle cx="362.2" cy="1072.0" r="8.2" fill="url(#sR)"/>
<circle cx="376.6" cy="1072.0" r="8.2" fill="url(#sR)"/>
<circle cx="391.1" cy="1072.0" r="8.2" fill="url(#sR)"/>
<circle cx="405.5" cy="1072.0" r="8.2" fill="url(#sR)"/>
<circle cx="420.0" cy="1072.0" r="8.2" fill="url(#sR)"/>
<circle cx="434.5" cy="1072.0" r="8.2" fill="url(#sR)"/>
<circle cx="448.9" cy="1072.0" r="8.2" fill="url(#sR)"/>
<circle cx="463.4" cy="1072.0" r="8.2" fill="url(#sR)"/>
<circle cx="477.8" cy="1072.0" r="8.2" fill="url(#sR)"/>
<circle cx="492.3" cy="1072.0" r="8.2" fill="url(#sR)"/>
<circle cx="506.8" cy="1072.0" r="8.2" fill="url(#sR)"/>
<circle cx="521.2" cy="1072.0" r="8.2" fill="url(#sR)"/>
<circle cx="535.7" cy="1072.0" r="8.2" fill="url(#sR)"/>
<circle cx="550.1" cy="1072.0" r="8.2" fill="url(#sR)"/>
<circle cx="564.6" cy="1072.0" r="8.2" fill="url(#sR)"/>
<circle cx="579.1" cy="1072.0" r="8.2" fill="url(#sR)"/>
<circle cx="593.5" cy="1072.0" r="8.2" fill="url(#sR)"/>
<circle cx="608.0" cy="1072.0" r="8.2" fill="url(#sR)"/>
<circle cx="622.4" cy="1072.0" r="8.2" fill="url(#sR)"/>
<circle cx="636.9" cy="1072.0" r="8.2" fill="url(#sR)"/>
<circle cx="651.4" cy="1072.0" r="8.2" fill="url(#sR)"/>
<circle cx="665.8" cy="1072.0" r="8.2" fill="url(#sR)"/>
<circle cx="680.3" cy="1072.0" r="8.2" fill="url(#sR)"/>
<circle cx="694.7" cy="1072.0" r="8.2" fill="url(#sR)"/>
<circle cx="709.2" cy="1072.0" r="8.2" fill="url(#sR)"/>
<circle cx="723.7" cy="1072.0" r="8.2" fill="url(#sR)"/>
<circle cx="738.1" cy="1072.0" r="8.2" fill="url(#sR)"/>
<circle cx="752.6" cy="1072.0" r="8.2" fill="url(#sR)"/>
<circle cx="767.0" cy="1072.0" r="8.2" fill="url(#sR)"/>
<circle cx="781.5" cy="1072.0" r="8.2" fill="url(#sR)"/>
<circle cx="796.0" cy="1072.0" r="8.2" fill="url(#sR)"/>
<circle cx="810.4" cy="1072.0" r="8.2" fill="url(#sR)"/>
<circle cx="824.9" cy="1072.0" r="8.2" fill="url(#sR)"/>
<circle cx="839.3" cy="1072.0" r="8.2" fill="url(#sR)"/>
<circle cx="853.8" cy="1072.0" r="8.2" fill="url(#sR)"/>
<circle cx="868.3" cy="1072.0" r="8.2" fill="url(#sR)"/>
<circle cx="882.7" cy="1072.0" r="8.2" fill="url(#sR)"/>
<circle cx="897.2" cy="1072.0" r="8.2" fill="url(#sR)"/>
<circle cx="911.6" cy="1072.0" r="8.2" fill="url(#sR)"/>
<circle cx="926.1" cy="1072.0" r="8.2" fill="url(#sR)"/>
<polyline points="232.0,1358.7 246.5,1380.7 260.9,1381.3 275.4,1381.6 289.9,1381.7 304.3,1381.8 318.8,1381.9 333.2,1381.9 347.7,1381.9 362.2,1381.9 376.6,1381.9 391.1,1381.9 405.5,1381.9 420.0,1381.9 434.5,1381.9 448.9,1381.9 463.4,1381.9 477.8,1381.9 492.3,1381.9 506.8,1381.9 521.2,1381.9 535.7,1381.9 550.1,1381.9 564.6,1381.9 579.1,1381.9 593.5,1381.9 608.0,1381.9 622.4,1381.9 636.9,1381.9 651.4,1381.9 665.8,1381.9 680.3,1381.9 694.7,1381.9 709.2,1381.9 723.7,1381.9 738.1,1381.9 752.6,1381.9 767.0,1381.9 781.5,1381.9 796.0,1381.9 810.4,1381.9 824.9,1381.9 839.3,1381.9 853.8,1381.9 868.3,1381.9 882.7,1381.9 897.2,1381.9 911.6,1381.9 926.1,1381.9" fill="none" stroke="#5886e0" stroke-width="3"/>
<circle cx="232.0" cy="1358.7" r="8.2" fill="url(#sB)"/>
<circle cx="246.5" cy="1380.7" r="8.2" fill="url(#sB)"/>
<circle cx="260.9" cy="1381.3" r="8.2" fill="url(#sB)"/>
<circle cx="275.4" cy="1381.6" r="8.2" fill="url(#sB)"/>
<circle cx="289.9" cy="1381.7" r="8.2" fill="url(#sB)"/>
<circle cx="304.3" cy="1381.8" r="8.2" fill="url(#sB)"/>
<circle cx="318.8" cy="1381.9" r="8.2" fill="url(#sB)"/>
<circle cx="333.2" cy="1381.9" r="8.2" fill="url(#sB)"/>
<circle cx="347.7" cy="1381.9" r="8.2" fill="url(#sB)"/>
<circle cx="362.2" cy="1381.9" r="8.2" fill="url(#sB)"/>
<circle cx="376.6" cy="1381.9" r="8.2" fill="url(#sB)"/>
<circle cx="391.1" cy="1381.9" r="8.2" fill="url(#sB)"/>
<circle cx="405.5" cy="1381.9" r="8.2" fill="url(#sB)"/>
<circle cx="420.0" cy="1381.9" r="8.2" fill="url(#sB)"/>
<circle cx="434.5" cy="1381.9" r="8.2" fill="url(#sB)"/>
<circle cx="448.9" cy="1381.9" r="8.2" fill="url(#sB)"/>
<circle cx="463.4" cy="1381.9" r="8.2" fill="url(#sB)"/>
<circle cx="477.8" cy="1381.9" r="8.2" fill="url(#sB)"/>
<circle cx="492.3" cy="1381.9" r="8.2" fill="url(#sB)"/>
<circle cx="506.8" cy="1381.9" r="8.2" fill="url(#sB)"/>
<circle cx="521.2" cy="1381.9" r="8.2" fill="url(#sB)"/>
<circle cx="535.7" cy="1381.9" r="8.2" fill="url(#sB)"/>
<circle cx="550.1" cy="1381.9" r="8.2" fill="url(#sB)"/>
<circle cx="564.6" cy="1381.9" r="8.2" fill="url(#sB)"/>
<circle cx="579.1" cy="1381.9" r="8.2" fill="url(#sB)"/>
<circle cx="593.5" cy="1381.9" r="8.2" fill="url(#sB)"/>
<circle cx="608.0" cy="1381.9" r="8.2" fill="url(#sB)"/>
<circle cx="622.4" cy="1381.9" r="8.2" fill="url(#sB)"/>
<circle cx="636.9" cy="1381.9" r="8.2" fill="url(#sB)"/>
<circle cx="651.4" cy="1381.9" r="8.2" fill="url(#sB)"/>
<circle cx="665.8" cy="1381.9" r="8.2" fill="url(#sB)"/>
<circle cx="680.3" cy="1381.9" r="8.2" fill="url(#sB)"/>
<circle cx="694.7" cy="1381.9" r="8.2" fill="url(#sB)"/>
<circle cx="709.2" cy="1381.9" r="8.2" fill="url(#sB)"/>
<circle cx="723.7" cy="1381.9" r="8.2" fill="url(#sB)"/>
<circle cx="738.1" cy="1381.9" r="8.2" fill="url(#sB)"/>
<circle cx="752.6" cy="1381.9" r="8.2" fill="url(#sB)"/>
<circle cx="767.0" cy="1381.9" r="8.2" fill="url(#sB)"/>
<circle cx="781.5" cy="1381.9" r="8.2" fill="url(#sB)"/>
<circle cx="796.0" cy="1381.9" r="8.2" fill="url(#sB)"/>
<circle cx="810.4" cy="1381.9" r="8.2" fill="url(#sB)"/>
<circle cx="824.9" cy="1381.9" r="8.2" fill="url(#sB)"/>
<circle cx="839.3" cy="1381.9" r="8.2" fill="url(#sB)"/>
<circle cx="853.8" cy="1381.9" r="8.2" fill="url(#sB)"/>
<circle cx="868.3" cy="1381.9" r="8.2" fill="url(#sB)"/>
<circle cx="882.7" cy="1381.9" r="8.2" fill="url(#sB)"/>
<circle cx="897.2" cy="1381.9" r="8.2" fill="url(#sB)"/>
<circle cx="911.6" cy="1381.9" r="8.2" fill="url(#sB)"/>
<circle cx="926.1" cy="1381.9" r="8.2" fill="url(#sB)"/>
<polyline points="232.0,1138.6 246.5,1192.1 260.9,1233.9 275.4,1266.5 289.9,1291.9 304.3,1311.7 318.8,1327.1 333.2,1339.2 347.7,1348.6 362.2,1355.9 376.6,1361.6 391.1,1366.1 405.5,1369.6 420.0,1372.3 434.5,1374.4 448.9,1376.0 463.4,1377.3 477.8,1378.3 492.3,1379.1 506.8,1379.7 521.2,1380.2 535.7,1380.6 550.1,1380.9 564.6,1381.1 579.1,1381.3 593.5,1381.4 608.0,1381.5 622.4,1381.6 636.9,1381.7 651.4,1381.7 665.8,1381.8 680.3,1381.8 694.7,1381.8 709.2,1381.8 723.7,1381.8 738.1,1381.9 752.6,1381.9 767.0,1381.9 781.5,1381.9 796.0,1381.9 810.4,1381.9 824.9,1381.9 839.3,1381.9 853.8,1381.9 868.3,1381.9 882.7,1381.9 897.2,1381.9 911.6,1381.9 926.1,1381.9" fill="none" stroke="#f3942f" stroke-width="3"/>
<circle cx="232.0" cy="1138.6" r="8.2" fill="url(#sO)"/>
<circle cx="246.5" cy="1192.1" r="8.2" fill="url(#sO)"/>
<circle cx="260.9" cy="1233.9" r="8.2" fill="url(#sO)"/>
<circle cx="275.4" cy="1266.5" r="8.2" fill="url(#sO)"/>
<circle cx="289.9" cy="1291.9" r="8.2" fill="url(#sO)"/>
<circle cx="304.3" cy="1311.7" r="8.2" fill="url(#sO)"/>
<circle cx="318.8" cy="1327.1" r="8.2" fill="url(#sO)"/>
<circle cx="333.2" cy="1339.2" r="8.2" fill="url(#sO)"/>
<circle cx="347.7" cy="1348.6" r="8.2" fill="url(#sO)"/>
<circle cx="362.2" cy="1355.9" r="8.2" fill="url(#sO)"/>
<circle cx="376.6" cy="1361.6" r="8.2" fill="url(#sO)"/>
<circle cx="391.1" cy="1366.1" r="8.2" fill="url(#sO)"/>
<circle cx="405.5" cy="1369.6" r="8.2" fill="url(#sO)"/>
<circle cx="420.0" cy="1372.3" r="8.2" fill="url(#sO)"/>
<circle cx="434.5" cy="1374.4" r="8.2" fill="url(#sO)"/>
<circle cx="448.9" cy="1376.0" r="8.2" fill="url(#sO)"/>
<circle cx="463.4" cy="1377.3" r="8.2" fill="url(#sO)"/>
<circle cx="477.8" cy="1378.3" r="8.2" fill="url(#sO)"/>
<circle cx="492.3" cy="1379.1" r="8.2" fill="url(#sO)"/>
<circle cx="506.8" cy="1379.7" r="8.2" fill="url(#sO)"/>
<circle cx="521.2" cy="1380.2" r="8.2" fill="url(#sO)"/>
<circle cx="535.7" cy="1380.6" r="8.2" fill="url(#sO)"/>
<circle cx="550.1" cy="1380.9" r="8.2" fill="url(#sO)"/>
<circle cx="564.6" cy="1381.1" r="8.2" fill="url(#sO)"/>
<circle cx="579.1" cy="1381.3" r="8.2" fill="url(#sO)"/>
<circle cx="593.5" cy="1381.4" r="8.2" fill="url(#sO)"/>
<circle cx="608.0" cy="1381.5" r="8.2" fill="url(#sO)"/>
<circle cx="622.4" cy="1381.6" r="8.2" fill="url(#sO)"/>
<circle cx="636.9" cy="1381.7" r="8.2" fill="url(#sO)"/>
<circle cx="651.4" cy="1381.7" r="8.2" fill="url(#sO)"/>
<circle cx="665.8" cy="1381.8" r="8.2" fill="url(#sO)"/>
<circle cx="680.3" cy="1381.8" r="8.2" fill="url(#sO)"/>
<circle cx="694.7" cy="1381.8" r="8.2" fill="url(#sO)"/>
<circle cx="709.2" cy="1381.8" r="8.2" fill="url(#sO)"/>
<circle cx="723.7" cy="1381.8" r="8.2" fill="url(#sO)"/>
<circle cx="738.1" cy="1381.9" r="8.2" fill="url(#sO)"/>
<circle cx="752.6" cy="1381.9" r="8.2" fill="url(#sO)"/>
<circle cx="767.0" cy="1381.9" r="8.2" fill="url(#sO)"/>
<circle cx="781.5" cy="1381.9" r="8.2" fill="url(#sO)"/>
<circle cx="796.0" cy="1381.9" r="8.2" fill="url(#sO)"/>
<circle cx="810.4" cy="1381.9" r="8.2" fill="url(#sO)"/>
<circle cx="824.9" cy="1381.9" r="8.2" fill="url(#sO)"/>
<circle cx="839.3" cy="1381.9" r="8.2" fill="url(#sO)"/>
<circle cx="853.8" cy="1381.9" r="8.2" fill="url(#sO)"/>
<circle cx="868.3" cy="1381.9" r="8.2" fill="url(#sO)"/>
<circle cx="882.7" cy="1381.9" r="8.2" fill="url(#sO)"/>
<circle cx="897.2" cy="1381.9" r="8.2" fill="url(#sO)"/>
<circle cx="911.6" cy="1381.9" r="8.2" fill="url(#sO)"/>
<circle cx="926.1" cy="1381.9" r="8.2" fill="url(#sO)"/>
<line x1="270.2" y1="1113.9" x2="316.0" y2="1113.9" stroke="#e0524a" stroke-width="4" />
<circle cx="292.8" cy="1113.4" r="8.6" fill="url(#sR)"/>
<text x="333.8" y="1120.0" font-size="36.3" text-anchor="start" fill="#2a2a2a" font-weight="normal" >O<tspan dy="9.8" font-size="23.5">3</tspan><tspan dy="-9.8">​</tspan>-180 s</text>
<line x1="270.2" y1="1165.7" x2="316.0" y2="1165.7" stroke="#f3942f" stroke-width="4" />
<circle cx="292.8" cy="1165.2" r="8.6" fill="url(#sO)"/>
<text x="333.8" y="1171.8" font-size="36.3" text-anchor="start" fill="#2a2a2a" font-weight="normal" >O<tspan dy="9.8" font-size="23.5">3</tspan><tspan dy="-9.8">​</tspan>-60 s</text>
<line x1="270.2" y1="1217.2" x2="316.0" y2="1217.2" stroke="#5886e0" stroke-width="4" />
<circle cx="292.8" cy="1216.7" r="8.6" fill="url(#sB)"/>
<text x="333.8" y="1223.3" font-size="36.3" text-anchor="start" fill="#2a2a2a" font-weight="normal" >O<tspan dy="9.8" font-size="23.5">3</tspan><tspan dy="-9.8">​</tspan>-30 s</text>
<path d="M460.2,1222.5 L560.0,1295.7 L674.0,1231.0 L674.0,1228.0 L560.0,1292.7 L460.2,1219.5 Z" fill="#eaa752" stroke="#dc9a45" stroke-width="0.8"/>
<path d="M460.2,1218.8 L560.0,1292.0 L674.0,1227.2 L674.0,1224.2 L560.0,1289.0 L460.2,1215.8 Z" fill="#eaa752" stroke="#dc9a45" stroke-width="0.8"/>
<path d="M460.2,1215.0 L560.0,1288.2 L674.0,1223.5 L674.0,1220.5 L560.0,1285.2 L460.2,1212.0 Z" fill="#eaa752" stroke="#dc9a45" stroke-width="0.8"/>
<path d="M460.2,1211.2 L560.0,1284.5 L674.0,1219.8 L674.0,1216.8 L560.0,1281.5 L460.2,1208.2 Z" fill="#eaa752" stroke="#dc9a45" stroke-width="0.8"/>
<path d="M568.5,1167.6 Q621.2,1188.8 674.0,1216.0 Q617.0,1250.3 560.0,1280.7 Q510.1,1247.1 460.2,1207.5 Q514.4,1185.5 568.5,1167.6 Z" fill="#f5b662"/>
<ellipse cx="567.9" cy="1182.2" rx="11.0" ry="6.0" fill="#e9a24c"/>
<path d="M556.9,1182.2 A11.0,6.0 0 0 1 578.9,1182.2 A11.0,3.3 0 0 0 556.9,1182.2 Z" fill="#b87a2a"/>
<ellipse cx="517.8" cy="1215.4" rx="12.6" ry="7.0" fill="#e9a24c"/>
<path d="M505.2,1215.4 A12.6,7.0 0 0 1 530.4,1215.4 A12.6,3.9 0 0 0 505.2,1215.4 Z" fill="#b87a2a"/>
<ellipse cx="619.1" cy="1227.8" rx="13.5" ry="7.0" fill="#e9a24c"/>
<path d="M605.6,1227.8 A13.5,7.0 0 0 1 632.6,1227.8 A13.5,3.9 0 0 0 605.6,1227.8 Z" fill="#b87a2a"/>
<ellipse cx="562.3" cy="1253.1" rx="13.5" ry="8.0" fill="#e9a24c"/>
<path d="M548.8,1253.1 A13.5,8.0 0 0 1 575.8,1253.1 A13.5,4.4 0 0 0 548.8,1253.1 Z" fill="#b87a2a"/>
<path d="M699.3,1143.4 L799.1,1215.1 L913.0,1149.0 L913.0,1146.0 L799.1,1212.1 L699.3,1140.4 Z" fill="#eaa752" stroke="#dc9a45" stroke-width="0.8"/>
<path d="M699.3,1139.4 L799.1,1211.1 L913.0,1145.0 L913.0,1142.0 L799.1,1208.1 L699.3,1136.4 Z" fill="#eaa752" stroke="#dc9a45" stroke-width="0.8"/>
<path d="M699.3,1135.4 L799.1,1207.1 L913.0,1141.0 L913.0,1138.0 L799.1,1204.1 L699.3,1132.4 Z" fill="#eaa752" stroke="#dc9a45" stroke-width="0.8"/>
<path d="M699.3,1131.4 L799.1,1203.1 L913.0,1137.0 L913.0,1134.0 L799.1,1200.1 L699.3,1128.4 Z" fill="#eaa752" stroke="#dc9a45" stroke-width="0.8"/>
<path d="M801.9,1086.6 Q857.5,1106.8 913.0,1133.0 Q856.0,1168.0 799.1,1199.1 Q749.2,1166.2 699.3,1127.4 Q750.6,1105.0 801.9,1086.6 Z" fill="#f5b662"/>
<ellipse cx="793.5" cy="1107.7" rx="16.0" ry="8.0" fill="#fff"/>
<path d="M777.5,1107.7 A16.0,8.0 0 0 1 809.5,1107.7 A16.0,4.4 0 0 0 777.5,1107.7 Z" fill="#b87a2a"/>
<path d="M779.1,1106.9 A14.4,4.0 0 0 1 807.9,1106.9" fill="none" stroke="#d89440" stroke-width="1.5"/>
<ellipse cx="829.5" cy="1117.5" rx="17.0" ry="8.0" fill="#fff"/>
<path d="M812.5,1117.5 A17.0,8.0 0 0 1 846.5,1117.5 A17.0,4.4 0 0 0 812.5,1117.5 Z" fill="#b87a2a"/>
<path d="M814.2,1116.7 A15.3,4.0 0 0 1 844.8,1116.7" fill="none" stroke="#d89440" stroke-width="1.5"/>
<ellipse cx="745.7" cy="1131.6" rx="18.0" ry="9.0" fill="#fff"/>
<path d="M727.7,1131.6 A18.0,9.0 0 0 1 763.7,1131.6 A18.0,5.0 0 0 0 727.7,1131.6 Z" fill="#b87a2a"/>
<path d="M729.5,1130.7 A16.2,4.5 0 0 1 761.9,1130.7" fill="none" stroke="#d89440" stroke-width="1.5"/>
<ellipse cx="799.1" cy="1136.6" rx="17.0" ry="9.0" fill="#fff"/>
<path d="M782.1,1136.6 A17.0,9.0 0 0 1 816.1,1136.6 A17.0,5.0 0 0 0 782.1,1136.6 Z" fill="#b87a2a"/>
<path d="M783.8,1135.7 A15.3,4.5 0 0 1 814.4,1135.7" fill="none" stroke="#d89440" stroke-width="1.5"/>
<ellipse cx="869.4" cy="1141.4" rx="18.0" ry="9.0" fill="#fff"/>
<path d="M851.4,1141.4 A18.0,9.0 0 0 1 887.4,1141.4 A18.0,5.0 0 0 0 851.4,1141.4 Z" fill="#b87a2a"/>
<path d="M853.2,1140.5 A16.2,4.5 0 0 1 885.6,1140.5" fill="none" stroke="#d89440" stroke-width="1.5"/>
<ellipse cx="806.2" cy="1173.8" rx="16.0" ry="10.0" fill="#fff"/>
<path d="M790.2,1173.8 A16.0,10.0 0 0 1 822.2,1173.8 A16.0,5.5 0 0 0 790.2,1173.8 Z" fill="#b87a2a"/>
<path d="M791.8,1172.8 A14.4,5.0 0 0 1 820.6,1172.8" fill="none" stroke="#d89440" stroke-width="1.5"/>
<text x="562.7" y="1321.4" font-size="36" text-anchor="middle" fill="#333" font-weight="normal" >Non-overlapping</text>
<text x="562.1" y="1355.2" font-size="36" text-anchor="middle" fill="#333" font-weight="normal" >pores</text>
<text x="806.8" y="1246.9" font-size="36" text-anchor="middle" fill="#333" font-weight="normal" >Overlapping</text>
<text x="806.9" y="1281.2" font-size="36" text-anchor="middle" fill="#333" font-weight="normal" >pores</text>
<path d="M654.3,1081 Q656,1125 684,1146" fill="none" stroke="#e04848" stroke-width="5"/>
<path d="M693.5,1154 L673,1153 L688,1135 Z" fill="#e04848"/>
<path d="M391.5,1339 Q395,1300 429,1285" fill="none" stroke="url(#garr)" stroke-width="4.6"/>
<path d="M443,1274.5 L424.5,1277 L434.5,1293 Z" fill="#f58a2c"/>
<g clip-path="url(#hclip)"><g filter="url(#hblur)"><rect x="1170.0" y="1025.3" width="15.6" height="14.9" fill="#87669b"/><rect x="1185.0" y="1025.3" width="15.6" height="14.9" fill="#886ea3"/><rect x="1200.0" y="1025.3" width="15.6" height="14.9" fill="#8484b0"/><rect x="1215.0" y="1025.3" width="15.6" height="14.9" fill="#7b99b5"/><rect x="1230.0" y="1025.3" width="15.6" height="14.9" fill="#72aeb5"/><rect x="1245.0" y="1025.3" width="15.6" height="14.9" fill="#6fc2b1"/><rect x="1259.9" y="1025.3" width="15.6" height="14.9" fill="#81d3a4"/><rect x="1274.9" y="1025.3" width="15.6" height="14.9" fill="#a0de93"/><rect x="1289.9" y="1025.3" width="15.6" height="14.9" fill="#bee680"/><rect x="1304.9" y="1025.3" width="15.6" height="14.9" fill="#d5ea72"/><rect x="1319.9" y="1025.3" width="15.6" height="14.9" fill="#e5ec72"/><rect x="1334.9" y="1025.3" width="15.6" height="14.9" fill="#efee72"/><rect x="1349.9" y="1025.3" width="15.6" height="14.9" fill="#f6ee71"/><rect x="1364.9" y="1025.3" width="15.6" height="14.9" fill="#f9ef71"/><rect x="1379.9" y="1025.3" width="15.6" height="14.9" fill="#fbef71"/><rect x="1394.8" y="1025.3" width="15.6" height="14.9" fill="#fdef71"/><rect x="1409.8" y="1025.3" width="15.6" height="14.9" fill="#fdef71"/><rect x="1424.8" y="1025.3" width="15.6" height="14.9" fill="#fdef71"/><rect x="1439.8" y="1025.3" width="15.6" height="14.9" fill="#feef71"/><rect x="1454.8" y="1025.3" width="15.6" height="14.9" fill="#feef71"/><rect x="1469.8" y="1025.3" width="15.6" height="14.9" fill="#feef71"/><rect x="1484.8" y="1025.3" width="15.6" height="14.9" fill="#feef71"/><rect x="1499.8" y="1025.3" width="15.6" height="14.9" fill="#feef71"/><rect x="1514.8" y="1025.3" width="15.6" height="14.9" fill="#feef71"/><rect x="1529.7" y="1025.3" width="15.6" height="14.9" fill="#feef71"/><rect x="1544.7" y="1025.3" width="15.6" height="14.9" fill="#feef71"/><rect x="1559.7" y="1025.3" width="15.6" height="14.9" fill="#feef71"/><rect x="1574.7" y="1025.3" width="15.6" height="14.9" fill="#feef71"/><rect x="1589.7" y="1025.3" width="15.6" height="14.9" fill="#feef71"/><rect x="1604.7" y="1025.3" width="15.6" height="14.9" fill="#feef71"/><rect x="1619.7" y="1025.3" width="15.6" height="14.9" fill="#feef71"/><rect x="1634.7" y="1025.3" width="15.6" height="14.9" fill="#feef71"/><rect x="1649.6" y="1025.3" width="15.6" height="14.9" fill="#feef71"/><rect x="1664.6" y="1025.3" width="15.6" height="14.9" fill="#feef71"/><rect x="1679.6" y="1025.3" width="15.6" height="14.9" fill="#feef71"/><rect x="1694.6" y="1025.3" width="15.6" height="14.9" fill="#feef71"/><rect x="1709.6" y="1025.3" width="15.6" height="14.9" fill="#feef71"/><rect x="1724.6" y="1025.3" width="15.6" height="14.9" fill="#feef71"/><rect x="1739.6" y="1025.3" width="15.6" height="14.9" fill="#feef71"/><rect x="1754.6" y="1025.3" width="15.6" height="14.9" fill="#feef71"/><rect x="1769.6" y="1025.3" width="15.6" height="14.9" fill="#feef71"/><rect x="1784.5" y="1025.3" width="15.6" height="14.9" fill="#feef71"/><rect x="1799.5" y="1025.3" width="15.6" height="14.9" fill="#feef71"/><rect x="1814.5" y="1025.3" width="15.6" height="14.9" fill="#feef71"/><rect x="1829.5" y="1025.3" width="15.6" height="14.9" fill="#feef71"/><rect x="1844.5" y="1025.3" width="15.6" height="14.9" fill="#feef71"/><rect x="1170.0" y="1039.6" width="15.6" height="14.9" fill="#87659b"/><rect x="1185.0" y="1039.6" width="15.6" height="14.9" fill="#886ea3"/><rect x="1200.0" y="1039.6" width="15.6" height="14.9" fill="#8483af"/><rect x="1215.0" y="1039.6" width="15.6" height="14.9" fill="#7b98b5"/><rect x="1230.0" y="1039.6" width="15.6" height="14.9" fill="#73adb5"/><rect x="1245.0" y="1039.6" width="15.6" height="14.9" fill="#6fc0b1"/><rect x="1259.9" y="1039.6" width="15.6" height="14.9" fill="#7fd1a6"/><rect x="1274.9" y="1039.6" width="15.6" height="14.9" fill="#9ddd95"/><rect x="1289.9" y="1039.6" width="15.6" height="14.9" fill="#bae583"/><rect x="1304.9" y="1039.6" width="15.6" height="14.9" fill="#d2ea73"/><rect x="1319.9" y="1039.6" width="15.6" height="14.9" fill="#e3ec72"/><rect x="1334.9" y="1039.6" width="15.6" height="14.9" fill="#eded72"/><rect x="1349.9" y="1039.6" width="15.6" height="14.9" fill="#f4ee71"/><rect x="1364.9" y="1039.6" width="15.6" height="14.9" fill="#f9ef71"/><rect x="1379.9" y="1039.6" width="15.6" height="14.9" fill="#fbef71"/><rect x="1394.8" y="1039.6" width="15.6" height="14.9" fill="#fcef71"/><rect x="1409.8" y="1039.6" width="15.6" height="14.9" fill="#fdef71"/><rect x="1424.8" y="1039.6" width="15.6" height="14.9" fill="#fdef71"/><rect x="1439.8" y="1039.6" width="15.6" height="14.9" fill="#feef71"/><rect x="1454.8" y="1039.6" width="15.6" height="14.9" fill="#feef71"/><rect x="1469.8" y="1039.6" width="15.6" height="14.9" fill="#feef71"/><rect x="1484.8" y="1039.6" width="15.6" height="14.9" fill="#feef71"/><rect x="1499.8" y="1039.6" width="15.6" height="14.9" fill="#feef71"/><rect x="1514.8" y="1039.6" width="15.6" height="14.9" fill="#feef71"/><rect x="1529.7" y="1039.6" width="15.6" height="14.9" fill="#feef71"/><rect x="1544.7" y="1039.6" width="15.6" height="14.9" fill="#feef71"/><rect x="1559.7" y="1039.6" width="15.6" height="14.9" fill="#feef71"/><rect x="1574.7" y="1039.6" width="15.6" height="14.9" fill="#feef71"/><rect x="1589.7" y="1039.6" width="15.6" height="14.9" fill="#feef71"/><rect x="1604.7" y="1039.6" width="15.6" height="14.9" fill="#feef71"/><rect x="1619.7" y="1039.6" width="15.6" height="14.9" fill="#feef71"/><rect x="1634.7" y="1039.6" width="15.6" height="14.9" fill="#feef71"/><rect x="1649.6" y="1039.6" width="15.6" height="14.9" fill="#feef71"/><rect x="1664.6" y="1039.6" width="15.6" height="14.9" fill="#feef71"/><rect x="1679.6" y="1039.6" width="15.6" height="14.9" fill="#feef71"/><rect x="1694.6" y="1039.6" width="15.6" height="14.9" fill="#feef71"/><rect x="1709.6" y="1039.6" width="15.6" height="14.9" fill="#feef71"/><rect x="1724.6" y="1039.6" width="15.6" height="14.9" fill="#feef71"/><rect x="1739.6" y="1039.6" width="15.6" height="14.9" fill="#feef71"/><rect x="1754.6" y="1039.6" width="15.6" height="14.9" fill="#feef71"/><rect x="1769.6" y="1039.6" width="15.6" height="14.9" fill="#feef71"/><rect x="1784.5" y="1039.6" width="15.6" height="14.9" fill="#feef71"/><rect x="1799.5" y="1039.6" width="15.6" height="14.9" fill="#feef71"/><rect x="1814.5" y="1039.6" width="15.6" height="14.9" fill="#feef71"/><rect x="1829.5" y="1039.6" width="15.6" height="14.9" fill="#feef71"/><rect x="1844.5" y="1039.6" width="15.6" height="14.9" fill="#feef71"/><rect x="1170.0" y="1053.9" width="15.6" height="14.9" fill="#87659a"/><rect x="1185.0" y="1053.9" width="15.6" height="14.9" fill="#886da2"/><rect x="1200.0" y="1053.9" width="15.6" height="14.9" fill="#8481ae"/><rect x="1215.0" y="1053.9" width="15.6" height="14.9" fill="#7c96b5"/><rect x="1230.0" y="1053.9" width="15.6" height="14.9" fill="#73aab5"/><rect x="1245.0" y="1053.9" width="15.6" height="14.9" fill="#6fbeb2"/><rect x="1259.9" y="1053.9" width="15.6" height="14.9" fill="#7bcea8"/><rect x="1274.9" y="1053.9" width="15.6" height="14.9" fill="#96db99"/><rect x="1289.9" y="1053.9" width="15.6" height="14.9" fill="#b3e387"/><rect x="1304.9" y="1053.9" width="15.6" height="14.9" fill="#cce977"/><rect x="1319.9" y="1053.9" width="15.6" height="14.9" fill="#deeb72"/><rect x="1334.9" y="1053.9" width="15.6" height="14.9" fill="#eaed72"/><rect x="1349.9" y="1053.9" width="15.6" height="14.9" fill="#f2ee71"/><rect x="1364.9" y="1053.9" width="15.6" height="14.9" fill="#f7ef71"/><rect x="1379.9" y="1053.9" width="15.6" height="14.9" fill="#faef71"/><rect x="1394.8" y="1053.9" width="15.6" height="14.9" fill="#fcef71"/><rect x="1409.8" y="1053.9" width="15.6" height="14.9" fill="#fdef71"/><rect x="1424.8" y="1053.9" width="15.6" height="14.9" fill="#fdef71"/><rect x="1439.8" y="1053.9" width="15.6" height="14.9" fill="#fdef71"/><rect x="1454.8" y="1053.9" width="15.6" height="14.9" fill="#feef71"/><rect x="1469.8" y="1053.9" width="15.6" height="14.9" fill="#feef71"/><rect x="1484.8" y="1053.9" width="15.6" height="14.9" fill="#feef71"/><rect x="1499.8" y="1053.9" width="15.6" height="14.9" fill="#feef71"/><rect x="1514.8" y="1053.9" width="15.6" height="14.9" fill="#feef71"/><rect x="1529.7" y="1053.9" width="15.6" height="14.9" fill="#feef71"/><rect x="1544.7" y="1053.9" width="15.6" height="14.9" fill="#feef71"/><rect x="1559.7" y="1053.9" width="15.6" height="14.9" fill="#feef71"/><rect x="1574.7" y="1053.9" width="15.6" height="14.9" fill="#feef71"/><rect x="1589.7" y="1053.9" width="15.6" height="14.9" fill="#feef71"/><rect x="1604.7" y="1053.9" width="15.6" height="14.9" fill="#feef71"/><rect x="1619.7" y="1053.9" width="15.6" height="14.9" fill="#feef71"/><rect x="1634.7" y="1053.9" width="15.6" height="14.9" fill="#feef71"/><rect x="1649.6" y="1053.9" width="15.6" height="14.9" fill="#feef71"/><rect x="1664.6" y="1053.9" width="15.6" height="14.9" fill="#feef71"/><rect x="1679.6" y="1053.9" width="15.6" height="14.9" fill="#feef71"/><rect x="1694.6" y="1053.9" width="15.6" height="14.9" fill="#feef71"/><rect x="1709.6" y="1053.9" width="15.6" height="14.9" fill="#feef71"/><rect x="1724.6" y="1053.9" width="15.6" height="14.9" fill="#feef71"/><rect x="1739.6" y="1053.9" width="15.6" height="14.9" fill="#feef71"/><rect x="1754.6" y="1053.9" width="15.6" height="14.9" fill="#feef71"/><rect x="1769.6" y="1053.9" width="15.6" height="14.9" fill="#feef71"/><rect x="1784.5" y="1053.9" width="15.6" height="14.9" fill="#feef71"/><rect x="1799.5" y="1053.9" width="15.6" height="14.9" fill="#feef71"/><rect x="1814.5" y="1053.9" width="15.6" height="14.9" fill="#feef71"/><rect x="1829.5" y="1053.9" width="15.6" height="14.9" fill="#feef71"/><rect x="1844.5" y="1053.9" width="15.6" height="14.9" fill="#feef71"/><rect x="1170.0" y="1068.3" width="15.6" height="14.9" fill="#87649a"/><rect x="1185.0" y="1068.3" width="15.6" height="14.9" fill="#886ca1"/><rect x="1200.0" y="1068.3" width="15.6" height="14.9" fill="#857fad"/><rect x="1215.0" y="1068.3" width="15.6" height="14.9" fill="#7d94b4"/><rect x="1230.0" y="1068.3" width="15.6" height="14.9" fill="#74a8b6"/><rect x="1245.0" y="1068.3" width="15.6" height="14.9" fill="#6fbbb3"/><rect x="1259.9" y="1068.3" width="15.6" height="14.9" fill="#77cbab"/><rect x="1274.9" y="1068.3" width="15.6" height="14.9" fill="#8fd99c"/><rect x="1289.9" y="1068.3" width="15.6" height="14.9" fill="#ace28c"/><rect x="1304.9" y="1068.3" width="15.6" height="14.9" fill="#c6e77b"/><rect x="1319.9" y="1068.3" width="15.6" height="14.9" fill="#d9eb72"/><rect x="1334.9" y="1068.3" width="15.6" height="14.9" fill="#e7ed72"/><rect x="1349.9" y="1068.3" width="15.6" height="14.9" fill="#efee72"/><rect x="1364.9" y="1068.3" width="15.6" height="14.9" fill="#f5ee71"/><rect x="1379.9" y="1068.3" width="15.6" height="14.9" fill="#f9ef71"/><rect x="1394.8" y="1068.3" width="15.6" height="14.9" fill="#fbef71"/><rect x="1409.8" y="1068.3" width="15.6" height="14.9" fill="#fcef71"/><rect x="1424.8" y="1068.3" width="15.6" height="14.9" fill="#fdef71"/><rect x="1439.8" y="1068.3" width="15.6" height="14.9" fill="#fdef71"/><rect x="1454.8" y="1068.3" width="15.6" height="14.9" fill="#feef71"/><rect x="1469.8" y="1068.3" width="15.6" height="14.9" fill="#feef71"/><rect x="1484.8" y="1068.3" width="15.6" height="14.9" fill="#feef71"/><rect x="1499.8" y="1068.3" width="15.6" height="14.9" fill="#feef71"/><rect x="1514.8" y="1068.3" width="15.6" height="14.9" fill="#feef71"/><rect x="1529.7" y="1068.3" width="15.6" height="14.9" fill="#feef71"/><rect x="1544.7" y="1068.3" width="15.6" height="14.9" fill="#feef71"/><rect x="1559.7" y="1068.3" width="15.6" height="14.9" fill="#feef71"/><rect x="1574.7" y="1068.3" width="15.6" height="14.9" fill="#feef71"/><rect x="1589.7" y="1068.3" width="15.6" height="14.9" fill="#feef71"/><rect x="1604.7" y="1068.3" width="15.6" height="14.9" fill="#feef71"/><rect x="1619.7" y="1068.3" width="15.6" height="14.9" fill="#feef71"/><rect x="1634.7" y="1068.3" width="15.6" height="14.9" fill="#feef71"/><rect x="1649.6" y="1068.3" width="15.6" height="14.9" fill="#feef71"/><rect x="1664.6" y="1068.3" width="15.6" height="14.9" fill="#feef71"/><rect x="1679.6" y="1068.3" width="15.6" height="14.9" fill="#feef71"/><rect x="1694.6" y="1068.3" width="15.6" height="14.9" fill="#feef71"/><rect x="1709.6" y="1068.3" width="15.6" height="14.9" fill="#feef71"/><rect x="1724.6" y="1068.3" width="15.6" height="14.9" fill="#feef71"/><rect x="1739.6" y="1068.3" width="15.6" height="14.9" fill="#feef71"/><rect x="1754.6" y="1068.3" width="15.6" height="14.9" fill="#feef71"/><rect x="1769.6" y="1068.3" width="15.6" height="14.9" fill="#feef71"/><rect x="1784.5" y="1068.3" width="15.6" height="14.9" fill="#feef71"/><rect x="1799.5" y="1068.3" width="15.6" height="14.9" fill="#feef71"/><rect x="1814.5" y="1068.3" width="15.6" height="14.9" fill="#feef71"/><rect x="1829.5" y="1068.3" width="15.6" height="14.9" fill="#feef71"/><rect x="1844.5" y="1068.3" width="15.6" height="14.9" fill="#feef71"/><rect x="1170.0" y="1082.6" width="15.6" height="14.9" fill="#876499"/><rect x="1185.0" y="1082.6" width="15.6" height="14.9" fill="#876ba0"/><rect x="1200.0" y="1082.6" width="15.6" height="14.9" fill="#857ead"/><rect x="1215.0" y="1082.6" width="15.6" height="14.9" fill="#7e91b4"/><rect x="1230.0" y="1082.6" width="15.6" height="14.9" fill="#76a5b5"/><rect x="1245.0" y="1082.6" width="15.6" height="14.9" fill="#6fb8b4"/><rect x="1259.9" y="1082.6" width="15.6" height="14.9" fill="#72c8ad"/><rect x="1274.9" y="1082.6" width="15.6" height="14.9" fill="#89d7a0"/><rect x="1289.9" y="1082.6" width="15.6" height="14.9" fill="#a5e090"/><rect x="1304.9" y="1082.6" width="15.6" height="14.9" fill="#c0e67f"/><rect x="1319.9" y="1082.6" width="15.6" height="14.9" fill="#d5ea72"/><rect x="1334.9" y="1082.6" width="15.6" height="14.9" fill="#e3ec72"/><rect x="1349.9" y="1082.6" width="15.6" height="14.9" fill="#eded72"/><rect x="1364.9" y="1082.6" width="15.6" height="14.9" fill="#f4ee71"/><rect x="1379.9" y="1082.6" width="15.6" height="14.9" fill="#f8ef71"/><rect x="1394.8" y="1082.6" width="15.6" height="14.9" fill="#faef71"/><rect x="1409.8" y="1082.6" width="15.6" height="14.9" fill="#fcef71"/><rect x="1424.8" y="1082.6" width="15.6" height="14.9" fill="#fdef71"/><rect x="1439.8" y="1082.6" width="15.6" height="14.9" fill="#fdef71"/><rect x="1454.8" y="1082.6" width="15.6" height="14.9" fill="#fdef71"/><rect x="1469.8" y="1082.6" width="15.6" height="14.9" fill="#feef71"/><rect x="1484.8" y="1082.6" width="15.6" height="14.9" fill="#feef71"/><rect x="1499.8" y="1082.6" width="15.6" height="14.9" fill="#feef71"/><rect x="1514.8" y="1082.6" width="15.6" height="14.9" fill="#feef71"/><rect x="1529.7" y="1082.6" width="15.6" height="14.9" fill="#feef71"/><rect x="1544.7" y="1082.6" width="15.6" height="14.9" fill="#feef71"/><rect x="1559.7" y="1082.6" width="15.6" height="14.9" fill="#feef71"/><rect x="1574.7" y="1082.6" width="15.6" height="14.9" fill="#feef71"/><rect x="1589.7" y="1082.6" width="15.6" height="14.9" fill="#feef71"/><rect x="1604.7" y="1082.6" width="15.6" height="14.9" fill="#feef71"/><rect x="1619.7" y="1082.6" width="15.6" height="14.9" fill="#feef71"/><rect x="1634.7" y="1082.6" width="15.6" height="14.9" fill="#feef71"/><rect x="1649.6" y="1082.6" width="15.6" height="14.9" fill="#feef71"/><rect x="1664.6" y="1082.6" width="15.6" height="14.9" fill="#feef71"/><rect x="1679.6" y="1082.6" width="15.6" height="14.9" fill="#feef71"/><rect x="1694.6" y="1082.6" width="15.6" height="14.9" fill="#feef71"/><rect x="1709.6" y="1082.6" width="15.6" height="14.9" fill="#feef71"/><rect x="1724.6" y="1082.6" width="15.6" height="14.9" fill="#feef71"/><rect x="1739.6" y="1082.6" width="15.6" height="14.9" fill="#feef71"/><rect x="1754.6" y="1082.6" width="15.6" height="14.9" fill="#feef71"/><rect x="1769.6" y="1082.6" width="15.6" height="14.9" fill="#feef71"/><rect x="1784.5" y="1082.6" width="15.6" height="14.9" fill="#feef71"/><rect x="1799.5" y="1082.6" width="15.6" height="14.9" fill="#feef71"/><rect x="1814.5" y="1082.6" width="15.6" height="14.9" fill="#feef71"/><rect x="1829.5" y="1082.6" width="15.6" height="14.9" fill="#feef71"/><rect x="1844.5" y="1082.6" width="15.6" height="14.9" fill="#feef71"/><rect x="1170.0" y="1097.0" width="15.6" height="14.9" fill="#876399"/><rect x="1185.0" y="1097.0" width="15.6" height="14.9" fill="#876a9f"/><rect x="1200.0" y="1097.0" width="15.6" height="14.9" fill="#867cac"/><rect x="1215.0" y="1097.0" width="15.6" height="14.9" fill="#7f8fb3"/><rect x="1230.0" y="1097.0" width="15.6" height="14.9" fill="#77a2b5"/><rect x="1245.0" y="1097.0" width="15.6" height="14.9" fill="#70b5b4"/><rect x="1259.9" y="1097.0" width="15.6" height="14.9" fill="#6fc5af"/><rect x="1274.9" y="1097.0" width="15.6" height="14.9" fill="#83d4a3"/><rect x="1289.9" y="1097.0" width="15.6" height="14.9" fill="#9fde93"/><rect x="1304.9" y="1097.0" width="15.6" height="14.9" fill="#bae583"/><rect x="1319.9" y="1097.0" width="15.6" height="14.9" fill="#d0e975"/><rect x="1334.9" y="1097.0" width="15.6" height="14.9" fill="#e0ec72"/><rect x="1349.9" y="1097.0" width="15.6" height="14.9" fill="#ebed72"/><rect x="1364.9" y="1097.0" width="15.6" height="14.9" fill="#f2ee71"/><rect x="1379.9" y="1097.0" width="15.6" height="14.9" fill="#f7ef71"/><rect x="1394.8" y="1097.0" width="15.6" height="14.9" fill="#faef71"/><rect x="1409.8" y="1097.0" width="15.6" height="14.9" fill="#fcef71"/><rect x="1424.8" y="1097.0" width="15.6" height="14.9" fill="#fdef71"/><rect x="1439.8" y="1097.0" width="15.6" height="14.9" fill="#fdef71"/><rect x="1454.8" y="1097.0" width="15.6" height="14.9" fill="#fdef71"/><rect x="1469.8" y="1097.0" width="15.6" height="14.9" fill="#feef71"/><rect x="1484.8" y="1097.0" width="15.6" height="14.9" fill="#feef71"/><rect x="1499.8" y="1097.0" width="15.6" height="14.9" fill="#feef71"/><rect x="1514.8" y="1097.0" width="15.6" height="14.9" fill="#feef71"/><rect x="1529.7" y="1097.0" width="15.6" height="14.9" fill="#feef71"/><rect x="1544.7" y="1097.0" width="15.6" height="14.9" fill="#feef71"/><rect x="1559.7" y="1097.0" width="15.6" height="14.9" fill="#feef71"/><rect x="1574.7" y="1097.0" width="15.6" height="14.9" fill="#feef71"/><rect x="1589.7" y="1097.0" width="15.6" height="14.9" fill="#feef71"/><rect x="1604.7" y="1097.0" width="15.6" height="14.9" fill="#feef71"/><rect x="1619.7" y="1097.0" width="15.6" height="14.9" fill="#feef71"/><rect x="1634.7" y="1097.0" width="15.6" height="14.9" fill="#feef71"/><rect x="1649.6" y="1097.0" width="15.6" height="14.9" fill="#feef71"/><rect x="1664.6" y="1097.0" width="15.6" height="14.9" fill="#feef71"/><rect x="1679.6" y="1097.0" width="15.6" height="14.9" fill="#feef71"/><rect x="1694.6" y="1097.0" width="15.6" height="14.9" fill="#feef71"/><rect x="1709.6" y="1097.0" width="15.6" height="14.9" fill="#feef71"/><rect x="1724.6" y="1097.0" width="15.6" height="14.9" fill="#feef71"/><rect x="1739.6" y="1097.0" width="15.6" height="14.9" fill="#feef71"/><rect x="1754.6" y="1097.0" width="15.6" height="14.9" fill="#feef71"/><rect x="1769.6" y="1097.0" width="15.6" height="14.9" fill="#feef71"/><rect x="1784.5" y="1097.0" width="15.6" height="14.9" fill="#feef71"/><rect x="1799.5" y="1097.0" width="15.6" height="14.9" fill="#feef71"/><rect x="1814.5" y="1097.0" width="15.6" height="14.9" fill="#feef71"/><rect x="1829.5" y="1097.0" width="15.6" height="14.9" fill="#feef71"/><rect x="1844.5" y="1097.0" width="15.6" height="14.9" fill="#feef71"/><rect x="1170.0" y="1111.3" width="15.6" height="14.9" fill="#866398"/><rect x="1185.0" y="1111.3" width="15.6" height="14.9" fill="#87699e"/><rect x="1200.0" y="1111.3" width="15.6" height="14.9" fill="#867aaa"/><rect x="1215.0" y="1111.3" width="15.6" height="14.9" fill="#808db3"/><rect x="1230.0" y="1111.3" width="15.6" height="14.9" fill="#789fb5"/><rect x="1245.0" y="1111.3" width="15.6" height="14.9" fill="#71b1b5"/><rect x="1259.9" y="1111.3" width="15.6" height="14.9" fill="#6fc1b1"/><rect x="1274.9" y="1111.3" width="15.6" height="14.9" fill="#7dd0a7"/><rect x="1289.9" y="1111.3" width="15.6" height="14.9" fill="#96db99"/><rect x="1304.9" y="1111.3" width="15.6" height="14.9" fill="#afe38a"/><rect x="1319.9" y="1111.3" width="15.6" height="14.9" fill="#c7e77a"/><rect x="1334.9" y="1111.3" width="15.6" height="14.9" fill="#d8eb72"/><rect x="1349.9" y="1111.3" width="15.6" height="14.9" fill="#e5ec72"/><rect x="1364.9" y="1111.3" width="15.6" height="14.9" fill="#eded72"/><rect x="1379.9" y="1111.3" width="15.6" height="14.9" fill="#f3ee71"/><rect x="1394.8" y="1111.3" width="15.6" height="14.9" fill="#f7ef71"/><rect x="1409.8" y="1111.3" width="15.6" height="14.9" fill="#faef71"/><rect x="1424.8" y="1111.3" width="15.6" height="14.9" fill="#fbef71"/><rect x="1439.8" y="1111.3" width="15.6" height="14.9" fill="#fcef71"/><rect x="1454.8" y="1111.3" width="15.6" height="14.9" fill="#fdef71"/><rect x="1469.8" y="1111.3" width="15.6" height="14.9" fill="#fdef71"/><rect x="1484.8" y="1111.3" width="15.6" height="14.9" fill="#fdef71"/><rect x="1499.8" y="1111.3" width="15.6" height="14.9" fill="#feef71"/><rect x="1514.8" y="1111.3" width="15.6" height="14.9" fill="#feef71"/><rect x="1529.7" y="1111.3" width="15.6" height="14.9" fill="#feef71"/><rect x="1544.7" y="1111.3" width="15.6" height="14.9" fill="#feef71"/><rect x="1559.7" y="1111.3" width="15.6" height="14.9" fill="#feef71"/><rect x="1574.7" y="1111.3" width="15.6" height="14.9" fill="#feef71"/><rect x="1589.7" y="1111.3" width="15.6" height="14.9" fill="#feef71"/><rect x="1604.7" y="1111.3" width="15.6" height="14.9" fill="#feef71"/><rect x="1619.7" y="1111.3" width="15.6" height="14.9" fill="#feef71"/><rect x="1634.7" y="1111.3" width="15.6" height="14.9" fill="#feef71"/><rect x="1649.6" y="1111.3" width="15.6" height="14.9" fill="#feef71"/><rect x="1664.6" y="1111.3" width="15.6" height="14.9" fill="#feef71"/><rect x="1679.6" y="1111.3" width="15.6" height="14.9" fill="#feef71"/><rect x="1694.6" y="1111.3" width="15.6" height="14.9" fill="#feef71"/><rect x="1709.6" y="1111.3" width="15.6" height="14.9" fill="#feef71"/><rect x="1724.6" y="1111.3" width="15.6" height="14.9" fill="#feef71"/><rect x="1739.6" y="1111.3" width="15.6" height="14.9" fill="#feef71"/><rect x="1754.6" y="1111.3" width="15.6" height="14.9" fill="#feef71"/><rect x="1769.6" y="1111.3" width="15.6" height="14.9" fill="#feef71"/><rect x="1784.5" y="1111.3" width="15.6" height="14.9" fill="#feef71"/><rect x="1799.5" y="1111.3" width="15.6" height="14.9" fill="#feef71"/><rect x="1814.5" y="1111.3" width="15.6" height="14.9" fill="#feef71"/><rect x="1829.5" y="1111.3" width="15.6" height="14.9" fill="#feef71"/><rect x="1844.5" y="1111.3" width="15.6" height="14.9" fill="#feef71"/><rect x="1170.0" y="1125.6" width="15.6" height="14.9" fill="#866298"/><rect x="1185.0" y="1125.6" width="15.6" height="14.9" fill="#87689d"/><rect x="1200.0" y="1125.6" width="15.6" height="14.9" fill="#8778a9"/><rect x="1215.0" y="1125.6" width="15.6" height="14.9" fill="#828ab2"/><rect x="1230.0" y="1125.6" width="15.6" height="14.9" fill="#7a9bb5"/><rect x="1245.0" y="1125.6" width="15.6" height="14.9" fill="#73acb5"/><rect x="1259.9" y="1125.6" width="15.6" height="14.9" fill="#6fbdb2"/><rect x="1274.9" y="1125.6" width="15.6" height="14.9" fill="#76cbab"/><rect x="1289.9" y="1125.6" width="15.6" height="14.9" fill="#8bd79f"/><rect x="1304.9" y="1125.6" width="15.6" height="14.9" fill="#a3df91"/><rect x="1319.9" y="1125.6" width="15.6" height="14.9" fill="#bbe582"/><rect x="1334.9" y="1125.6" width="15.6" height="14.9" fill="#cfe976"/><rect x="1349.9" y="1125.6" width="15.6" height="14.9" fill="#ddeb72"/><rect x="1364.9" y="1125.6" width="15.6" height="14.9" fill="#e7ed72"/><rect x="1379.9" y="1125.6" width="15.6" height="14.9" fill="#efee72"/><rect x="1394.8" y="1125.6" width="15.6" height="14.9" fill="#f4ee71"/><rect x="1409.8" y="1125.6" width="15.6" height="14.9" fill="#f7ef71"/><rect x="1424.8" y="1125.6" width="15.6" height="14.9" fill="#faef71"/><rect x="1439.8" y="1125.6" width="15.6" height="14.9" fill="#fbef71"/><rect x="1454.8" y="1125.6" width="15.6" height="14.9" fill="#fcef71"/><rect x="1469.8" y="1125.6" width="15.6" height="14.9" fill="#fdef71"/><rect x="1484.8" y="1125.6" width="15.6" height="14.9" fill="#fdef71"/><rect x="1499.8" y="1125.6" width="15.6" height="14.9" fill="#fdef71"/><rect x="1514.8" y="1125.6" width="15.6" height="14.9" fill="#feef71"/><rect x="1529.7" y="1125.6" width="15.6" height="14.9" fill="#feef71"/><rect x="1544.7" y="1125.6" width="15.6" height="14.9" fill="#feef71"/><rect x="1559.7" y="1125.6" width="15.6" height="14.9" fill="#feef71"/><rect x="1574.7" y="1125.6" width="15.6" height="14.9" fill="#feef71"/><rect x="1589.7" y="1125.6" width="15.6" height="14.9" fill="#feef71"/><rect x="1604.7" y="1125.6" width="15.6" height="14.9" fill="#feef71"/><rect x="1619.7" y="1125.6" width="15.6" height="14.9" fill="#feef71"/><rect x="1634.7" y="1125.6" width="15.6" height="14.9" fill="#feef71"/><rect x="1649.6" y="1125.6" width="15.6" height="14.9" fill="#feef71"/><rect x="1664.6" y="1125.6" width="15.6" height="14.9" fill="#feef71"/><rect x="1679.6" y="1125.6" width="15.6" height="14.9" fill="#feef71"/><rect x="1694.6" y="1125.6" width="15.6" height="14.9" fill="#feef71"/><rect x="1709.6" y="1125.6" width="15.6" height="14.9" fill="#feef71"/><rect x="1724.6" y="1125.6" width="15.6" height="14.9" fill="#feef71"/><rect x="1739.6" y="1125.6" width="15.6" height="14.9" fill="#feef71"/><rect x="1754.6" y="1125.6" width="15.6" height="14.9" fill="#feef71"/><rect x="1769.6" y="1125.6" width="15.6" height="14.9" fill="#feef71"/><rect x="1784.5" y="1125.6" width="15.6" height="14.9" fill="#feef71"/><rect x="1799.5" y="1125.6" width="15.6" height="14.9" fill="#feef71"/><rect x="1814.5" y="1125.6" width="15.6" height="14.9" fill="#feef71"/><rect x="1829.5" y="1125.6" width="15.6" height="14.9" fill="#feef71"/><rect x="1844.5" y="1125.6" width="15.6" height="14.9" fill="#feef71"/><rect x="1170.0" y="1140.0" width="15.6" height="14.9" fill="#866197"/><rect x="1185.0" y="1140.0" width="15.6" height="14.9" fill="#87679c"/><rect x="1200.0" y="1140.0" width="15.6" height="14.9" fill="#8775a8"/><rect x="1215.0" y="1140.0" width="15.6" height="14.9" fill="#8387b1"/><rect x="1230.0" y="1140.0" width="15.6" height="14.9" fill="#7b98b5"/><rect x="1245.0" y="1140.0" width="15.6" height="14.9" fill="#74a8b5"/><rect x="1259.9" y="1140.0" width="15.6" height="14.9" fill="#6fb8b4"/><rect x="1274.9" y="1140.0" width="15.6" height="14.9" fill="#6fc6af"/><rect x="1289.9" y="1140.0" width="15.6" height="14.9" fill="#82d3a4"/><rect x="1304.9" y="1140.0" width="15.6" height="14.9" fill="#99dc97"/><rect x="1319.9" y="1140.0" width="15.6" height="14.9" fill="#afe38a"/><rect x="1334.9" y="1140.0" width="15.6" height="14.9" fill="#c4e77c"/><rect x="1349.9" y="1140.0" width="15.6" height="14.9" fill="#d5ea72"/><rect x="1364.9" y="1140.0" width="15.6" height="14.9" fill="#e1ec72"/><rect x="1379.9" y="1140.0" width="15.6" height="14.9" fill="#eaed72"/><rect x="1394.8" y="1140.0" width="15.6" height="14.9" fill="#f0ee72"/><rect x="1409.8" y="1140.0" width="15.6" height="14.9" fill="#f5ee71"/><rect x="1424.8" y="1140.0" width="15.6" height="14.9" fill="#f8ef71"/><rect x="1439.8" y="1140.0" width="15.6" height="14.9" fill="#faef71"/><rect x="1454.8" y="1140.0" width="15.6" height="14.9" fill="#fbef71"/><rect x="1469.8" y="1140.0" width="15.6" height="14.9" fill="#fcef71"/><rect x="1484.8" y="1140.0" width="15.6" height="14.9" fill="#fdef71"/><rect x="1499.8" y="1140.0" width="15.6" height="14.9" fill="#fdef71"/><rect x="1514.8" y="1140.0" width="15.6" height="14.9" fill="#fdef71"/><rect x="1529.7" y="1140.0" width="15.6" height="14.9" fill="#feef71"/><rect x="1544.7" y="1140.0" width="15.6" height="14.9" fill="#feef71"/><rect x="1559.7" y="1140.0" width="15.6" height="14.9" fill="#feef71"/><rect x="1574.7" y="1140.0" width="15.6" height="14.9" fill="#feef71"/><rect x="1589.7" y="1140.0" width="15.6" height="14.9" fill="#feef71"/><rect x="1604.7" y="1140.0" width="15.6" height="14.9" fill="#feef71"/><rect x="1619.7" y="1140.0" width="15.6" height="14.9" fill="#feef71"/><rect x="1634.7" y="1140.0" width="15.6" height="14.9" fill="#feef71"/><rect x="1649.6" y="1140.0" width="15.6" height="14.9" fill="#feef71"/><rect x="1664.6" y="1140.0" width="15.6" height="14.9" fill="#feef71"/><rect x="1679.6" y="1140.0" width="15.6" height="14.9" fill="#feef71"/><rect x="1694.6" y="1140.0" width="15.6" height="14.9" fill="#feef71"/><rect x="1709.6" y="1140.0" width="15.6" height="14.9" fill="#feef71"/><rect x="1724.6" y="1140.0" width="15.6" height="14.9" fill="#feef71"/><rect x="1739.6" y="1140.0" width="15.6" height="14.9" fill="#feef71"/><rect x="1754.6" y="1140.0" width="15.6" height="14.9" fill="#feef71"/><rect x="1769.6" y="1140.0" width="15.6" height="14.9" fill="#feef71"/><rect x="1784.5" y="1140.0" width="15.6" height="14.9" fill="#feef71"/><rect x="1799.5" y="1140.0" width="15.6" height="14.9" fill="#feef71"/><rect x="1814.5" y="1140.0" width="15.6" height="14.9" fill="#feef71"/><rect x="1829.5" y="1140.0" width="15.6" height="14.9" fill="#feef71"/><rect x="1844.5" y="1140.0" width="15.6" height="14.9" fill="#feef71"/><rect x="1170.0" y="1154.3" width="15.6" height="14.9" fill="#866196"/><rect x="1185.0" y="1154.3" width="15.6" height="14.9" fill="#87669b"/><rect x="1200.0" y="1154.3" width="15.6" height="14.9" fill="#8773a7"/><rect x="1215.0" y="1154.3" width="15.6" height="14.9" fill="#8484b0"/><rect x="1230.0" y="1154.3" width="15.6" height="14.9" fill="#7d94b4"/><rect x="1245.0" y="1154.3" width="15.6" height="14.9" fill="#76a4b5"/><rect x="1259.9" y="1154.3" width="15.6" height="14.9" fill="#70b3b5"/><rect x="1274.9" y="1154.3" width="15.6" height="14.9" fill="#6fc1b1"/><rect x="1289.9" y="1154.3" width="15.6" height="14.9" fill="#7acea9"/><rect x="1304.9" y="1154.3" width="15.6" height="14.9" fill="#8ed89d"/><rect x="1319.9" y="1154.3" width="15.6" height="14.9" fill="#a4e090"/><rect x="1334.9" y="1154.3" width="15.6" height="14.9" fill="#bae582"/><rect x="1349.9" y="1154.3" width="15.6" height="14.9" fill="#cde977"/><rect x="1364.9" y="1154.3" width="15.6" height="14.9" fill="#dbeb72"/><rect x="1379.9" y="1154.3" width="15.6" height="14.9" fill="#e5ec72"/><rect x="1394.8" y="1154.3" width="15.6" height="14.9" fill="#eded72"/><rect x="1409.8" y="1154.3" width="15.6" height="14.9" fill="#f2ee71"/><rect x="1424.8" y="1154.3" width="15.6" height="14.9" fill="#f6ee71"/><rect x="1439.8" y="1154.3" width="15.6" height="14.9" fill="#f9ef71"/><rect x="1454.8" y="1154.3" width="15.6" height="14.9" fill="#fbef71"/><rect x="1469.8" y="1154.3" width="15.6" height="14.9" fill="#fcef71"/><rect x="1484.8" y="1154.3" width="15.6" height="14.9" fill="#fdef71"/><rect x="1499.8" y="1154.3" width="15.6" height="14.9" fill="#fdef71"/><rect x="1514.8" y="1154.3" width="15.6" height="14.9" fill="#fdef71"/><rect x="1529.7" y="1154.3" width="15.6" height="14.9" fill="#fdef71"/><rect x="1544.7" y="1154.3" width="15.6" height="14.9" fill="#feef71"/><rect x="1559.7" y="1154.3" width="15.6" height="14.9" fill="#feef71"/><rect x="1574.7" y="1154.3" width="15.6" height="14.9" fill="#feef71"/><rect x="1589.7" y="1154.3" width="15.6" height="14.9" fill="#feef71"/><rect x="1604.7" y="1154.3" width="15.6" height="14.9" fill="#feef71"/><rect x="1619.7" y="1154.3" width="15.6" height="14.9" fill="#feef71"/><rect x="1634.7" y="1154.3" width="15.6" height="14.9" fill="#feef71"/><rect x="1649.6" y="1154.3" width="15.6" height="14.9" fill="#feef71"/><rect x="1664.6" y="1154.3" width="15.6" height="14.9" fill="#feef71"/><rect x="1679.6" y="1154.3" width="15.6" height="14.9" fill="#feef71"/><rect x="1694.6" y="1154.3" width="15.6" height="14.9" fill="#feef71"/><rect x="1709.6" y="1154.3" width="15.6" height="14.9" fill="#feef71"/><rect x="1724.6" y="1154.3" width="15.6" height="14.9" fill="#feef71"/><rect x="1739.6" y="1154.3" width="15.6" height="14.9" fill="#feef71"/><rect x="1754.6" y="1154.3" width="15.6" height="14.9" fill="#feef71"/><rect x="1769.6" y="1154.3" width="15.6" height="14.9" fill="#feef71"/><rect x="1784.5" y="1154.3" width="15.6" height="14.9" fill="#feef71"/><rect x="1799.5" y="1154.3" width="15.6" height="14.9" fill="#feef71"/><rect x="1814.5" y="1154.3" width="15.6" height="14.9" fill="#feef71"/><rect x="1829.5" y="1154.3" width="15.6" height="14.9" fill="#feef71"/><rect x="1844.5" y="1154.3" width="15.6" height="14.9" fill="#feef71"/><rect x="1170.0" y="1168.6" width="15.6" height="14.9" fill="#866096"/><rect x="1185.0" y="1168.6" width="15.6" height="14.9" fill="#87659a"/><rect x="1200.0" y="1168.6" width="15.6" height="14.9" fill="#8871a6"/><rect x="1215.0" y="1168.6" width="15.6" height="14.9" fill="#8580ae"/><rect x="1230.0" y="1168.6" width="15.6" height="14.9" fill="#7f90b3"/><rect x="1245.0" y="1168.6" width="15.6" height="14.9" fill="#789fb5"/><rect x="1259.9" y="1168.6" width="15.6" height="14.9" fill="#72aeb5"/><rect x="1274.9" y="1168.6" width="15.6" height="14.9" fill="#6fbcb3"/><rect x="1289.9" y="1168.6" width="15.6" height="14.9" fill="#73c9ad"/><rect x="1304.9" y="1168.6" width="15.6" height="14.9" fill="#84d5a3"/><rect x="1319.9" y="1168.6" width="15.6" height="14.9" fill="#9bdd96"/><rect x="1334.9" y="1168.6" width="15.6" height="14.9" fill="#b0e389"/><rect x="1349.9" y="1168.6" width="15.6" height="14.9" fill="#c4e77c"/><rect x="1364.9" y="1168.6" width="15.6" height="14.9" fill="#d4ea72"/><rect x="1379.9" y="1168.6" width="15.6" height="14.9" fill="#e0ec72"/><rect x="1394.8" y="1168.6" width="15.6" height="14.9" fill="#e9ed72"/><rect x="1409.8" y="1168.6" width="15.6" height="14.9" fill="#f0ee72"/><rect x="1424.8" y="1168.6" width="15.6" height="14.9" fill="#f4ee71"/><rect x="1439.8" y="1168.6" width="15.6" height="14.9" fill="#f8ef71"/><rect x="1454.8" y="1168.6" width="15.6" height="14.9" fill="#faef71"/><rect x="1469.8" y="1168.6" width="15.6" height="14.9" fill="#fbef71"/><rect x="1484.8" y="1168.6" width="15.6" height="14.9" fill="#fcef71"/><rect x="1499.8" y="1168.6" width="15.6" height="14.9" fill="#fdef71"/><rect x="1514.8" y="1168.6" width="15.6" height="14.9" fill="#fdef71"/><rect x="1529.7" y="1168.6" width="15.6" height="14.9" fill="#fdef71"/><rect x="1544.7" y="1168.6" width="15.6" height="14.9" fill="#feef71"/><rect x="1559.7" y="1168.6" width="15.6" height="14.9" fill="#feef71"/><rect x="1574.7" y="1168.6" width="15.6" height="14.9" fill="#feef71"/><rect x="1589.7" y="1168.6" width="15.6" height="14.9" fill="#feef71"/><rect x="1604.7" y="1168.6" width="15.6" height="14.9" fill="#feef71"/><rect x="1619.7" y="1168.6" width="15.6" height="14.9" fill="#feef71"/><rect x="1634.7" y="1168.6" width="15.6" height="14.9" fill="#feef71"/><rect x="1649.6" y="1168.6" width="15.6" height="14.9" fill="#feef71"/><rect x="1664.6" y="1168.6" width="15.6" height="14.9" fill="#feef71"/><rect x="1679.6" y="1168.6" width="15.6" height="14.9" fill="#feef71"/><rect x="1694.6" y="1168.6" width="15.6" height="14.9" fill="#feef71"/><rect x="1709.6" y="1168.6" width="15.6" height="14.9" fill="#feef71"/><rect x="1724.6" y="1168.6" width="15.6" height="14.9" fill="#feef71"/><rect x="1739.6" y="1168.6" width="15.6" height="14.9" fill="#feef71"/><rect x="1754.6" y="1168.6" width="15.6" height="14.9" fill="#feef71"/><rect x="1769.6" y="1168.6" width="15.6" height="14.9" fill="#feef71"/><rect x="1784.5" y="1168.6" width="15.6" height="14.9" fill="#feef71"/><rect x="1799.5" y="1168.6" width="15.6" height="14.9" fill="#feef71"/><rect x="1814.5" y="1168.6" width="15.6" height="14.9" fill="#feef71"/><rect x="1829.5" y="1168.6" width="15.6" height="14.9" fill="#feef71"/><rect x="1844.5" y="1168.6" width="15.6" height="14.9" fill="#feef71"/><rect x="1170.0" y="1183.0" width="15.6" height="14.9" fill="#865f95"/><rect x="1185.0" y="1183.0" width="15.6" height="14.9" fill="#876499"/><rect x="1200.0" y="1183.0" width="15.6" height="14.9" fill="#886fa4"/><rect x="1215.0" y="1183.0" width="15.6" height="14.9" fill="#857dac"/><rect x="1230.0" y="1183.0" width="15.6" height="14.9" fill="#818cb2"/><rect x="1245.0" y="1183.0" width="15.6" height="14.9" fill="#7a9bb5"/><rect x="1259.9" y="1183.0" width="15.6" height="14.9" fill="#74a9b5"/><rect x="1274.9" y="1183.0" width="15.6" height="14.9" fill="#6fb7b4"/><rect x="1289.9" y="1183.0" width="15.6" height="14.9" fill="#6fc3b0"/><rect x="1304.9" y="1183.0" width="15.6" height="14.9" fill="#7ccfa8"/><rect x="1319.9" y="1183.0" width="15.6" height="14.9" fill="#8ed89d"/><rect x="1334.9" y="1183.0" width="15.6" height="14.9" fill="#a3df91"/><rect x="1349.9" y="1183.0" width="15.6" height="14.9" fill="#b7e485"/><rect x="1364.9" y="1183.0" width="15.6" height="14.9" fill="#c8e87a"/><rect x="1379.9" y="1183.0" width="15.6" height="14.9" fill="#d6ea72"/><rect x="1394.8" y="1183.0" width="15.6" height="14.9" fill="#e1ec72"/><rect x="1409.8" y="1183.0" width="15.6" height="14.9" fill="#e9ed72"/><rect x="1424.8" y="1183.0" width="15.6" height="14.9" fill="#efee72"/><rect x="1439.8" y="1183.0" width="15.6" height="14.9" fill="#f3ee71"/><rect x="1454.8" y="1183.0" width="15.6" height="14.9" fill="#f6ee71"/><rect x="1469.8" y="1183.0" width="15.6" height="14.9" fill="#f9ef71"/><rect x="1484.8" y="1183.0" width="15.6" height="14.9" fill="#faef71"/><rect x="1499.8" y="1183.0" width="15.6" height="14.9" fill="#fbef71"/><rect x="1514.8" y="1183.0" width="15.6" height="14.9" fill="#fcef71"/><rect x="1529.7" y="1183.0" width="15.6" height="14.9" fill="#fdef71"/><rect x="1544.7" y="1183.0" width="15.6" height="14.9" fill="#fdef71"/><rect x="1559.7" y="1183.0" width="15.6" height="14.9" fill="#fdef71"/><rect x="1574.7" y="1183.0" width="15.6" height="14.9" fill="#fdef71"/><rect x="1589.7" y="1183.0" width="15.6" height="14.9" fill="#feef71"/><rect x="1604.7" y="1183.0" width="15.6" height="14.9" fill="#feef71"/><rect x="1619.7" y="1183.0" width="15.6" height="14.9" fill="#feef71"/><rect x="1634.7" y="1183.0" width="15.6" height="14.9" fill="#feef71"/><rect x="1649.6" y="1183.0" width="15.6" height="14.9" fill="#feef71"/><rect x="1664.6" y="1183.0" width="15.6" height="14.9" fill="#feef71"/><rect x="1679.6" y="1183.0" width="15.6" height="14.9" fill="#feef71"/><rect x="1694.6" y="1183.0" width="15.6" height="14.9" fill="#feef71"/><rect x="1709.6" y="1183.0" width="15.6" height="14.9" fill="#feef71"/><rect x="1724.6" y="1183.0" width="15.6" height="14.9" fill="#feef71"/><rect x="1739.6" y="1183.0" width="15.6" height="14.9" fill="#feef71"/><rect x="1754.6" y="1183.0" width="15.6" height="14.9" fill="#feef71"/><rect x="1769.6" y="1183.0" width="15.6" height="14.9" fill="#feef71"/><rect x="1784.5" y="1183.0" width="15.6" height="14.9" fill="#feef71"/><rect x="1799.5" y="1183.0" width="15.6" height="14.9" fill="#feef71"/><rect x="1814.5" y="1183.0" width="15.6" height="14.9" fill="#feef71"/><rect x="1829.5" y="1183.0" width="15.6" height="14.9" fill="#feef71"/><rect x="1844.5" y="1183.0" width="15.6" height="14.9" fill="#feef71"/><rect x="1170.0" y="1197.3" width="15.6" height="14.9" fill="#865f94"/><rect x="1185.0" y="1197.3" width="15.6" height="14.9" fill="#866398"/><rect x="1200.0" y="1197.3" width="15.6" height="14.9" fill="#886da2"/><rect x="1215.0" y="1197.3" width="15.6" height="14.9" fill="#867aaa"/><rect x="1230.0" y="1197.3" width="15.6" height="14.9" fill="#8288b2"/><rect x="1245.0" y="1197.3" width="15.6" height="14.9" fill="#7c96b5"/><rect x="1259.9" y="1197.3" width="15.6" height="14.9" fill="#76a3b5"/><rect x="1274.9" y="1197.3" width="15.6" height="14.9" fill="#71b1b5"/><rect x="1289.9" y="1197.3" width="15.6" height="14.9" fill="#6fbeb2"/><rect x="1304.9" y="1197.3" width="15.6" height="14.9" fill="#73c9ad"/><rect x="1319.9" y="1197.3" width="15.6" height="14.9" fill="#82d3a4"/><rect x="1334.9" y="1197.3" width="15.6" height="14.9" fill="#95db99"/><rect x="1349.9" y="1197.3" width="15.6" height="14.9" fill="#a7e18f"/><rect x="1364.9" y="1197.3" width="15.6" height="14.9" fill="#bae583"/><rect x="1379.9" y="1197.3" width="15.6" height="14.9" fill="#cae879"/><rect x="1394.8" y="1197.3" width="15.6" height="14.9" fill="#d6ea72"/><rect x="1409.8" y="1197.3" width="15.6" height="14.9" fill="#e0ec72"/><rect x="1424.8" y="1197.3" width="15.6" height="14.9" fill="#e8ed72"/><rect x="1439.8" y="1197.3" width="15.6" height="14.9" fill="#eded72"/><rect x="1454.8" y="1197.3" width="15.6" height="14.9" fill="#f2ee71"/><rect x="1469.8" y="1197.3" width="15.6" height="14.9" fill="#f5ee71"/><rect x="1484.8" y="1197.3" width="15.6" height="14.9" fill="#f8ef71"/><rect x="1499.8" y="1197.3" width="15.6" height="14.9" fill="#f9ef71"/><rect x="1514.8" y="1197.3" width="15.6" height="14.9" fill="#fbef71"/><rect x="1529.7" y="1197.3" width="15.6" height="14.9" fill="#fcef71"/><rect x="1544.7" y="1197.3" width="15.6" height="14.9" fill="#fcef71"/><rect x="1559.7" y="1197.3" width="15.6" height="14.9" fill="#fdef71"/><rect x="1574.7" y="1197.3" width="15.6" height="14.9" fill="#fdef71"/><rect x="1589.7" y="1197.3" width="15.6" height="14.9" fill="#fdef71"/><rect x="1604.7" y="1197.3" width="15.6" height="14.9" fill="#fdef71"/><rect x="1619.7" y="1197.3" width="15.6" height="14.9" fill="#feef71"/><rect x="1634.7" y="1197.3" width="15.6" height="14.9" fill="#feef71"/><rect x="1649.6" y="1197.3" width="15.6" height="14.9" fill="#feef71"/><rect x="1664.6" y="1197.3" width="15.6" height="14.9" fill="#feef71"/><rect x="1679.6" y="1197.3" width="15.6" height="14.9" fill="#feef71"/><rect x="1694.6" y="1197.3" width="15.6" height="14.9" fill="#feef71"/><rect x="1709.6" y="1197.3" width="15.6" height="14.9" fill="#feef71"/><rect x="1724.6" y="1197.3" width="15.6" height="14.9" fill="#feef71"/><rect x="1739.6" y="1197.3" width="15.6" height="14.9" fill="#feef71"/><rect x="1754.6" y="1197.3" width="15.6" height="14.9" fill="#feef71"/><rect x="1769.6" y="1197.3" width="15.6" height="14.9" fill="#feef71"/><rect x="1784.5" y="1197.3" width="15.6" height="14.9" fill="#feef71"/><rect x="1799.5" y="1197.3" width="15.6" height="14.9" fill="#feef71"/><rect x="1814.5" y="1197.3" width="15.6" height="14.9" fill="#feef71"/><rect x="1829.5" y="1197.3" width="15.6" height="14.9" fill="#feef71"/><rect x="1844.5" y="1197.3" width="15.6" height="14.9" fill="#feef71"/><rect x="1170.0" y="1211.7" width="15.6" height="14.9" fill="#865e94"/><rect x="1185.0" y="1211.7" width="15.6" height="14.9" fill="#866297"/><rect x="1200.0" y="1211.7" width="15.6" height="14.9" fill="#876ba0"/><rect x="1215.0" y="1211.7" width="15.6" height="14.9" fill="#8777a9"/><rect x="1230.0" y="1211.7" width="15.6" height="14.9" fill="#8484b0"/><rect x="1245.0" y="1211.7" width="15.6" height="14.9" fill="#7e91b4"/><rect x="1259.9" y="1211.7" width="15.6" height="14.9" fill="#799eb5"/><rect x="1274.9" y="1211.7" width="15.6" height="14.9" fill="#73abb5"/><rect x="1289.9" y="1211.7" width="15.6" height="14.9" fill="#6fb8b4"/><rect x="1304.9" y="1211.7" width="15.6" height="14.9" fill="#6fc3b0"/><rect x="1319.9" y="1211.7" width="15.6" height="14.9" fill="#79cda9"/><rect x="1334.9" y="1211.7" width="15.6" height="14.9" fill="#87d6a1"/><rect x="1349.9" y="1211.7" width="15.6" height="14.9" fill="#9adc96"/><rect x="1364.9" y="1211.7" width="15.6" height="14.9" fill="#ace28c"/><rect x="1379.9" y="1211.7" width="15.6" height="14.9" fill="#bde581"/><rect x="1394.8" y="1211.7" width="15.6" height="14.9" fill="#cce877"/><rect x="1409.8" y="1211.7" width="15.6" height="14.9" fill="#d7eb72"/><rect x="1424.8" y="1211.7" width="15.6" height="14.9" fill="#e0ec72"/><rect x="1439.8" y="1211.7" width="15.6" height="14.9" fill="#e8ed72"/><rect x="1454.8" y="1211.7" width="15.6" height="14.9" fill="#eded72"/><rect x="1469.8" y="1211.7" width="15.6" height="14.9" fill="#f2ee71"/><rect x="1484.8" y="1211.7" width="15.6" height="14.9" fill="#f5ee71"/><rect x="1499.8" y="1211.7" width="15.6" height="14.9" fill="#f8ef71"/><rect x="1514.8" y="1211.7" width="15.6" height="14.9" fill="#f9ef71"/><rect x="1529.7" y="1211.7" width="15.6" height="14.9" fill="#fbef71"/><rect x="1544.7" y="1211.7" width="15.6" height="14.9" fill="#fcef71"/><rect x="1559.7" y="1211.7" width="15.6" height="14.9" fill="#fcef71"/><rect x="1574.7" y="1211.7" width="15.6" height="14.9" fill="#fdef71"/><rect x="1589.7" y="1211.7" width="15.6" height="14.9" fill="#fdef71"/><rect x="1604.7" y="1211.7" width="15.6" height="14.9" fill="#fdef71"/><rect x="1619.7" y="1211.7" width="15.6" height="14.9" fill="#fdef71"/><rect x="1634.7" y="1211.7" width="15.6" height="14.9" fill="#feef71"/><rect x="1649.6" y="1211.7" width="15.6" height="14.9" fill="#feef71"/><rect x="1664.6" y="1211.7" width="15.6" height="14.9" fill="#feef71"/><rect x="1679.6" y="1211.7" width="15.6" height="14.9" fill="#feef71"/><rect x="1694.6" y="1211.7" width="15.6" height="14.9" fill="#feef71"/><rect x="1709.6" y="1211.7" width="15.6" height="14.9" fill="#feef71"/><rect x="1724.6" y="1211.7" width="15.6" height="14.9" fill="#feef71"/><rect x="1739.6" y="1211.7" width="15.6" height="14.9" fill="#feef71"/><rect x="1754.6" y="1211.7" width="15.6" height="14.9" fill="#feef71"/><rect x="1769.6" y="1211.7" width="15.6" height="14.9" fill="#feef71"/><rect x="1784.5" y="1211.7" width="15.6" height="14.9" fill="#feef71"/><rect x="1799.5" y="1211.7" width="15.6" height="14.9" fill="#feef71"/><rect x="1814.5" y="1211.7" width="15.6" height="14.9" fill="#feef71"/><rect x="1829.5" y="1211.7" width="15.6" height="14.9" fill="#feef71"/><rect x="1844.5" y="1211.7" width="15.6" height="14.9" fill="#feef71"/><rect x="1170.0" y="1226.0" width="15.6" height="14.9" fill="#865e93"/><rect x="1185.0" y="1226.0" width="15.6" height="14.9" fill="#866096"/><rect x="1200.0" y="1226.0" width="15.6" height="14.9" fill="#87699e"/><rect x="1215.0" y="1226.0" width="15.6" height="14.9" fill="#8773a7"/><rect x="1230.0" y="1226.0" width="15.6" height="14.9" fill="#8580ae"/><rect x="1245.0" y="1226.0" width="15.6" height="14.9" fill="#808cb3"/><rect x="1259.9" y="1226.0" width="15.6" height="14.9" fill="#7b99b5"/><rect x="1274.9" y="1226.0" width="15.6" height="14.9" fill="#76a5b5"/><rect x="1289.9" y="1226.0" width="15.6" height="14.9" fill="#71b1b5"/><rect x="1304.9" y="1226.0" width="15.6" height="14.9" fill="#6fbdb3"/><rect x="1319.9" y="1226.0" width="15.6" height="14.9" fill="#70c7af"/><rect x="1334.9" y="1226.0" width="15.6" height="14.9" fill="#7ed0a6"/><rect x="1349.9" y="1226.0" width="15.6" height="14.9" fill="#8ed89d"/><rect x="1364.9" y="1226.0" width="15.6" height="14.9" fill="#9fde93"/><rect x="1379.9" y="1226.0" width="15.6" height="14.9" fill="#b0e389"/><rect x="1394.8" y="1226.0" width="15.6" height="14.9" fill="#c1e67e"/><rect x="1409.8" y="1226.0" width="15.6" height="14.9" fill="#cee976"/><rect x="1424.8" y="1226.0" width="15.6" height="14.9" fill="#d9eb72"/><rect x="1439.8" y="1226.0" width="15.6" height="14.9" fill="#e2ec72"/><rect x="1454.8" y="1226.0" width="15.6" height="14.9" fill="#e9ed72"/><rect x="1469.8" y="1226.0" width="15.6" height="14.9" fill="#eeed72"/><rect x="1484.8" y="1226.0" width="15.6" height="14.9" fill="#f3ee71"/><rect x="1499.8" y="1226.0" width="15.6" height="14.9" fill="#f6ee71"/><rect x="1514.8" y="1226.0" width="15.6" height="14.9" fill="#f8ef71"/><rect x="1529.7" y="1226.0" width="15.6" height="14.9" fill="#faef71"/><rect x="1544.7" y="1226.0" width="15.6" height="14.9" fill="#fbef71"/><rect x="1559.7" y="1226.0" width="15.6" height="14.9" fill="#fcef71"/><rect x="1574.7" y="1226.0" width="15.6" height="14.9" fill="#fcef71"/><rect x="1589.7" y="1226.0" width="15.6" height="14.9" fill="#fdef71"/><rect x="1604.7" y="1226.0" width="15.6" height="14.9" fill="#fdef71"/><rect x="1619.7" y="1226.0" width="15.6" height="14.9" fill="#fdef71"/><rect x="1634.7" y="1226.0" width="15.6" height="14.9" fill="#fdef71"/><rect x="1649.6" y="1226.0" width="15.6" height="14.9" fill="#feef71"/><rect x="1664.6" y="1226.0" width="15.6" height="14.9" fill="#feef71"/><rect x="1679.6" y="1226.0" width="15.6" height="14.9" fill="#feef71"/><rect x="1694.6" y="1226.0" width="15.6" height="14.9" fill="#feef71"/><rect x="1709.6" y="1226.0" width="15.6" height="14.9" fill="#feef71"/><rect x="1724.6" y="1226.0" width="15.6" height="14.9" fill="#feef71"/><rect x="1739.6" y="1226.0" width="15.6" height="14.9" fill="#feef71"/><rect x="1754.6" y="1226.0" width="15.6" height="14.9" fill="#feef71"/><rect x="1769.6" y="1226.0" width="15.6" height="14.9" fill="#feef71"/><rect x="1784.5" y="1226.0" width="15.6" height="14.9" fill="#feef71"/><rect x="1799.5" y="1226.0" width="15.6" height="14.9" fill="#feef71"/><rect x="1814.5" y="1226.0" width="15.6" height="14.9" fill="#feef71"/><rect x="1829.5" y="1226.0" width="15.6" height="14.9" fill="#feef71"/><rect x="1844.5" y="1226.0" width="15.6" height="14.9" fill="#feef71"/><rect x="1170.0" y="1240.3" width="15.6" height="14.9" fill="#865d93"/><rect x="1185.0" y="1240.3" width="15.6" height="14.9" fill="#865f95"/><rect x="1200.0" y="1240.3" width="15.6" height="14.9" fill="#87669c"/><rect x="1215.0" y="1240.3" width="15.6" height="14.9" fill="#8870a5"/><rect x="1230.0" y="1240.3" width="15.6" height="14.9" fill="#867bab"/><rect x="1245.0" y="1240.3" width="15.6" height="14.9" fill="#8387b1"/><rect x="1259.9" y="1240.3" width="15.6" height="14.9" fill="#7d93b4"/><rect x="1274.9" y="1240.3" width="15.6" height="14.9" fill="#789fb5"/><rect x="1289.9" y="1240.3" width="15.6" height="14.9" fill="#73abb5"/><rect x="1304.9" y="1240.3" width="15.6" height="14.9" fill="#6fb6b4"/><rect x="1319.9" y="1240.3" width="15.6" height="14.9" fill="#6fc1b1"/><rect x="1334.9" y="1240.3" width="15.6" height="14.9" fill="#75caac"/><rect x="1349.9" y="1240.3" width="15.6" height="14.9" fill="#83d3a4"/><rect x="1364.9" y="1240.3" width="15.6" height="14.9" fill="#94da9a"/><rect x="1379.9" y="1240.3" width="15.6" height="14.9" fill="#a5e090"/><rect x="1394.8" y="1240.3" width="15.6" height="14.9" fill="#b6e485"/><rect x="1409.8" y="1240.3" width="15.6" height="14.9" fill="#c5e77b"/><rect x="1424.8" y="1240.3" width="15.6" height="14.9" fill="#d2ea73"/><rect x="1439.8" y="1240.3" width="15.6" height="14.9" fill="#dceb72"/><rect x="1454.8" y="1240.3" width="15.6" height="14.9" fill="#e4ec72"/><rect x="1469.8" y="1240.3" width="15.6" height="14.9" fill="#ebed72"/><rect x="1484.8" y="1240.3" width="15.6" height="14.9" fill="#f0ee72"/><rect x="1499.8" y="1240.3" width="15.6" height="14.9" fill="#f4ee71"/><rect x="1514.8" y="1240.3" width="15.6" height="14.9" fill="#f7ef71"/><rect x="1529.7" y="1240.3" width="15.6" height="14.9" fill="#f9ef71"/><rect x="1544.7" y="1240.3" width="15.6" height="14.9" fill="#faef71"/><rect x="1559.7" y="1240.3" width="15.6" height="14.9" fill="#fbef71"/><rect x="1574.7" y="1240.3" width="15.6" height="14.9" fill="#fcef71"/><rect x="1589.7" y="1240.3" width="15.6" height="14.9" fill="#fdef71"/><rect x="1604.7" y="1240.3" width="15.6" height="14.9" fill="#fdef71"/><rect x="1619.7" y="1240.3" width="15.6" height="14.9" fill="#fdef71"/><rect x="1634.7" y="1240.3" width="15.6" height="14.9" fill="#fdef71"/><rect x="1649.6" y="1240.3" width="15.6" height="14.9" fill="#feef71"/><rect x="1664.6" y="1240.3" width="15.6" height="14.9" fill="#feef71"/><rect x="1679.6" y="1240.3" width="15.6" height="14.9" fill="#feef71"/><rect x="1694.6" y="1240.3" width="15.6" height="14.9" fill="#feef71"/><rect x="1709.6" y="1240.3" width="15.6" height="14.9" fill="#feef71"/><rect x="1724.6" y="1240.3" width="15.6" height="14.9" fill="#feef71"/><rect x="1739.6" y="1240.3" width="15.6" height="14.9" fill="#feef71"/><rect x="1754.6" y="1240.3" width="15.6" height="14.9" fill="#feef71"/><rect x="1769.6" y="1240.3" width="15.6" height="14.9" fill="#feef71"/><rect x="1784.5" y="1240.3" width="15.6" height="14.9" fill="#feef71"/><rect x="1799.5" y="1240.3" width="15.6" height="14.9" fill="#feef71"/><rect x="1814.5" y="1240.3" width="15.6" height="14.9" fill="#feef71"/><rect x="1829.5" y="1240.3" width="15.6" height="14.9" fill="#feef71"/><rect x="1844.5" y="1240.3" width="15.6" height="14.9" fill="#feef71"/><rect x="1170.0" y="1254.7" width="15.6" height="14.9" fill="#865c92"/><rect x="1185.0" y="1254.7" width="15.6" height="14.9" fill="#865f94"/><rect x="1200.0" y="1254.7" width="15.6" height="14.9" fill="#87659a"/><rect x="1215.0" y="1254.7" width="15.6" height="14.9" fill="#886da2"/><rect x="1230.0" y="1254.7" width="15.6" height="14.9" fill="#8777a9"/><rect x="1245.0" y="1254.7" width="15.6" height="14.9" fill="#8482af"/><rect x="1259.9" y="1254.7" width="15.6" height="14.9" fill="#808db3"/><rect x="1274.9" y="1254.7" width="15.6" height="14.9" fill="#7b99b5"/><rect x="1289.9" y="1254.7" width="15.6" height="14.9" fill="#76a4b5"/><rect x="1304.9" y="1254.7" width="15.6" height="14.9" fill="#72afb5"/><rect x="1319.9" y="1254.7" width="15.6" height="14.9" fill="#6fbab3"/><rect x="1334.9" y="1254.7" width="15.6" height="14.9" fill="#6fc3b0"/><rect x="1349.9" y="1254.7" width="15.6" height="14.9" fill="#78cdaa"/><rect x="1364.9" y="1254.7" width="15.6" height="14.9" fill="#85d5a2"/><rect x="1379.9" y="1254.7" width="15.6" height="14.9" fill="#96db99"/><rect x="1394.8" y="1254.7" width="15.6" height="14.9" fill="#a6e090"/><rect x="1409.8" y="1254.7" width="15.6" height="14.9" fill="#b6e485"/><rect x="1424.8" y="1254.7" width="15.6" height="14.9" fill="#c4e77c"/><rect x="1439.8" y="1254.7" width="15.6" height="14.9" fill="#d0e974"/><rect x="1454.8" y="1254.7" width="15.6" height="14.9" fill="#daeb72"/><rect x="1469.8" y="1254.7" width="15.6" height="14.9" fill="#e2ec72"/><rect x="1484.8" y="1254.7" width="15.6" height="14.9" fill="#e8ed72"/><rect x="1499.8" y="1254.7" width="15.6" height="14.9" fill="#eded72"/><rect x="1514.8" y="1254.7" width="15.6" height="14.9" fill="#f1ee71"/><rect x="1529.7" y="1254.7" width="15.6" height="14.9" fill="#f4ee71"/><rect x="1544.7" y="1254.7" width="15.6" height="14.9" fill="#f7ef71"/><rect x="1559.7" y="1254.7" width="15.6" height="14.9" fill="#f8ef71"/><rect x="1574.7" y="1254.7" width="15.6" height="14.9" fill="#faef71"/><rect x="1589.7" y="1254.7" width="15.6" height="14.9" fill="#fbef71"/><rect x="1604.7" y="1254.7" width="15.6" height="14.9" fill="#fcef71"/><rect x="1619.7" y="1254.7" width="15.6" height="14.9" fill="#fcef71"/><rect x="1634.7" y="1254.7" width="15.6" height="14.9" fill="#fdef71"/><rect x="1649.6" y="1254.7" width="15.6" height="14.9" fill="#fdef71"/><rect x="1664.6" y="1254.7" width="15.6" height="14.9" fill="#fdef71"/><rect x="1679.6" y="1254.7" width="15.6" height="14.9" fill="#fdef71"/><rect x="1694.6" y="1254.7" width="15.6" height="14.9" fill="#fdef71"/><rect x="1709.6" y="1254.7" width="15.6" height="14.9" fill="#fdef71"/><rect x="1724.6" y="1254.7" width="15.6" height="14.9" fill="#feef71"/><rect x="1739.6" y="1254.7" width="15.6" height="14.9" fill="#feef71"/><rect x="1754.6" y="1254.7" width="15.6" height="14.9" fill="#feef71"/><rect x="1769.6" y="1254.7" width="15.6" height="14.9" fill="#feef71"/><rect x="1784.5" y="1254.7" width="15.6" height="14.9" fill="#feef71"/><rect x="1799.5" y="1254.7" width="15.6" height="14.9" fill="#feef71"/><rect x="1814.5" y="1254.7" width="15.6" height="14.9" fill="#feef71"/><rect x="1829.5" y="1254.7" width="15.6" height="14.9" fill="#feef71"/><rect x="1844.5" y="1254.7" width="15.6" height="14.9" fill="#feef71"/><rect x="1170.0" y="1269.0" width="15.6" height="14.9" fill="#865c92"/><rect x="1185.0" y="1269.0" width="15.6" height="14.9" fill="#865e94"/><rect x="1200.0" y="1269.0" width="15.6" height="14.9" fill="#866398"/><rect x="1215.0" y="1269.0" width="15.6" height="14.9" fill="#876a9f"/><rect x="1230.0" y="1269.0" width="15.6" height="14.9" fill="#8773a7"/><rect x="1245.0" y="1269.0" width="15.6" height="14.9" fill="#857dac"/><rect x="1259.9" y="1269.0" width="15.6" height="14.9" fill="#8288b2"/><rect x="1274.9" y="1269.0" width="15.6" height="14.9" fill="#7e92b4"/><rect x="1289.9" y="1269.0" width="15.6" height="14.9" fill="#799db5"/><rect x="1304.9" y="1269.0" width="15.6" height="14.9" fill="#75a7b6"/><rect x="1319.9" y="1269.0" width="15.6" height="14.9" fill="#71b1b5"/><rect x="1334.9" y="1269.0" width="15.6" height="14.9" fill="#6fbbb3"/><rect x="1349.9" y="1269.0" width="15.6" height="14.9" fill="#6fc4b0"/><rect x="1364.9" y="1269.0" width="15.6" height="14.9" fill="#77ccaa"/><rect x="1379.9" y="1269.0" width="15.6" height="14.9" fill="#82d3a4"/><rect x="1394.8" y="1269.0" width="15.6" height="14.9" fill="#91d99b"/><rect x="1409.8" y="1269.0" width="15.6" height="14.9" fill="#9fde93"/><rect x="1424.8" y="1269.0" width="15.6" height="14.9" fill="#ade28b"/><rect x="1439.8" y="1269.0" width="15.6" height="14.9" fill="#bbe582"/><rect x="1454.8" y="1269.0" width="15.6" height="14.9" fill="#c7e77a"/><rect x="1469.8" y="1269.0" width="15.6" height="14.9" fill="#d1ea74"/><rect x="1484.8" y="1269.0" width="15.6" height="14.9" fill="#daeb72"/><rect x="1499.8" y="1269.0" width="15.6" height="14.9" fill="#e0ec72"/><rect x="1514.8" y="1269.0" width="15.6" height="14.9" fill="#e6ec72"/><rect x="1529.7" y="1269.0" width="15.6" height="14.9" fill="#ebed72"/><rect x="1544.7" y="1269.0" width="15.6" height="14.9" fill="#efee72"/><rect x="1559.7" y="1269.0" width="15.6" height="14.9" fill="#f2ee71"/><rect x="1574.7" y="1269.0" width="15.6" height="14.9" fill="#f5ee71"/><rect x="1589.7" y="1269.0" width="15.6" height="14.9" fill="#f7ef71"/><rect x="1604.7" y="1269.0" width="15.6" height="14.9" fill="#f8ef71"/><rect x="1619.7" y="1269.0" width="15.6" height="14.9" fill="#f9ef71"/><rect x="1634.7" y="1269.0" width="15.6" height="14.9" fill="#faef71"/><rect x="1649.6" y="1269.0" width="15.6" height="14.9" fill="#fbef71"/><rect x="1664.6" y="1269.0" width="15.6" height="14.9" fill="#fcef71"/><rect x="1679.6" y="1269.0" width="15.6" height="14.9" fill="#fcef71"/><rect x="1694.6" y="1269.0" width="15.6" height="14.9" fill="#fdef71"/><rect x="1709.6" y="1269.0" width="15.6" height="14.9" fill="#fdef71"/><rect x="1724.6" y="1269.0" width="15.6" height="14.9" fill="#fdef71"/><rect x="1739.6" y="1269.0" width="15.6" height="14.9" fill="#fdef71"/><rect x="1754.6" y="1269.0" width="15.6" height="14.9" fill="#fdef71"/><rect x="1769.6" y="1269.0" width="15.6" height="14.9" fill="#feef71"/><rect x="1784.5" y="1269.0" width="15.6" height="14.9" fill="#feef71"/><rect x="1799.5" y="1269.0" width="15.6" height="14.9" fill="#feef71"/><rect x="1814.5" y="1269.0" width="15.6" height="14.9" fill="#feef71"/><rect x="1829.5" y="1269.0" width="15.6" height="14.9" fill="#feef71"/><rect x="1844.5" y="1269.0" width="15.6" height="14.9" fill="#feef71"/><rect x="1170.0" y="1283.4" width="15.6" height="14.9" fill="#865c91"/><rect x="1185.0" y="1283.4" width="15.6" height="14.9" fill="#865d93"/><rect x="1200.0" y="1283.4" width="15.6" height="14.9" fill="#866197"/><rect x="1215.0" y="1283.4" width="15.6" height="14.9" fill="#87689d"/><rect x="1230.0" y="1283.4" width="15.6" height="14.9" fill="#886fa4"/><rect x="1245.0" y="1283.4" width="15.6" height="14.9" fill="#8678aa"/><rect x="1259.9" y="1283.4" width="15.6" height="14.9" fill="#8482af"/><rect x="1274.9" y="1283.4" width="15.6" height="14.9" fill="#818cb2"/><rect x="1289.9" y="1283.4" width="15.6" height="14.9" fill="#7c95b5"/><rect x="1304.9" y="1283.4" width="15.6" height="14.9" fill="#789fb5"/><rect x="1319.9" y="1283.4" width="15.6" height="14.9" fill="#74a8b5"/><rect x="1334.9" y="1283.4" width="15.6" height="14.9" fill="#71b2b5"/><rect x="1349.9" y="1283.4" width="15.6" height="14.9" fill="#6fbbb3"/><rect x="1364.9" y="1283.4" width="15.6" height="14.9" fill="#6fc3b0"/><rect x="1379.9" y="1283.4" width="15.6" height="14.9" fill="#75caac"/><rect x="1394.8" y="1283.4" width="15.6" height="14.9" fill="#80d1a5"/><rect x="1409.8" y="1283.4" width="15.6" height="14.9" fill="#8cd79f"/><rect x="1424.8" y="1283.4" width="15.6" height="14.9" fill="#9adc96"/><rect x="1439.8" y="1283.4" width="15.6" height="14.9" fill="#a6e08f"/><rect x="1454.8" y="1283.4" width="15.6" height="14.9" fill="#b3e387"/><rect x="1469.8" y="1283.4" width="15.6" height="14.9" fill="#c0e67f"/><rect x="1484.8" y="1283.4" width="15.6" height="14.9" fill="#cae878"/><rect x="1499.8" y="1283.4" width="15.6" height="14.9" fill="#d4ea72"/><rect x="1514.8" y="1283.4" width="15.6" height="14.9" fill="#dbeb72"/><rect x="1529.7" y="1283.4" width="15.6" height="14.9" fill="#e2ec72"/><rect x="1544.7" y="1283.4" width="15.6" height="14.9" fill="#e7ed72"/><rect x="1559.7" y="1283.4" width="15.6" height="14.9" fill="#ebed72"/><rect x="1574.7" y="1283.4" width="15.6" height="14.9" fill="#efee72"/><rect x="1589.7" y="1283.4" width="15.6" height="14.9" fill="#f2ee71"/><rect x="1604.7" y="1283.4" width="15.6" height="14.9" fill="#f5ee71"/><rect x="1619.7" y="1283.4" width="15.6" height="14.9" fill="#f7ef71"/><rect x="1634.7" y="1283.4" width="15.6" height="14.9" fill="#f8ef71"/><rect x="1649.6" y="1283.4" width="15.6" height="14.9" fill="#faef71"/><rect x="1664.6" y="1283.4" width="15.6" height="14.9" fill="#fbef71"/><rect x="1679.6" y="1283.4" width="15.6" height="14.9" fill="#fbef71"/><rect x="1694.6" y="1283.4" width="15.6" height="14.9" fill="#fcef71"/><rect x="1709.6" y="1283.4" width="15.6" height="14.9" fill="#fcef71"/><rect x="1724.6" y="1283.4" width="15.6" height="14.9" fill="#fdef71"/><rect x="1739.6" y="1283.4" width="15.6" height="14.9" fill="#fdef71"/><rect x="1754.6" y="1283.4" width="15.6" height="14.9" fill="#fdef71"/><rect x="1769.6" y="1283.4" width="15.6" height="14.9" fill="#fdef71"/><rect x="1784.5" y="1283.4" width="15.6" height="14.9" fill="#fdef71"/><rect x="1799.5" y="1283.4" width="15.6" height="14.9" fill="#feef71"/><rect x="1814.5" y="1283.4" width="15.6" height="14.9" fill="#feef71"/><rect x="1829.5" y="1283.4" width="15.6" height="14.9" fill="#feef71"/><rect x="1844.5" y="1283.4" width="15.6" height="14.9" fill="#feef71"/><rect x="1170.0" y="1297.7" width="15.6" height="14.9" fill="#865b91"/><rect x="1185.0" y="1297.7" width="15.6" height="14.9" fill="#865c92"/><rect x="1200.0" y="1297.7" width="15.6" height="14.9" fill="#866095"/><rect x="1215.0" y="1297.7" width="15.6" height="14.9" fill="#87659a"/><rect x="1230.0" y="1297.7" width="15.6" height="14.9" fill="#876ba0"/><rect x="1245.0" y="1297.7" width="15.6" height="14.9" fill="#8873a7"/><rect x="1259.9" y="1297.7" width="15.6" height="14.9" fill="#867bab"/><rect x="1274.9" y="1297.7" width="15.6" height="14.9" fill="#8485b1"/><rect x="1289.9" y="1297.7" width="15.6" height="14.9" fill="#808eb3"/><rect x="1304.9" y="1297.7" width="15.6" height="14.9" fill="#7c97b5"/><rect x="1319.9" y="1297.7" width="15.6" height="14.9" fill="#789fb5"/><rect x="1334.9" y="1297.7" width="15.6" height="14.9" fill="#74a8b5"/><rect x="1349.9" y="1297.7" width="15.6" height="14.9" fill="#71b1b5"/><rect x="1364.9" y="1297.7" width="15.6" height="14.9" fill="#6fbab4"/><rect x="1379.9" y="1297.7" width="15.6" height="14.9" fill="#6fc1b1"/><rect x="1394.8" y="1297.7" width="15.6" height="14.9" fill="#73c9ad"/><rect x="1409.8" y="1297.7" width="15.6" height="14.9" fill="#7dd0a7"/><rect x="1424.8" y="1297.7" width="15.6" height="14.9" fill="#87d6a1"/><rect x="1439.8" y="1297.7" width="15.6" height="14.9" fill="#95db99"/><rect x="1454.8" y="1297.7" width="15.6" height="14.9" fill="#a2df92"/><rect x="1469.8" y="1297.7" width="15.6" height="14.9" fill="#aee28a"/><rect x="1484.8" y="1297.7" width="15.6" height="14.9" fill="#bbe582"/><rect x="1499.8" y="1297.7" width="15.6" height="14.9" fill="#c6e77b"/><rect x="1514.8" y="1297.7" width="15.6" height="14.9" fill="#d0e975"/><rect x="1529.7" y="1297.7" width="15.6" height="14.9" fill="#d8eb72"/><rect x="1544.7" y="1297.7" width="15.6" height="14.9" fill="#dfec72"/><rect x="1559.7" y="1297.7" width="15.6" height="14.9" fill="#e5ec72"/><rect x="1574.7" y="1297.7" width="15.6" height="14.9" fill="#eaed72"/><rect x="1589.7" y="1297.7" width="15.6" height="14.9" fill="#eeed72"/><rect x="1604.7" y="1297.7" width="15.6" height="14.9" fill="#f1ee71"/><rect x="1619.7" y="1297.7" width="15.6" height="14.9" fill="#f4ee71"/><rect x="1634.7" y="1297.7" width="15.6" height="14.9" fill="#f6ee71"/><rect x="1649.6" y="1297.7" width="15.6" height="14.9" fill="#f8ef71"/><rect x="1664.6" y="1297.7" width="15.6" height="14.9" fill="#f9ef71"/><rect x="1679.6" y="1297.7" width="15.6" height="14.9" fill="#fbef71"/><rect x="1694.6" y="1297.7" width="15.6" height="14.9" fill="#fbef71"/><rect x="1709.6" y="1297.7" width="15.6" height="14.9" fill="#fcef71"/><rect x="1724.6" y="1297.7" width="15.6" height="14.9" fill="#fcef71"/><rect x="1739.6" y="1297.7" width="15.6" height="14.9" fill="#fdef71"/><rect x="1754.6" y="1297.7" width="15.6" height="14.9" fill="#fdef71"/><rect x="1769.6" y="1297.7" width="15.6" height="14.9" fill="#fdef71"/><rect x="1784.5" y="1297.7" width="15.6" height="14.9" fill="#fdef71"/><rect x="1799.5" y="1297.7" width="15.6" height="14.9" fill="#fdef71"/><rect x="1814.5" y="1297.7" width="15.6" height="14.9" fill="#feef71"/><rect x="1829.5" y="1297.7" width="15.6" height="14.9" fill="#feef71"/><rect x="1844.5" y="1297.7" width="15.6" height="14.9" fill="#feef71"/><rect x="1170.0" y="1312.0" width="15.6" height="14.9" fill="#865b91"/><rect x="1185.0" y="1312.0" width="15.6" height="14.9" fill="#865c92"/><rect x="1200.0" y="1312.0" width="15.6" height="14.9" fill="#865e94"/><rect x="1215.0" y="1312.0" width="15.6" height="14.9" fill="#866298"/><rect x="1230.0" y="1312.0" width="15.6" height="14.9" fill="#87679c"/><rect x="1245.0" y="1312.0" width="15.6" height="14.9" fill="#886ea3"/><rect x="1259.9" y="1312.0" width="15.6" height="14.9" fill="#8775a8"/><rect x="1274.9" y="1312.0" width="15.6" height="14.9" fill="#857dac"/><rect x="1289.9" y="1312.0" width="15.6" height="14.9" fill="#8386b1"/><rect x="1304.9" y="1312.0" width="15.6" height="14.9" fill="#808eb3"/><rect x="1319.9" y="1312.0" width="15.6" height="14.9" fill="#7c97b5"/><rect x="1334.9" y="1312.0" width="15.6" height="14.9" fill="#789fb5"/><rect x="1349.9" y="1312.0" width="15.6" height="14.9" fill="#75a7b6"/><rect x="1364.9" y="1312.0" width="15.6" height="14.9" fill="#71b0b5"/><rect x="1379.9" y="1312.0" width="15.6" height="14.9" fill="#6fb8b4"/><rect x="1394.8" y="1312.0" width="15.6" height="14.9" fill="#6fc0b1"/><rect x="1409.8" y="1312.0" width="15.6" height="14.9" fill="#70c7ae"/><rect x="1424.8" y="1312.0" width="15.6" height="14.9" fill="#7bcea8"/><rect x="1439.8" y="1312.0" width="15.6" height="14.9" fill="#84d5a3"/><rect x="1454.8" y="1312.0" width="15.6" height="14.9" fill="#92da9b"/><rect x="1469.8" y="1312.0" width="15.6" height="14.9" fill="#9fde93"/><rect x="1484.8" y="1312.0" width="15.6" height="14.9" fill="#abe28c"/><rect x="1499.8" y="1312.0" width="15.6" height="14.9" fill="#b9e484"/><rect x="1514.8" y="1312.0" width="15.6" height="14.9" fill="#c4e77c"/><rect x="1529.7" y="1312.0" width="15.6" height="14.9" fill="#cee976"/><rect x="1544.7" y="1312.0" width="15.6" height="14.9" fill="#d7eb72"/><rect x="1559.7" y="1312.0" width="15.6" height="14.9" fill="#deeb72"/><rect x="1574.7" y="1312.0" width="15.6" height="14.9" fill="#e5ec72"/><rect x="1589.7" y="1312.0" width="15.6" height="14.9" fill="#eaed72"/><rect x="1604.7" y="1312.0" width="15.6" height="14.9" fill="#eeed72"/><rect x="1619.7" y="1312.0" width="15.6" height="14.9" fill="#f1ee71"/><rect x="1634.7" y="1312.0" width="15.6" height="14.9" fill="#f4ee71"/><rect x="1649.6" y="1312.0" width="15.6" height="14.9" fill="#f7ef71"/><rect x="1664.6" y="1312.0" width="15.6" height="14.9" fill="#f8ef71"/><rect x="1679.6" y="1312.0" width="15.6" height="14.9" fill="#faef71"/><rect x="1694.6" y="1312.0" width="15.6" height="14.9" fill="#fbef71"/><rect x="1709.6" y="1312.0" width="15.6" height="14.9" fill="#fcef71"/><rect x="1724.6" y="1312.0" width="15.6" height="14.9" fill="#fcef71"/><rect x="1739.6" y="1312.0" width="15.6" height="14.9" fill="#fdef71"/><rect x="1754.6" y="1312.0" width="15.6" height="14.9" fill="#fdef71"/><rect x="1769.6" y="1312.0" width="15.6" height="14.9" fill="#fdef71"/><rect x="1784.5" y="1312.0" width="15.6" height="14.9" fill="#fdef71"/><rect x="1799.5" y="1312.0" width="15.6" height="14.9" fill="#fdef71"/><rect x="1814.5" y="1312.0" width="15.6" height="14.9" fill="#feef71"/><rect x="1829.5" y="1312.0" width="15.6" height="14.9" fill="#feef71"/><rect x="1844.5" y="1312.0" width="15.6" height="14.9" fill="#feef71"/><rect x="1170.0" y="1326.4" width="15.6" height="14.9" fill="#865b91"/><rect x="1185.0" y="1326.4" width="15.6" height="14.9" fill="#865b91"/><rect x="1200.0" y="1326.4" width="15.6" height="14.9" fill="#865e93"/><rect x="1215.0" y="1326.4" width="15.6" height="14.9" fill="#866196"/><rect x="1230.0" y="1326.4" width="15.6" height="14.9" fill="#87659a"/><rect x="1245.0" y="1326.4" width="15.6" height="14.9" fill="#876ba0"/><rect x="1259.9" y="1326.4" width="15.6" height="14.9" fill="#8871a5"/><rect x="1274.9" y="1326.4" width="15.6" height="14.9" fill="#8678a9"/><rect x="1289.9" y="1326.4" width="15.6" height="14.9" fill="#8580ae"/><rect x="1304.9" y="1326.4" width="15.6" height="14.9" fill="#8288b2"/><rect x="1319.9" y="1326.4" width="15.6" height="14.9" fill="#7f8fb3"/><rect x="1334.9" y="1326.4" width="15.6" height="14.9" fill="#7b98b5"/><rect x="1349.9" y="1326.4" width="15.6" height="14.9" fill="#789fb5"/><rect x="1364.9" y="1326.4" width="15.6" height="14.9" fill="#75a7b6"/><rect x="1379.9" y="1326.4" width="15.6" height="14.9" fill="#72afb5"/><rect x="1394.8" y="1326.4" width="15.6" height="14.9" fill="#6fb7b4"/><rect x="1409.8" y="1326.4" width="15.6" height="14.9" fill="#6fbeb2"/><rect x="1424.8" y="1326.4" width="15.6" height="14.9" fill="#6fc5b0"/><rect x="1439.8" y="1326.4" width="15.6" height="14.9" fill="#76cbab"/><rect x="1454.8" y="1326.4" width="15.6" height="14.9" fill="#7fd1a6"/><rect x="1469.8" y="1326.4" width="15.6" height="14.9" fill="#89d6a0"/><rect x="1484.8" y="1326.4" width="15.6" height="14.9" fill="#95da99"/><rect x="1499.8" y="1326.4" width="15.6" height="14.9" fill="#a0de93"/><rect x="1514.8" y="1326.4" width="15.6" height="14.9" fill="#a9e18d"/><rect x="1529.7" y="1326.4" width="15.6" height="14.9" fill="#b4e486"/><rect x="1544.7" y="1326.4" width="15.6" height="14.9" fill="#bde580"/><rect x="1559.7" y="1326.4" width="15.6" height="14.9" fill="#c6e77b"/><rect x="1574.7" y="1326.4" width="15.6" height="14.9" fill="#cde977"/><rect x="1589.7" y="1326.4" width="15.6" height="14.9" fill="#d3ea73"/><rect x="1604.7" y="1326.4" width="15.6" height="14.9" fill="#d7eb72"/><rect x="1619.7" y="1326.4" width="15.6" height="14.9" fill="#dbeb72"/><rect x="1634.7" y="1326.4" width="15.6" height="14.9" fill="#dfec72"/><rect x="1649.6" y="1326.4" width="15.6" height="14.9" fill="#e2ec72"/><rect x="1664.6" y="1326.4" width="15.6" height="14.9" fill="#e4ec72"/><rect x="1679.6" y="1326.4" width="15.6" height="14.9" fill="#e6ec72"/><rect x="1694.6" y="1326.4" width="15.6" height="14.9" fill="#e7ed72"/><rect x="1709.6" y="1326.4" width="15.6" height="14.9" fill="#e9ed72"/><rect x="1724.6" y="1326.4" width="15.6" height="14.9" fill="#eaed72"/><rect x="1739.6" y="1326.4" width="15.6" height="14.9" fill="#ebed72"/><rect x="1754.6" y="1326.4" width="15.6" height="14.9" fill="#eced72"/><rect x="1769.6" y="1326.4" width="15.6" height="14.9" fill="#eced72"/><rect x="1784.5" y="1326.4" width="15.6" height="14.9" fill="#eded72"/><rect x="1799.5" y="1326.4" width="15.6" height="14.9" fill="#eeed72"/><rect x="1814.5" y="1326.4" width="15.6" height="14.9" fill="#eeed72"/><rect x="1829.5" y="1326.4" width="15.6" height="14.9" fill="#efee72"/><rect x="1844.5" y="1326.4" width="15.6" height="14.9" fill="#efee72"/><rect x="1170.0" y="1340.7" width="15.6" height="14.9" fill="#865b91"/><rect x="1185.0" y="1340.7" width="15.6" height="14.9" fill="#865b91"/><rect x="1200.0" y="1340.7" width="15.6" height="14.9" fill="#865e93"/><rect x="1215.0" y="1340.7" width="15.6" height="14.9" fill="#866096"/><rect x="1230.0" y="1340.7" width="15.6" height="14.9" fill="#87649a"/><rect x="1245.0" y="1340.7" width="15.6" height="14.9" fill="#87699e"/><rect x="1259.9" y="1340.7" width="15.6" height="14.9" fill="#886fa4"/><rect x="1274.9" y="1340.7" width="15.6" height="14.9" fill="#8775a8"/><rect x="1289.9" y="1340.7" width="15.6" height="14.9" fill="#867cac"/><rect x="1304.9" y="1340.7" width="15.6" height="14.9" fill="#8484b0"/><rect x="1319.9" y="1340.7" width="15.6" height="14.9" fill="#818bb2"/><rect x="1334.9" y="1340.7" width="15.6" height="14.9" fill="#7e92b4"/><rect x="1349.9" y="1340.7" width="15.6" height="14.9" fill="#7b99b5"/><rect x="1364.9" y="1340.7" width="15.6" height="14.9" fill="#78a0b5"/><rect x="1379.9" y="1340.7" width="15.6" height="14.9" fill="#75a7b6"/><rect x="1394.8" y="1340.7" width="15.6" height="14.9" fill="#72adb5"/><rect x="1409.8" y="1340.7" width="15.6" height="14.9" fill="#70b4b5"/><rect x="1424.8" y="1340.7" width="15.6" height="14.9" fill="#6fbab3"/><rect x="1439.8" y="1340.7" width="15.6" height="14.9" fill="#6fc0b1"/><rect x="1454.8" y="1340.7" width="15.6" height="14.9" fill="#6fc5af"/><rect x="1469.8" y="1340.7" width="15.6" height="14.9" fill="#75caac"/><rect x="1484.8" y="1340.7" width="15.6" height="14.9" fill="#7ccfa8"/><rect x="1499.8" y="1340.7" width="15.6" height="14.9" fill="#82d3a4"/><rect x="1514.8" y="1340.7" width="15.6" height="14.9" fill="#89d7a0"/><rect x="1529.7" y="1340.7" width="15.6" height="14.9" fill="#91d99b"/><rect x="1544.7" y="1340.7" width="15.6" height="14.9" fill="#98dc97"/><rect x="1559.7" y="1340.7" width="15.6" height="14.9" fill="#9ede94"/><rect x="1574.7" y="1340.7" width="15.6" height="14.9" fill="#a4e091"/><rect x="1589.7" y="1340.7" width="15.6" height="14.9" fill="#a9e18e"/><rect x="1604.7" y="1340.7" width="15.6" height="14.9" fill="#aee28a"/><rect x="1619.7" y="1340.7" width="15.6" height="14.9" fill="#b3e387"/><rect x="1634.7" y="1340.7" width="15.6" height="14.9" fill="#b7e485"/><rect x="1649.6" y="1340.7" width="15.6" height="14.9" fill="#bae582"/><rect x="1664.6" y="1340.7" width="15.6" height="14.9" fill="#bee580"/><rect x="1679.6" y="1340.7" width="15.6" height="14.9" fill="#c0e67f"/><rect x="1694.6" y="1340.7" width="15.6" height="14.9" fill="#c3e77d"/><rect x="1709.6" y="1340.7" width="15.6" height="14.9" fill="#c5e77c"/><rect x="1724.6" y="1340.7" width="15.6" height="14.9" fill="#c7e77a"/><rect x="1739.6" y="1340.7" width="15.6" height="14.9" fill="#c9e879"/><rect x="1754.6" y="1340.7" width="15.6" height="14.9" fill="#cbe878"/><rect x="1769.6" y="1340.7" width="15.6" height="14.9" fill="#cce977"/><rect x="1784.5" y="1340.7" width="15.6" height="14.9" fill="#cee976"/><rect x="1799.5" y="1340.7" width="15.6" height="14.9" fill="#d0e975"/><rect x="1814.5" y="1340.7" width="15.6" height="14.9" fill="#d1ea74"/><rect x="1829.5" y="1340.7" width="15.6" height="14.9" fill="#d2ea73"/><rect x="1844.5" y="1340.7" width="15.6" height="14.9" fill="#d3ea73"/><rect x="1170.0" y="1355.0" width="15.6" height="14.9" fill="#865b91"/><rect x="1185.0" y="1355.0" width="15.6" height="14.9" fill="#865c91"/><rect x="1200.0" y="1355.0" width="15.6" height="14.9" fill="#865d93"/><rect x="1215.0" y="1355.0" width="15.6" height="14.9" fill="#866096"/><rect x="1230.0" y="1355.0" width="15.6" height="14.9" fill="#876499"/><rect x="1245.0" y="1355.0" width="15.6" height="14.9" fill="#87689d"/><rect x="1259.9" y="1355.0" width="15.6" height="14.9" fill="#886da2"/><rect x="1274.9" y="1355.0" width="15.6" height="14.9" fill="#8873a6"/><rect x="1289.9" y="1355.0" width="15.6" height="14.9" fill="#8678aa"/><rect x="1304.9" y="1355.0" width="15.6" height="14.9" fill="#857fad"/><rect x="1319.9" y="1355.0" width="15.6" height="14.9" fill="#8386b1"/><rect x="1334.9" y="1355.0" width="15.6" height="14.9" fill="#818cb2"/><rect x="1349.9" y="1355.0" width="15.6" height="14.9" fill="#7e92b4"/><rect x="1364.9" y="1355.0" width="15.6" height="14.9" fill="#7b98b5"/><rect x="1379.9" y="1355.0" width="15.6" height="14.9" fill="#799eb5"/><rect x="1394.8" y="1355.0" width="15.6" height="14.9" fill="#76a4b5"/><rect x="1409.8" y="1355.0" width="15.6" height="14.9" fill="#74aab5"/><rect x="1424.8" y="1355.0" width="15.6" height="14.9" fill="#72afb5"/><rect x="1439.8" y="1355.0" width="15.6" height="14.9" fill="#70b4b4"/><rect x="1454.8" y="1355.0" width="15.6" height="14.9" fill="#6fb9b4"/><rect x="1469.8" y="1355.0" width="15.6" height="14.9" fill="#6fbeb2"/><rect x="1484.8" y="1355.0" width="15.6" height="14.9" fill="#6fc2b1"/><rect x="1499.8" y="1355.0" width="15.6" height="14.9" fill="#6fc6af"/><rect x="1514.8" y="1355.0" width="15.6" height="14.9" fill="#73c9ad"/><rect x="1529.7" y="1355.0" width="15.6" height="14.9" fill="#78ccaa"/><rect x="1544.7" y="1355.0" width="15.6" height="14.9" fill="#7ccfa8"/><rect x="1559.7" y="1355.0" width="15.6" height="14.9" fill="#80d2a5"/><rect x="1574.7" y="1355.0" width="15.6" height="14.9" fill="#84d4a3"/><rect x="1589.7" y="1355.0" width="15.6" height="14.9" fill="#87d6a1"/><rect x="1604.7" y="1355.0" width="15.6" height="14.9" fill="#8cd89e"/><rect x="1619.7" y="1355.0" width="15.6" height="14.9" fill="#90d99c"/><rect x="1634.7" y="1355.0" width="15.6" height="14.9" fill="#94da9a"/><rect x="1649.6" y="1355.0" width="15.6" height="14.9" fill="#97db98"/><rect x="1664.6" y="1355.0" width="15.6" height="14.9" fill="#9adc96"/><rect x="1679.6" y="1355.0" width="15.6" height="14.9" fill="#9ddd95"/><rect x="1694.6" y="1355.0" width="15.6" height="14.9" fill="#a0de93"/><rect x="1709.6" y="1355.0" width="15.6" height="14.9" fill="#a2df92"/><rect x="1724.6" y="1355.0" width="15.6" height="14.9" fill="#a4e090"/><rect x="1739.6" y="1355.0" width="15.6" height="14.9" fill="#a7e08f"/><rect x="1754.6" y="1355.0" width="15.6" height="14.9" fill="#a9e18e"/><rect x="1769.6" y="1355.0" width="15.6" height="14.9" fill="#abe28c"/><rect x="1784.5" y="1355.0" width="15.6" height="14.9" fill="#aee28a"/><rect x="1799.5" y="1355.0" width="15.6" height="14.9" fill="#b0e389"/><rect x="1814.5" y="1355.0" width="15.6" height="14.9" fill="#b3e387"/><rect x="1829.5" y="1355.0" width="15.6" height="14.9" fill="#b5e486"/><rect x="1844.5" y="1355.0" width="15.6" height="14.9" fill="#b6e485"/><rect x="1170.0" y="1369.4" width="15.6" height="14.9" fill="#865b91"/><rect x="1185.0" y="1369.4" width="15.6" height="14.9" fill="#865c91"/><rect x="1200.0" y="1369.4" width="15.6" height="14.9" fill="#865d93"/><rect x="1215.0" y="1369.4" width="15.6" height="14.9" fill="#866096"/><rect x="1230.0" y="1369.4" width="15.6" height="14.9" fill="#866398"/><rect x="1245.0" y="1369.4" width="15.6" height="14.9" fill="#87679c"/><rect x="1259.9" y="1369.4" width="15.6" height="14.9" fill="#876ba0"/><rect x="1274.9" y="1369.4" width="15.6" height="14.9" fill="#8870a5"/><rect x="1289.9" y="1369.4" width="15.6" height="14.9" fill="#8775a8"/><rect x="1304.9" y="1369.4" width="15.6" height="14.9" fill="#867aab"/><rect x="1319.9" y="1369.4" width="15.6" height="14.9" fill="#8580ae"/><rect x="1334.9" y="1369.4" width="15.6" height="14.9" fill="#8386b1"/><rect x="1349.9" y="1369.4" width="15.6" height="14.9" fill="#818bb2"/><rect x="1364.9" y="1369.4" width="15.6" height="14.9" fill="#7f90b3"/><rect x="1379.9" y="1369.4" width="15.6" height="14.9" fill="#7c95b5"/><rect x="1394.8" y="1369.4" width="15.6" height="14.9" fill="#7a9ab5"/><rect x="1409.8" y="1369.4" width="15.6" height="14.9" fill="#789fb5"/><rect x="1424.8" y="1369.4" width="15.6" height="14.9" fill="#76a4b5"/><rect x="1439.8" y="1369.4" width="15.6" height="14.9" fill="#74a8b5"/><rect x="1454.8" y="1369.4" width="15.6" height="14.9" fill="#73adb5"/><rect x="1469.8" y="1369.4" width="15.6" height="14.9" fill="#71b1b5"/><rect x="1484.8" y="1369.4" width="15.6" height="14.9" fill="#70b5b4"/><rect x="1499.8" y="1369.4" width="15.6" height="14.9" fill="#6fb8b4"/><rect x="1514.8" y="1369.4" width="15.6" height="14.9" fill="#6fbbb3"/><rect x="1529.7" y="1369.4" width="15.6" height="14.9" fill="#6fbeb2"/><rect x="1544.7" y="1369.4" width="15.6" height="14.9" fill="#6fc1b1"/><rect x="1559.7" y="1369.4" width="15.6" height="14.9" fill="#6fc3b0"/><rect x="1574.7" y="1369.4" width="15.6" height="14.9" fill="#6fc6af"/><rect x="1589.7" y="1369.4" width="15.6" height="14.9" fill="#72c8ae"/><rect x="1604.7" y="1369.4" width="15.6" height="14.9" fill="#75caac"/><rect x="1619.7" y="1369.4" width="15.6" height="14.9" fill="#77ccaa"/><rect x="1634.7" y="1369.4" width="15.6" height="14.9" fill="#7acea9"/><rect x="1649.6" y="1369.4" width="15.6" height="14.9" fill="#7ccfa7"/><rect x="1664.6" y="1369.4" width="15.6" height="14.9" fill="#7fd1a6"/><rect x="1679.6" y="1369.4" width="15.6" height="14.9" fill="#81d2a5"/><rect x="1694.6" y="1369.4" width="15.6" height="14.9" fill="#83d4a4"/><rect x="1709.6" y="1369.4" width="15.6" height="14.9" fill="#85d5a2"/><rect x="1724.6" y="1369.4" width="15.6" height="14.9" fill="#88d6a1"/><rect x="1739.6" y="1369.4" width="15.6" height="14.9" fill="#8bd79f"/><rect x="1754.6" y="1369.4" width="15.6" height="14.9" fill="#8dd89d"/><rect x="1769.6" y="1369.4" width="15.6" height="14.9" fill="#90d99c"/><rect x="1784.5" y="1369.4" width="15.6" height="14.9" fill="#93da9a"/><rect x="1799.5" y="1369.4" width="15.6" height="14.9" fill="#96db99"/><rect x="1814.5" y="1369.4" width="15.6" height="14.9" fill="#98dc97"/><rect x="1829.5" y="1369.4" width="15.6" height="14.9" fill="#9bdd96"/><rect x="1844.5" y="1369.4" width="15.6" height="14.9" fill="#9cdd95"/><rect x="1170.0" y="1383.7" width="15.6" height="14.9" fill="#865b91"/><rect x="1185.0" y="1383.7" width="15.6" height="14.9" fill="#865c92"/><rect x="1200.0" y="1383.7" width="15.6" height="14.9" fill="#865d93"/><rect x="1215.0" y="1383.7" width="15.6" height="14.9" fill="#866095"/><rect x="1230.0" y="1383.7" width="15.6" height="14.9" fill="#866298"/><rect x="1245.0" y="1383.7" width="15.6" height="14.9" fill="#87669b"/><rect x="1259.9" y="1383.7" width="15.6" height="14.9" fill="#87699e"/><rect x="1274.9" y="1383.7" width="15.6" height="14.9" fill="#886da2"/><rect x="1289.9" y="1383.7" width="15.6" height="14.9" fill="#8871a6"/><rect x="1304.9" y="1383.7" width="15.6" height="14.9" fill="#8776a8"/><rect x="1319.9" y="1383.7" width="15.6" height="14.9" fill="#867aab"/><rect x="1334.9" y="1383.7" width="15.6" height="14.9" fill="#857fad"/><rect x="1349.9" y="1383.7" width="15.6" height="14.9" fill="#8483b0"/><rect x="1364.9" y="1383.7" width="15.6" height="14.9" fill="#8288b2"/><rect x="1379.9" y="1383.7" width="15.6" height="14.9" fill="#818cb2"/><rect x="1394.8" y="1383.7" width="15.6" height="14.9" fill="#7f90b3"/><rect x="1409.8" y="1383.7" width="15.6" height="14.9" fill="#7d94b4"/><rect x="1424.8" y="1383.7" width="15.6" height="14.9" fill="#7b98b5"/><rect x="1439.8" y="1383.7" width="15.6" height="14.9" fill="#799cb5"/><rect x="1454.8" y="1383.7" width="15.6" height="14.9" fill="#78a0b5"/><rect x="1469.8" y="1383.7" width="15.6" height="14.9" fill="#76a3b5"/><rect x="1484.8" y="1383.7" width="15.6" height="14.9" fill="#75a6b6"/><rect x="1499.8" y="1383.7" width="15.6" height="14.9" fill="#74aab5"/><rect x="1514.8" y="1383.7" width="15.6" height="14.9" fill="#73adb5"/><rect x="1529.7" y="1383.7" width="15.6" height="14.9" fill="#72b0b5"/><rect x="1544.7" y="1383.7" width="15.6" height="14.9" fill="#71b2b5"/><rect x="1559.7" y="1383.7" width="15.6" height="14.9" fill="#70b5b4"/><rect x="1574.7" y="1383.7" width="15.6" height="14.9" fill="#6fb7b4"/><rect x="1589.7" y="1383.7" width="15.6" height="14.9" fill="#6fbab4"/><rect x="1604.7" y="1383.7" width="15.6" height="14.9" fill="#6fbcb3"/><rect x="1619.7" y="1383.7" width="15.6" height="14.9" fill="#6fbeb2"/><rect x="1634.7" y="1383.7" width="15.6" height="14.9" fill="#6fc0b1"/><rect x="1649.6" y="1383.7" width="15.6" height="14.9" fill="#6fc2b1"/><rect x="1664.6" y="1383.7" width="15.6" height="14.9" fill="#6fc3b0"/><rect x="1679.6" y="1383.7" width="15.6" height="14.9" fill="#6fc5b0"/><rect x="1694.6" y="1383.7" width="15.6" height="14.9" fill="#70c7af"/><rect x="1709.6" y="1383.7" width="15.6" height="14.9" fill="#72c8ad"/><rect x="1724.6" y="1383.7" width="15.6" height="14.9" fill="#75caac"/><rect x="1739.6" y="1383.7" width="15.6" height="14.9" fill="#77ccab"/><rect x="1754.6" y="1383.7" width="15.6" height="14.9" fill="#79cda9"/><rect x="1769.6" y="1383.7" width="15.6" height="14.9" fill="#7ccfa8"/><rect x="1784.5" y="1383.7" width="15.6" height="14.9" fill="#7ed0a7"/><rect x="1799.5" y="1383.7" width="15.6" height="14.9" fill="#80d2a5"/><rect x="1814.5" y="1383.7" width="15.6" height="14.9" fill="#82d3a4"/><rect x="1829.5" y="1383.7" width="15.6" height="14.9" fill="#84d4a3"/><rect x="1844.5" y="1383.7" width="15.6" height="14.9" fill="#85d5a2"/><rect x="1170.0" y="1398.1" width="15.6" height="14.9" fill="#865b91"/><rect x="1185.0" y="1398.1" width="15.6" height="14.9" fill="#865c92"/><rect x="1200.0" y="1398.1" width="15.6" height="14.9" fill="#865d93"/><rect x="1215.0" y="1398.1" width="15.6" height="14.9" fill="#865f95"/><rect x="1230.0" y="1398.1" width="15.6" height="14.9" fill="#866297"/><rect x="1245.0" y="1398.1" width="15.6" height="14.9" fill="#87649a"/><rect x="1259.9" y="1398.1" width="15.6" height="14.9" fill="#87679c"/><rect x="1274.9" y="1398.1" width="15.6" height="14.9" fill="#876a9f"/><rect x="1289.9" y="1398.1" width="15.6" height="14.9" fill="#886da2"/><rect x="1304.9" y="1398.1" width="15.6" height="14.9" fill="#8871a5"/><rect x="1319.9" y="1398.1" width="15.6" height="14.9" fill="#8774a7"/><rect x="1334.9" y="1398.1" width="15.6" height="14.9" fill="#8778a9"/><rect x="1349.9" y="1398.1" width="15.6" height="14.9" fill="#867bab"/><rect x="1364.9" y="1398.1" width="15.6" height="14.9" fill="#857fad"/><rect x="1379.9" y="1398.1" width="15.6" height="14.9" fill="#8482af"/><rect x="1394.8" y="1398.1" width="15.6" height="14.9" fill="#8386b1"/><rect x="1409.8" y="1398.1" width="15.6" height="14.9" fill="#8289b2"/><rect x="1424.8" y="1398.1" width="15.6" height="14.9" fill="#818cb2"/><rect x="1439.8" y="1398.1" width="15.6" height="14.9" fill="#7f8fb3"/><rect x="1454.8" y="1398.1" width="15.6" height="14.9" fill="#7e92b4"/><rect x="1469.8" y="1398.1" width="15.6" height="14.9" fill="#7c95b5"/><rect x="1484.8" y="1398.1" width="15.6" height="14.9" fill="#7b98b5"/><rect x="1499.8" y="1398.1" width="15.6" height="14.9" fill="#7a9bb5"/><rect x="1514.8" y="1398.1" width="15.6" height="14.9" fill="#799eb5"/><rect x="1529.7" y="1398.1" width="15.6" height="14.9" fill="#78a0b5"/><rect x="1544.7" y="1398.1" width="15.6" height="14.9" fill="#76a3b5"/><rect x="1559.7" y="1398.1" width="15.6" height="14.9" fill="#75a5b5"/><rect x="1574.7" y="1398.1" width="15.6" height="14.9" fill="#74a8b5"/><rect x="1589.7" y="1398.1" width="15.6" height="14.9" fill="#73aab5"/><rect x="1604.7" y="1398.1" width="15.6" height="14.9" fill="#73adb5"/><rect x="1619.7" y="1398.1" width="15.6" height="14.9" fill="#72afb5"/><rect x="1634.7" y="1398.1" width="15.6" height="14.9" fill="#71b1b5"/><rect x="1649.6" y="1398.1" width="15.6" height="14.9" fill="#70b4b5"/><rect x="1664.6" y="1398.1" width="15.6" height="14.9" fill="#6fb6b4"/><rect x="1679.6" y="1398.1" width="15.6" height="14.9" fill="#6fb8b4"/><rect x="1694.6" y="1398.1" width="15.6" height="14.9" fill="#6fbab3"/><rect x="1709.6" y="1398.1" width="15.6" height="14.9" fill="#6fbcb3"/><rect x="1724.6" y="1398.1" width="15.6" height="14.9" fill="#6fbeb2"/><rect x="1739.6" y="1398.1" width="15.6" height="14.9" fill="#6fc0b1"/><rect x="1754.6" y="1398.1" width="15.6" height="14.9" fill="#6fc2b1"/><rect x="1769.6" y="1398.1" width="15.6" height="14.9" fill="#6fc3b0"/><rect x="1784.5" y="1398.1" width="15.6" height="14.9" fill="#6fc5b0"/><rect x="1799.5" y="1398.1" width="15.6" height="14.9" fill="#70c7af"/><rect x="1814.5" y="1398.1" width="15.6" height="14.9" fill="#73c9ad"/><rect x="1829.5" y="1398.1" width="15.6" height="14.9" fill="#75caac"/><rect x="1844.5" y="1398.1" width="15.6" height="14.9" fill="#76cbab"/><rect x="1170.0" y="1412.4" width="15.6" height="14.9" fill="#865b91"/><rect x="1185.0" y="1412.4" width="15.6" height="14.9" fill="#865c92"/><rect x="1200.0" y="1412.4" width="15.6" height="14.9" fill="#865d93"/><rect x="1215.0" y="1412.4" width="15.6" height="14.9" fill="#865f95"/><rect x="1230.0" y="1412.4" width="15.6" height="14.9" fill="#866197"/><rect x="1245.0" y="1412.4" width="15.6" height="14.9" fill="#876499"/><rect x="1259.9" y="1412.4" width="15.6" height="14.9" fill="#87669b"/><rect x="1274.9" y="1412.4" width="15.6" height="14.9" fill="#87699e"/><rect x="1289.9" y="1412.4" width="15.6" height="14.9" fill="#876ba0"/><rect x="1304.9" y="1412.4" width="15.6" height="14.9" fill="#886ea3"/><rect x="1319.9" y="1412.4" width="15.6" height="14.9" fill="#8871a6"/><rect x="1334.9" y="1412.4" width="15.6" height="14.9" fill="#8774a7"/><rect x="1349.9" y="1412.4" width="15.6" height="14.9" fill="#8777a9"/><rect x="1364.9" y="1412.4" width="15.6" height="14.9" fill="#867aaa"/><rect x="1379.9" y="1412.4" width="15.6" height="14.9" fill="#857dac"/><rect x="1394.8" y="1412.4" width="15.6" height="14.9" fill="#8580ae"/><rect x="1409.8" y="1412.4" width="15.6" height="14.9" fill="#8483b0"/><rect x="1424.8" y="1412.4" width="15.6" height="14.9" fill="#8386b1"/><rect x="1439.8" y="1412.4" width="15.6" height="14.9" fill="#8289b2"/><rect x="1454.8" y="1412.4" width="15.6" height="14.9" fill="#818bb2"/><rect x="1469.8" y="1412.4" width="15.6" height="14.9" fill="#808eb3"/><rect x="1484.8" y="1412.4" width="15.6" height="14.9" fill="#7f91b3"/><rect x="1499.8" y="1412.4" width="15.6" height="14.9" fill="#7d93b4"/><rect x="1514.8" y="1412.4" width="15.6" height="14.9" fill="#7c96b5"/><rect x="1529.7" y="1412.4" width="15.6" height="14.9" fill="#7b99b5"/><rect x="1544.7" y="1412.4" width="15.6" height="14.9" fill="#7a9bb5"/><rect x="1559.7" y="1412.4" width="15.6" height="14.9" fill="#799eb5"/><rect x="1574.7" y="1412.4" width="15.6" height="14.9" fill="#78a0b5"/><rect x="1589.7" y="1412.4" width="15.6" height="14.9" fill="#77a3b5"/><rect x="1604.7" y="1412.4" width="15.6" height="14.9" fill="#76a5b5"/><rect x="1619.7" y="1412.4" width="15.6" height="14.9" fill="#74a7b6"/><rect x="1634.7" y="1412.4" width="15.6" height="14.9" fill="#74aab5"/><rect x="1649.6" y="1412.4" width="15.6" height="14.9" fill="#73acb5"/><rect x="1664.6" y="1412.4" width="15.6" height="14.9" fill="#72afb5"/><rect x="1679.6" y="1412.4" width="15.6" height="14.9" fill="#71b1b5"/><rect x="1694.6" y="1412.4" width="15.6" height="14.9" fill="#70b3b5"/><rect x="1709.6" y="1412.4" width="15.6" height="14.9" fill="#6fb5b4"/><rect x="1724.6" y="1412.4" width="15.6" height="14.9" fill="#6fb8b4"/><rect x="1739.6" y="1412.4" width="15.6" height="14.9" fill="#6fbab3"/><rect x="1754.6" y="1412.4" width="15.6" height="14.9" fill="#6fbcb3"/><rect x="1769.6" y="1412.4" width="15.6" height="14.9" fill="#6fbeb2"/><rect x="1784.5" y="1412.4" width="15.6" height="14.9" fill="#6fc0b1"/><rect x="1799.5" y="1412.4" width="15.6" height="14.9" fill="#6fc2b1"/><rect x="1814.5" y="1412.4" width="15.6" height="14.9" fill="#6fc3b0"/><rect x="1829.5" y="1412.4" width="15.6" height="14.9" fill="#6fc5af"/><rect x="1844.5" y="1412.4" width="15.6" height="14.9" fill="#6fc6af"/></g></g>
<polyline points="1190.8,1041.7 1195.1,1102.3 1198.5,1162.9 1203.6,1193.1 1208.6,1216.7 1212.6,1253.7 1223.7,1277.3 1238.9,1304.2 1254,1329.4 1280.9,1347.9 1304.5,1364.7 1324.7,1385 1355,1405.1 1381.9,1411.2" fill="none" stroke="#2b2535" stroke-width="6" stroke-dasharray="10,19" stroke-linecap="round" stroke-linejoin="round"/>
<polyline points="1503,1040 1503,1109 1516.5,1117.4 1560.2,1142.7 1600.6,1169.6 1651,1203.2 1694.8,1233.5 1728.5,1253.7 1748.6,1255.4 1845.5,1255.4" fill="none" stroke="#5a5530" stroke-width="6" stroke-dasharray="10,19" stroke-linecap="round" stroke-linejoin="round"/>
<rect x="1185.0" y="1039.6" width="659.5" height="372.8000000000002" fill="none" stroke="#000" stroke-width="2.4"/>
<line x1="1178.5" y1="1039.6" x2="1185.0" y2="1039.6" stroke="#000" stroke-width="2.2" />
<text x="1168.5" y="1050.8" font-size="35" text-anchor="end" fill="#000" font-weight="normal" >6.8</text>
<line x1="1178.5" y1="1109.5" x2="1185.0" y2="1109.5" stroke="#000" stroke-width="2.2" />
<text x="1168.5" y="1120.7" font-size="35" text-anchor="end" fill="#000" font-weight="normal" >5.7</text>
<line x1="1178.5" y1="1179.4" x2="1185.0" y2="1179.4" stroke="#000" stroke-width="2.2" />
<text x="1168.5" y="1190.6" font-size="35" text-anchor="end" fill="#000" font-weight="normal" >4.6</text>
<line x1="1178.5" y1="1256.0" x2="1185.0" y2="1256.0" stroke="#000" stroke-width="2.2" />
<text x="1168.5" y="1267.2" font-size="35" text-anchor="end" fill="#000" font-weight="normal" >3.4</text>
<line x1="1178.5" y1="1325.9" x2="1185.0" y2="1325.9" stroke="#000" stroke-width="2.2" />
<text x="1168.5" y="1337.1" font-size="35" text-anchor="end" fill="#000" font-weight="normal" >2.3</text>
<line x1="1178.5" y1="1412.4" x2="1185.0" y2="1412.4" stroke="#000" stroke-width="2.2" />
<text x="1168.5" y="1423.6" font-size="35" text-anchor="end" fill="#000" font-weight="normal" >0.9</text>
<line x1="1181.5" y1="1074.5" x2="1185.0" y2="1074.5" stroke="#000" stroke-width="2.2" />
<line x1="1181.5" y1="1144.5" x2="1185.0" y2="1144.5" stroke="#000" stroke-width="2.2" />
<line x1="1181.5" y1="1217.7" x2="1185.0" y2="1217.7" stroke="#000" stroke-width="2.2" />
<line x1="1181.5" y1="1291.0" x2="1185.0" y2="1291.0" stroke="#000" stroke-width="2.2" />
<line x1="1181.5" y1="1369.2" x2="1185.0" y2="1369.2" stroke="#000" stroke-width="2.2" />
<line x1="1185.0" y1="1412.4" x2="1185.0" y2="1418.9" stroke="#000" stroke-width="2.2" />
<text x="1185.0" y="1452.3" font-size="35" text-anchor="middle" fill="#000" font-weight="normal" >1</text>
<line x1="1253.2" y1="1412.4" x2="1253.2" y2="1418.9" stroke="#000" stroke-width="2.2" />
<text x="1253.2" y="1452.3" font-size="35" text-anchor="middle" fill="#000" font-weight="normal" >4</text>
<line x1="1344.2" y1="1412.4" x2="1344.2" y2="1418.9" stroke="#000" stroke-width="2.2" />
<text x="1344.2" y="1452.3" font-size="35" text-anchor="middle" fill="#000" font-weight="normal" >8</text>
<line x1="1389.7" y1="1412.4" x2="1389.7" y2="1418.9" stroke="#000" stroke-width="2.2" />
<text x="1389.7" y="1452.3" font-size="35" text-anchor="middle" fill="#000" font-weight="normal" >10</text>
<line x1="1503.4" y1="1412.4" x2="1503.4" y2="1418.9" stroke="#000" stroke-width="2.2" />
<text x="1503.4" y="1452.3" font-size="35" text-anchor="middle" fill="#000" font-weight="normal" >15</text>
<line x1="1617.1" y1="1412.4" x2="1617.1" y2="1418.9" stroke="#000" stroke-width="2.2" />
<text x="1617.1" y="1452.3" font-size="35" text-anchor="middle" fill="#000" font-weight="normal" >20</text>
<line x1="1730.8" y1="1412.4" x2="1730.8" y2="1418.9" stroke="#000" stroke-width="2.2" />
<text x="1730.8" y="1452.3" font-size="35" text-anchor="middle" fill="#000" font-weight="normal" >25</text>
<line x1="1844.5" y1="1412.4" x2="1844.5" y2="1418.9" stroke="#000" stroke-width="2.2" />
<text x="1844.5" y="1452.3" font-size="35" text-anchor="middle" fill="#000" font-weight="normal" >30</text>
<text x="1517.5" y="1497.9" font-size="35.84" text-anchor="middle" fill="#000" font-weight="normal" >Pore size (nm)</text>
<text transform="translate(1080,1236.5) rotate(-90)" font-size="35" text-anchor="middle">Pore density×10<tspan dy="-13" font-size="23">10</tspan><tspan dy="13">​</tspan> (cm<tspan dy="-13" font-size="23">-2</tspan><tspan dy="13">​</tspan>)</text>
<text x="1572.0" y="1016.3" font-size="35.74" text-anchor="middle" fill="#000" font-weight="normal" >Probability of pore overlapping (%)</text>
<text x="972.0" y="1031.8" font-size="46" text-anchor="start" fill="#000" font-weight="bold" >g</text>
<rect x="1873.0" y="1039.6" width="35.700000000000045" height="372.8000000000002" fill="url(#vcb)" stroke="#000" stroke-width="2"/>
<line x1="1908.7" y1="1412.4" x2="1915.2" y2="1412.4" stroke="#000" stroke-width="2" />
<text x="1926.0" y="1424.7" font-size="35" text-anchor="start" fill="#000" font-weight="normal" >0</text>
<line x1="1908.7" y1="1375.1" x2="1915.2" y2="1375.1" stroke="#000" stroke-width="2" />
<text x="1926.0" y="1387.4" font-size="35" text-anchor="start" fill="#000" font-weight="normal" >10</text>
<line x1="1908.7" y1="1337.8" x2="1915.2" y2="1337.8" stroke="#000" stroke-width="2" />
<text x="1926.0" y="1350.1" font-size="35" text-anchor="start" fill="#000" font-weight="normal" >20</text>
<line x1="1908.7" y1="1300.6" x2="1915.2" y2="1300.6" stroke="#000" stroke-width="2" />
<text x="1926.0" y="1312.9" font-size="35" text-anchor="start" fill="#000" font-weight="normal" >30</text>
<line x1="1908.7" y1="1263.3" x2="1915.2" y2="1263.3" stroke="#000" stroke-width="2" />
<text x="1926.0" y="1275.6" font-size="35" text-anchor="start" fill="#000" font-weight="normal" >40</text>
<line x1="1908.7" y1="1226.0" x2="1915.2" y2="1226.0" stroke="#000" stroke-width="2" />
<text x="1926.0" y="1238.3" font-size="35" text-anchor="start" fill="#000" font-weight="normal" >50</text>
<line x1="1908.7" y1="1188.7" x2="1915.2" y2="1188.7" stroke="#000" stroke-width="2" />
<text x="1926.0" y="1201.0" font-size="35" text-anchor="start" fill="#000" font-weight="normal" >60</text>
<line x1="1908.7" y1="1151.4" x2="1915.2" y2="1151.4" stroke="#000" stroke-width="2" />
<text x="1926.0" y="1163.7" font-size="35" text-anchor="start" fill="#000" font-weight="normal" >70</text>
<line x1="1908.7" y1="1114.2" x2="1915.2" y2="1114.2" stroke="#000" stroke-width="2" />
<text x="1926.0" y="1126.5" font-size="35" text-anchor="start" fill="#000" font-weight="normal" >80</text>
<line x1="1908.7" y1="1076.9" x2="1915.2" y2="1076.9" stroke="#000" stroke-width="2" />
<text x="1926.0" y="1089.2" font-size="35" text-anchor="start" fill="#000" font-weight="normal" >90</text>
<line x1="1908.7" y1="1039.6" x2="1915.2" y2="1039.6" stroke="#000" stroke-width="2" />
<text x="1926.0" y="1051.9" font-size="35" text-anchor="start" fill="#000" font-weight="normal" >100</text>
<circle cx="1615.7" cy="1055.2" r="12.3" fill="#fff" stroke="#000" stroke-width="4.4"/>
<circle cx="1388.6" cy="1258.8" r="12.3" fill="#fff" stroke="#000" stroke-width="4.4"/>
<circle cx="1343.9" cy="1397.7" r="12.3" fill="#fff" stroke="#000" stroke-width="4.4"/>
<path d="M1615.7,1072 L1615.7,1101" stroke="#000" stroke-width="4.5"/><path d="M1604,1099 L1627.4,1099 L1615.7,1119.1 Z" fill="#000"/>
<path d="M1388.6,1274 L1388.6,1302" stroke="#fff" stroke-width="4.5"/><path d="M1377.6,1300.8 L1399.6,1300.8 L1388.6,1322.7 Z" fill="#fff"/>
<path d="M1328,1396.7 L1298,1391.5" stroke="#fff" stroke-width="4.5"/><path d="M1300.5,1381 L1282.6,1390.7 L1297.5,1402 Z" fill="#fff"/>
<path d="M1259.1,1102.3 L1222,1120" stroke="#000" stroke-width="4.5"/><path d="M1206.9,1127.5 L1218.5,1111 L1226,1126.6 Z" fill="#000"/>
<path d="M1498,1179.7 L1533,1159" stroke="#000" stroke-width="4.5"/><path d="M1546.8,1151.1 L1529,1152 L1537.5,1166.5 Z" fill="#000"/>
<text x="1277.6" y="1105.7" font-size="35" text-anchor="start" fill="#000" font-weight="normal" >Lower</text>
<text x="1251.3" y="1142.0" font-size="35" text-anchor="start" fill="#000" font-weight="normal" >threshold</text>
<text x="1395.3" y="1187.1" font-size="35" text-anchor="start" fill="#000" font-weight="normal" >Upper</text>
<text x="1374.5" y="1221.7" font-size="35" text-anchor="start" fill="#000" font-weight="normal" >threshold</text>
<text x="1573.0" y="1143.3" font-size="35" text-anchor="start" fill="#000" font-weight="normal" >O<tspan dy="9.5" font-size="23">3</tspan><tspan dy="-9.5">​</tspan>-180 s</text>
<text x="1333.1" y="1354.6" font-size="35" text-anchor="start" fill="#fff" font-weight="normal" >O<tspan dy="9.5" font-size="23">3</tspan><tspan dy="-9.5">​</tspan>-60 s</text>
<text x="1196.2" y="1379.9" font-size="35" text-anchor="start" fill="#fff" font-weight="normal" >O<tspan dy="9.5" font-size="23">3</tspan><tspan dy="-9.5">​</tspan>-30 s</text>
<text transform="translate(1475,1396) rotate(-32.7)" font-size="36.3">Suitable range</text>
</svg>
</body></html>
